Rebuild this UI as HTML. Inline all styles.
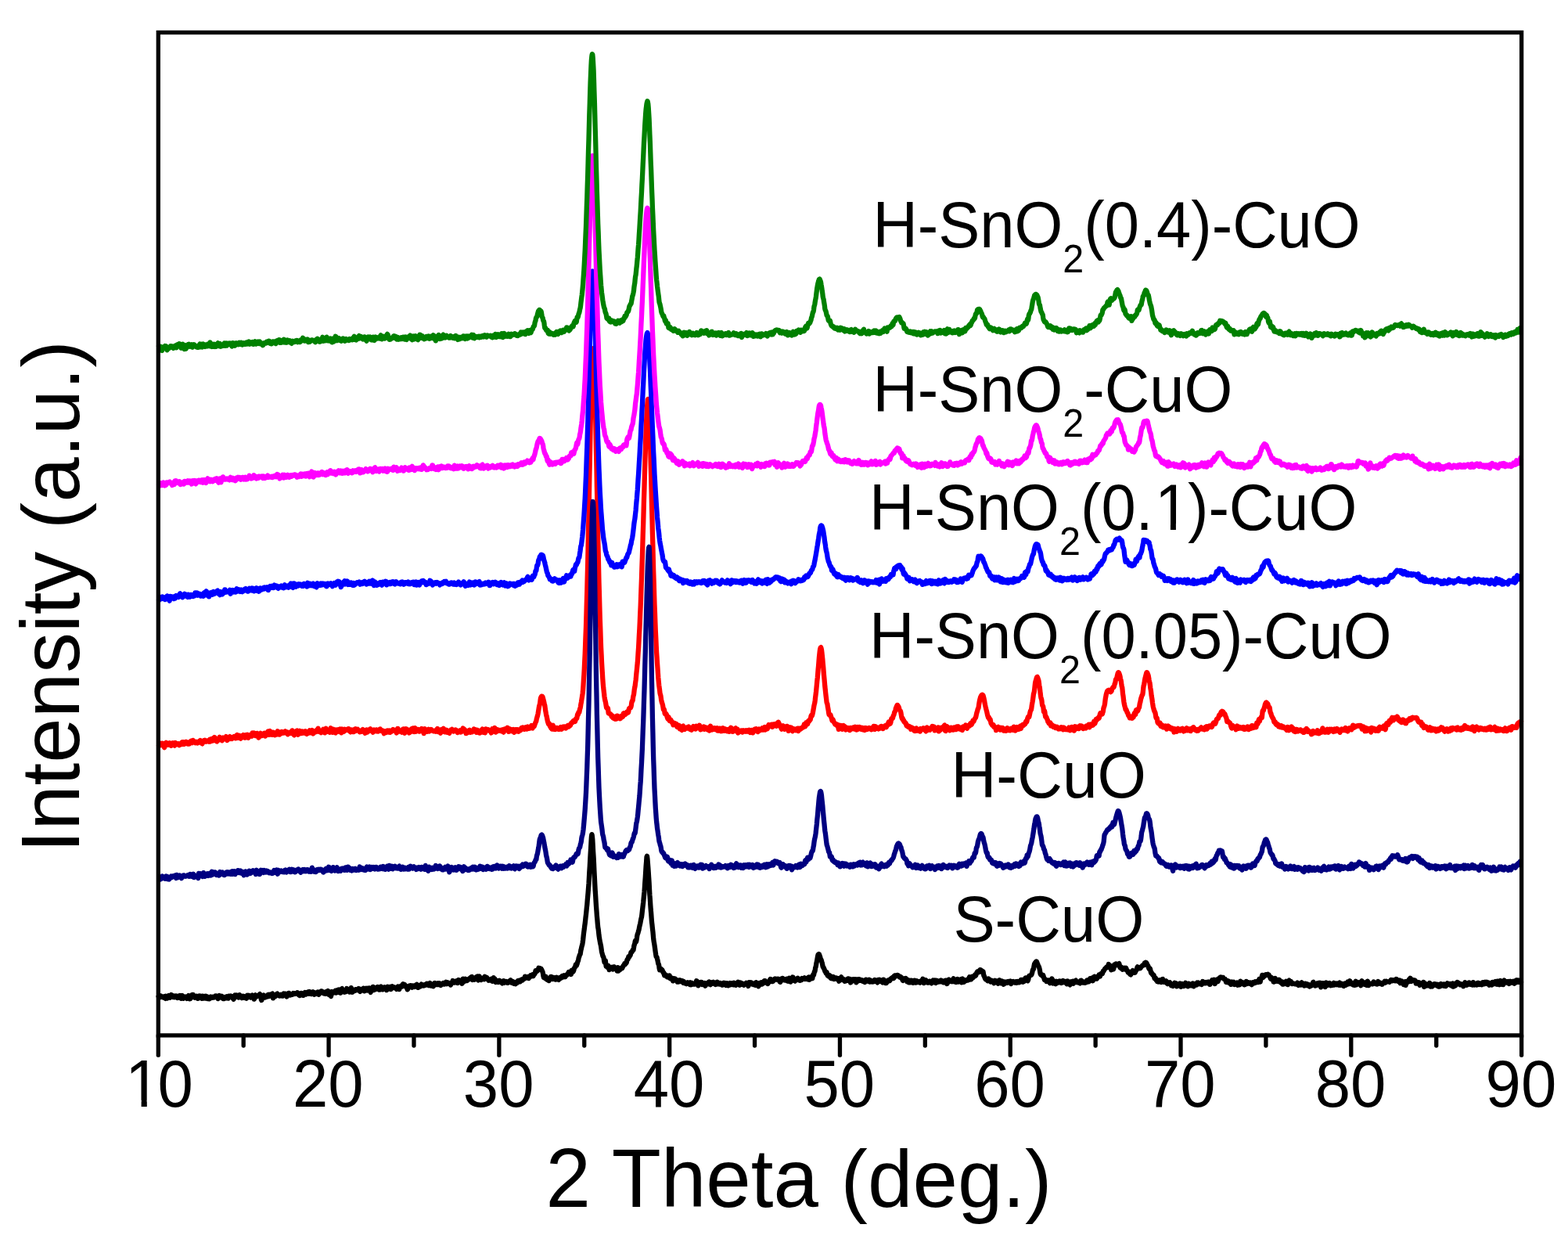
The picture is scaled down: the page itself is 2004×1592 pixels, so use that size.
<!DOCTYPE html>
<html lang="en">
<head>
<meta charset="utf-8">
<title>XRD patterns</title>
<style>
html,body{margin:0;padding:0;background:#ffffff;}
body{width:2004px;height:1592px;overflow:hidden;}
svg{display:block;}
text{font-family:"Liberation Sans",Arial,Helvetica,sans-serif;fill:#000;}
.curves path{fill:none;stroke-width:6.3;stroke-linejoin:round;stroke-linecap:butt;}
.axis{fill:none;stroke:#000;stroke-width:5.3;stroke-linecap:round;stroke-linejoin:miter;}
.ticklab text{font-size:81.5px;}
.lab text{font-size:79.5px;}
.title text{font-size:103.3px;}
.cover rect{fill:#ffffff;}
</style>
</head>
<body>
<svg width="2004" height="1592" viewBox="0 0 2004 1592" role="img" aria-label="XRD patterns of CuO and SnO2-CuO samples">
<rect x="0" y="0" width="2004" height="1592" fill="#ffffff"/>
<g class="curves">
<path d="M202.3 1271.6l.4 1.6 .5 1.2 .4-.4 .4 .4 .5 0 .4-1.2 .4-.9 .5 .4 .4 .6 .5 0 .4 0 .4 .2 .5 .8 .4 .2 .4-1 .5-.1 .4 .7 .4-1 .5-.1 .4 2.4 .4 .4 .5-2.1 .4-.9 .5 1.1 .4 1.2 .4 .5 .5-.3 .4-1.2 .4-.3 .5-.5 .4-1.2 .4 .6 .5 1.9 .4 .2 .4-.4 .5-.4 .4-1.9 .5-1 .4 .7 .4 .7 .5 .5 .4 .3 .4 .7 .5 .1 .4-1.7 .4 0 .5 .7 .4 .3 .4 .7 .5-.7 .4-.9 .5 0 .4 .4 .4 1.2 .5 .2 .4-.1 .4 .8 .5-.7 .4-1.5 .4 .1 .5 1 .4 .6 .4-.9 .5-1.5 .4 .6 .4 2 .5 1.1 .4-.8 .5-2.5 .4-.5 .4 1.6 .5 .2 .4 .7 .4 1.3 .5-.6 .4-1 .4-.5 .5 .1 .4 .1 .4 1 .5-.2 .4-1.1 .5 1.3 .4 1 .4-.6 .5-.5 .4-.6 .4-.9 .5-1.2 .4 .2 .4 2.6 .5 1.4 .4-.4 .4 .2 .5-.7 .4-1 .5 0 .4-1.3 .4-2 .5-.1 .4 0 .4 0 .5 1.9 .4 1.1 .4 0 .5 .4 .4 .3 .4-.2 .5-1.2 .4-.4 .5 .8 .4-.2 .4-.6 .5 0 .4 .9 .4 2 .5-.8 .4-2.2 .4-.2 .5 1.3 .4 1.2 .4-1.5 .5-1 .4 .4 .4 .4 .5 1.3 .4 .6 .5 .4 .4-.8 .4-2.2 .5 .4 .4 2.5 .4-.2 .5-1.8 .4-.7 .4 0 .5 1.2 .4 1.3 .4-.9 .5-1.7 .4 .6 .5 1.2 .4 .7 .4 .7 .5-1.3 .4-.8 .4 .9 .5-.1 .4 .5 .4 1.1 .5-.8 .4-.7 .4-.2 .5-1.1 .4 .3 .5 1.2 .4-.1 .4-.1 .5-.3 .4-.7 .4 .2 .5-.2 .4 .1 .4 .6 .5-.8 .4 .3 .4 .1 .5-1.6 .4 .6 .5 .3 .4-.8 .4 .4 .5 .4 .4 1.1 .4 1.6 .5-.7 .4-1.4 .4-1.2 .5-.7 .4 .5 .4 1 .5 0 .4 0 .5 .8 .4-.5 .4-1.2 .5 .5 .4 1.2 .4 1.1 .5 .5 .4-.3 .4 .5 .5-.1 .4-1.5 .4-.6 .5 .3 .4 0 .4 0 .5 .9 .4-.7 .5-1.2 .4 .2 .4 0 .5 .6 .4 1.5 .4-.9 .5-2.1 .4 .2 .4 .8 .5 0 .4 0 .4-.6 .5-.5 .4 .2 .5 .3 .4 .3 .4 .8 .5 1.3 .4-.1 .4-.1 .5 1.5 .4-1.1 .4-1.9 .5-1.3 .4-1 .4 .5 .5 1.4 .4 .4 .5-1.5 .4-.7 .4 .6 .5-.1 .4 0 .4 .5 .5 .7 .4 1.2 .4-.9 .5-2.3 .4 .4 .4 1.8 .5 .5 .4-1 .5 .2 .4 1.6 .4 .4 .5-1.4 .4-.8 .4 .9 .5-.4 .4-.6 .4 1.2 .5 .8 .4-.9 .4-.4 .5 1.4 .4 .3 .4-2 .5 .6 .4 1.9 .5-2.1 .4-1.8 .4 1.2 .5-.6 .4-.7 .4 1 .5-.1 .4-.6 .4 .5 .5 .8 .4 .7 .4 .5 .5-.9 .4-.6 .5 1.1 .4-.8 .4-1.8 .5 .7 .4 .8 .4 .2 .5 1.5 .4 1.9 .4-.2 .5-2.3 .4-2.1 .4-.6 .5 .8 .4 .6 .5-.7 .4 .2 .4 .8 .5-.5 .4-.5 .4-.3 .5-.2 .4 .1 .4-.1 .5-1 .4-.4 .4 1.2 .5 .5 .4 1.7 .5 3.6 .4 .8 .4-1.9 .5-1.1 .4-.5 .4-1.4 .5-1 .4-.4 .4 .6 .5 .5 .4 .5 .4 1.3 .5-.2 .4-1.6 .4 .1 .5 .8 .4-.4 .5 .2 .4 0 .4-1.5 .5-1.1 .4 1.3 .4 .9 .5-1.5 .4-.8 .4 1.1 .5 .5 .4-.7 .4-.6 .5-.5 .4 .3 .5 .3 .4-1.3 .4-.3 .5 2.6 .4 3.2 .4-.8 .5-3.1 .4 .1 .4 1.5 .5 .5 .4-.3 .4-1.3 .5-.7 .4 .5 .5-.6 .4-1.5 .4-.2 .5 .7 .4 .9 .4 .6 .5 .1 .4 .3 .4 .3 .5 .2 .4-.6 .4-.8 .5-.3 .4 .6 .5 .8 .4-.7 .4-.1 .5 1.1 .4 0 .4-.9 .5-1.2 .4-1 .4 .3 .5 .7 .4 0 .4-.8 .5-.1 .4 .4 .4 .4 .5 1.5 .4 1.6 .5-1.5 .4-1.7 .4 .2 .5-1.1 .4-.4 .4 .5 .5-.4 .4 .8 .4 1.4 .5 .3 .4-.3 .4-.1 .5-.3 .4-.6 .5-.1 .4 .2 .4 .3 .5-.9 .4-.8 .4 1.2 .5-.1 .4-1 .4 .1 .5 .3 .4 .4 .4-.2 .5-.4 .4 .3 .5 .1 .4-.6 .4-.9 .5 .7 .4 .6 .4 .7 .5 1 .4-.5 .4 .1 .5 1.2 .4-.5 .4-1.2 .5-.2 .4-1.1 .5 0 .4 1.3 .4-.3 .5 .2 .4 1.6 .4 .1 .5-1.5 .4-1.1 .4-.1 .5 .8 .4-.3 .4-1.7 .5 .7 .4 1.9 .5-.8 .4-1.1 .4 1 .5-.1 .4-1.6 .4-.4 .5 .5 .4 1.2 .4 .4 .5-1.5 .4-1.1 .4 .4 .5-.1 .4 .2 .4 1.8 .5 .7 .4-.1 .5 0 .4-.7 .4-1.2 .5-.8 .4 .5 .4 1.1 .5 1 .4 .8 .4-.7 .5-1.6 .4 0 .4 .7 .5 .5 .4 .3 .5-.2 .4 0 .4-.9 .5-1.5 .4 0 .4 2 .5 1.4 .4-.8 .4-.9 .5-.3 .4 0 .4-.4 .5-1.4 .4-.6 .5 .1 .4 .1 .4 .3 .5 1 .4 .9 .4-.1 .5-.2 .4 .1 .4 1 .5-.6 .4-1.2 .4 1 .5 1.1 .4-.3 .5-1.4 .4-1 .4 .8 .5 .2 .4-1.3 .4-.8 .5 1.8 .4 2.2 .4 .9 .5-1 .4-1 .4-.4 .5 .4 .4 3.3 .4 .7 .5-3.5 .4-2.4 .5 .4 .4 .9 .4 .1 .5 .3 .4-.3 .4-1.1 .5-.3 .4 .3 .4 .4 .5-.7 .4-1.4 .4 1.5 .5 1.5 .4-1.6 .5-1.5 .4 .6 .4 .3 .5-.9 .4-.9 .4-.1 .5 2.2 .4 1.4 .4-.3 .5-.9 .4 .9 .4 .8 .5-1.4 .4-1.3 .5-2.4 .4-.3 .4 2.7 .5 .7 .4-.7 .4 0 .5 .1 .4 .7 .4 1 .5-.1 .4-.5 .4 .3 .5 0 .4-.8 .5-2.2 .4-1.4 .4 1.4 .5 .5 .4-.2 .4 1.2 .5-.2 .4-.7 .4 1.4 .5 1.2 .4-.8 .4-1.3 .5-.2 .4-1.6 .4-1.6 .5 1.4 .4 2.6 .5 1.7 .4-.1 .4-.8 .5-.7 .4-.6 .4-.3 .5 .1 .4 0 .4 .6 .5-.4 .4-1.5 .4 .2 .5 .8 .4-.2 .5-.2 .4 .1 .4 .2 .5-.1 .4-1 .4-.8 .5 .3 .4 1.4 .4 1.4 .5 .7 .4-1.8 .4-1.2 .5 .9 .4 0 .5-.1 .4 .3 .4 .2 .5-.8 .4-1.3 .4-.4 .5 .1 .4 1.6 .4 1.9 .5-.5 .4-.4 .4-.1 .5-1.6 .4-.9 .5 .2 .4 1.1 .4 1.3 .5-1.3 .4-1.5 .4 .4 .5-.2 .4 .2 .4 .2 .5-.6 .4 1.5 .4 2.8 .5 1 .4-1.3 .4-2.1 .5-.2 .4 1.2 .5-.5 .4-2.7 .4-1.4 .5 2.1 .4 2.1 .4-1.3 .5-1.9 .4 .6 .4 1.7 .5 .1 .4-.7 .4-.2 .5-.2 .4-.7 .5-1.2 .4-.3 .4 .7 .5 .2 .4 .3 .4 1.4 .5 1.1 .4 0 .4-1.3 .5-1.4 .4-1.3 .4-.2 .5 1.1 .4 .8 .5 1.2 .4 .7 .4 .1 .5-.1 .4-1 .4-.9 .5-.8 .4-.2 .4 .8 .5 .7 .4 0 .4 .1 .5-.1 .4 .8 .5 1.4 .4-.7 .4-2 .5-1.7 .4 .6 .4 1.7 .5 0 .4-.7 .4-.5 .5-.9 .4 0 .4 1.8 .5 1.3 .4-.1 .5-1.3 .4-2.3 .4-.1 .5 1.2 .4 .3 .4 .3 .5-.1 .4 0 .4-.7 .5 .3 .4 .8 .4-.5 .5 .1 .4 .1 .4 .7 .5 1.2 .4-.7 .5-1.3 .4-.8 .4-.5 .5 1 .4 1.1 .4 .9 .5 .4 .4-1.8 .4-1.7 .5 .2 .4-.2 .4-.6 .5 .3 .4 .3 .5 .1 .4-.5 .4-2.1 .5-.8 .4 1.5 .4 .4 .5-.4 .4-.9 .4 .3 .5 1.8 .4 .6 .4 0 .5-.1 .4 .4 .5 1.3 .4 1 .4 1.1 .5-.4 .4-1.7 .4-1.5 .5-1 .4 0 .4 1.1 .5 .3 .4-1.2 .4-.6 .5-.1 .4 1 .5 1.3 .4 .2 .4-.9 .5-1.2 .4 0 .4 .3 .5 .2 .4 .4 .4 .5 .5-.5 .4-1.2 .4-.2 .5-.1 .4-.5 .4 0 .5 0 .4-.5 .5 1.4 .4 2.5 .4 .1 .5-1.5 .4-.6 .4 .3 .5-.6 .4-.5 .4 .8 .5 .6 .4-.4 .4-1.7 .5-.7 .4 .8 .5 .4 .4-.1 .4 0 .5 .5 .4 .3 .4-.8 .5-.4 .4 .5 .4 .2 .5-.6 .4-.7 .4 .5 .5 0 .4-1.3 .5-.2 .4 1.2 .4 .6 .5-.3 .4 .6 .4 .3 .5-1.1 .4-.4 .4-.8 .5-.7 .4 .6 .4 .7 .5 1.3 .4 .9 .5-.4 .4-.6 .4-.4 .5 .8 .4 .8 .4 .4 .5-1.2 .4-1.8 .4-1 .5-.2 .4 1.2 .4 .5 .5-.3 .4 .1 .4 .6 .5-.2 .4-1.4 .5-.2 .4 1 .4 .6 .5-.5 .4 .8 .4 0 .5-2 .4 .4 .4 1.3 .5 .5 .4 .6 .4-.7 .5-1 .4 .6 .5-.2 .4-.7 .4-.3 .5-.6 .4 .5 .4 .9 .5 .1 .4-1.2 .4-.7 .5 .1 .4-.6 .4-.4 .5 .4 .4 .8 .5 1.1 .4-.3 .4-1.5 .5 .2 .4 .3 .4 .2 .5 .9 .4-.1 .4-.7 .5-.2 .4 1.7 .4 1 .5-2 .4-.9 .5 .5 .4-.1 .4-1.4 .5-1.7 .4 .5 .4 .7 .5-.3 .4 1 .4 .7 .5-.1 .4-.1 .4-.3 .5-.6 .4-.9 .4 .3 .5-.1 .4-.8 .5 1.2 .4 1.8 .4-1.4 .5-2.6 .4 .2 .4 .9 .5-.2 .4 .5 .4-.4 .5-.3 .4 .2 .4 .1 .5 1.7 .4 2 .5-.5 .4-2.9 .4-2.6 .5 1 .4 1.4 .4 .2 .5 .7 .4-.8 .4-1.8 .5-.6 .4 .7 .4 .9 .5-.9 .4 0 .5 1.6 .4-.3 .4-1.2 .5-.3 .4 0 .4-.3 .5-.5 .4 .6 .4 0 .5-1.7 .4-.1 .4 .3 .5-.9 .4-.6 .5-.1 .4 2.4 .4 1.6 .5-1.8 .4-.2 .4 1 .5-.6 .4 .6 .4 .6 .5-1.4 .4-.9 .4 .1 .5-.3 .4-.7 .5-.4 .4-.1 .4-.3 .5 1.1 .4 2.3 .4 1.5 .5-1.1 .4-3 .4-.9 .5 1.3 .4 .8 .4 .6 .5 .9 .4 .9 .4-.3 .5-1.7 .4-.2 .5 1 .4-.3 .4-.9 .5 .2 .4 .8 .4 .7 .5-1.4 .4-2.1 .4 .2 .5 1.4 .4 1.1 .4-.9 .5-.8 .4 .3 .5 .9 .4 .9 .4 .1 .5 .8 .4 .8 .4-.5 .5-.1 .4 .4 .4 .1 .5-.4 .4-.7 .4-.1 .5-.5 .4 .9 .5 1.6 .4 .5 .4 .1 .5-1.3 .4-2.2 .4-1.1 .5 .8 .4 .8 .4-.4 .5 .8 .4 2.3 .4 1.3 .5-1.2 .4-1 .5 .8 .4 .1 .4-.2 .5 1.2 .4 .3 .4-.3 .5 .1 .4-1.2 .4-.8 .5 .5 .4 .8 .4 .3 .5-.2 .4 0 .4 .2 .5 1.6 .4 .5 .5-1.9 .4-.2 .4 .7 .5-1.7 .4 .4 .4 2.1 .5-.9 .4-.9 .4-.2 .5 .2 .4 .9 .4 0 .5-.8 .4 .6 .5 1.1 .4-.3 .4 .2 .5-.3 .4-.7 .4 .1 .5-.7 .4-.9 .4 .7 .5-.7 .4-.8 .4 1.9 .5 1.3 .4 .1 .5-.8 .4-.4 .4 .3 .5-.4 .4 .7 .4 1.6 .5-.4 .4-.9 .4 .6 .5 .9 .4 .3 .4-.4 .5-1.1 .4-1 .5 .3 .4 .9 .4-1 .5-1.7 .4 .7 .4 .7 .5-1.4 .4-.4 .4 .2 .5 .2 .4 1 .4-.8 .5-1.4 .4-.1 .4-.3 .5-.3 .4 .6 .5 .4 .4-.7 .4-.9 .5-.5 .4-.2 .4 .6 .5-.6 .4-2.4 .4 .3 .5 1.9 .4-.1 .4-1.1 .5-.1 .4 .3 .5 .2 .4-.1 .4-.8 .5 .8 .4 1.1 .4-1.1 .5-.6 .4 .3 .4-1 .5-1.4 .4 0 .4 .4 .5 .2 .4 0 .5-.7 .4-.9 .4 .8 .5 1.2 .4-.8 .4-1 .5-.5 .4-.6 .4-.1 .5-1.7 .4-2.3 .4 .1 .5 1.1 .4-.3 .5-.8 .4 .3 .4-.6 .5-1.1 .4-.6 .4-1.5 .5 .1 .4 1.5 .4 .1 .5-.7 .4-.4 .4 0 .5 .4 .4 .6 .4 .7 .5 1 .4 1.1 .5 1.3 .4 2.3 .4 2.6 .5 1.6 .4 .3 .4-.1 .5 .4 .4 .3 .4-1.2 .5-1 .4 1.3 .4 2.3 .5-.2 .4-.5 .5 1.5 .4 .2 .4-.4 .5 1 .4 .2 .4-.7 .5-1.6 .4-.5 .4 .1 .5-1.3 .4-1.3 .4 0 .5 1.5 .4 1.2 .5 .6 .4 0 .4-1.1 .5-1 .4 0 .4 .9 .5 .7 .4-.1 .4 .4 .5 .6 .4-1.2 .4-1.4 .5-.1 .4 1.1 .5 1.3 .4-.1 .4-1 .5-.1 .4 1.3 .4 .5 .5-1 .4-.1 .4-.4 .5-1.3 .4 .4 .4 .6 .5-.6 .4-.7 .5-.8 .4-.9 .4 0 .5 .9 .4 .6 .4-.2 .5-1.3 .4-.8 .4 .2 .5 .9 .4 .9 .4-.9 .5-.8 .4 0 .4-.8 .5 0 .4-.3 .5-1.5 .4-.3 .4-.1 .5-1.5 .4 0 .4 1 .5-.2 .4-1.1 .4 0 .5 2.3 .4 .9 .4-2.6 .5-2.5 .4 .1 .5 1 .4 .8 .4-.1 .5-.8 .4-1 .4-1.8 .5-1.6 .4-.3 .4-.4 .5-1.8 .4-1.5 .4 .9 .5 .4 .4-1.1 .5-1.2 .4-1.8 .4-1.3 .5-.8 .4-2.3 .4-2 .5-.9 .4-1.9 .4-.6 .5-.4 .4-2.7 .4-2.7 .5-1.7 .4-2.1 .5-1.9 .4-1.2 .4-2.3 .5-3.6 .4-3.8 .4-4 .5-3.7 .4-2.9 .4-3.5 .5-3.6 .4-3.3 .4-4 .5-4.1 .4-3.9 .4-4.1 .5-4.4 .4-5.4 .5-5.4 .4-4.7 .4-5.2 .5-6.3 .4-7.2 .4-7.7 .5-7.4 .4-7.6 .4-7.4 .5-7.7 .4-8 .4-6.6 .5-3.2 .4 1.6 .5 4.9 .4 7 .4 8.1 .5 7.4 .4 8 .4 9.3 .5 9.8 .4 8.1 .4 7.1 .5 7.5 .4 7 .4 6.1 .5 6.4 .4 6 .5 5 .4 5.1 .4 4.1 .5 2.9 .4 3.6 .4 3.9 .5 3.4 .4 2.3 .4 2.3 .5 2.6 .4 1.5 .4 2.1 .5 3.6 .4 3.2 .5 1.9 .4 1.3 .4 1.9 .5 1.3 .4 0 .4 1.7 .5 3.1 .4 2.1 .4-.2 .5-1.8 .4 .1 .4 4 .5 3.5 .4-.7 .4-.3 .5 1.8 .4-.7 .5-1.4 .4 0 .4 .7 .5 2.8 .4 2 .4-.5 .5-.6 .4-.7 .4-.7 .5 .4 .4 .7 .4 .2 .5-1 .4-1.1 .5 1.4 .4 1.3 .4-1.1 .5-.7 .4-.5 .4-.9 .5 .8 .4 1 .4-.6 .5 0 .4 .6 .4 .1 .5 1.7 .4 1.6 .5-2 .4-2.3 .4 1.8 .5 2.6 .4-.5 .4-2.1 .5 .1 .4 1.2 .4-.3 .5-.7 .4-.8 .4-.8 .5 .2 .4 .6 .5-.4 .4-1 .4-.8 .5-.9 .4-.9 .4-.3 .5-.5 .4-1.4 .4 .2 .5 .6 .4-1.2 .4-.9 .5 .5 .4-.7 .4-2.5 .5-1.3 .4 .1 .5-.6 .4-1.5 .4-1.8 .5-.2 .4 .5 .4-1 .5-.7 .4-.1 .4-2 .5-2 .4-.3 .4-.3 .5 .1 .4-1 .5-1.5 .4 .4 .4-.4 .5-2.9 .4-2.8 .4-.9 .5-1.6 .4-2.6 .4-1.1 .5 1 .4 .5 .4-1.5 .5-3.1 .4-3.1 .5-2.1 .4-.8 .4-1.4 .5-2.1 .4-.9 .4-2.3 .5-2.7 .4-1.4 .4-1.8 .5-2.6 .4-2.3 .4-1.8 .5-1.7 .4-3.4 .5-4.4 .4-3.5 .4-3.4 .5-4.2 .4-4.3 .4-4.2 .5-5 .4-5.6 .4-6.5 .5-6.7 .4-6.6 .4-6.6 .5-6.2 .4-6.1 .5-1.2 .4 3 .4 5.2 .5 6.2 .4 5.8 .4 6.4 .5 7.5 .4 8 .4 7.6 .5 6.6 .4 6.2 .4 5.6 .5 5.3 .4 5.7 .4 5.3 .5 4 .4 4 .5 4.1 .4 4.4 .4 4.8 .5 3.7 .4 1.9 .4 2.7 .5 3.5 .4 2.9 .4 2.9 .5 3.2 .4 2.1 .4 .5 .5 .4 .4 1.9 .5 1.9 .4 2.2 .4 2.2 .5 .4 .4 1.6 .4 3.6 .5 2.3 .4-.3 .4-1.2 .5-.1 .4 1.7 .4 .3 .5-1 .4 .2 .5 .8 .4 1.2 .4 1.3 .5 .1 .4 .3 .4 2 .5 1.7 .4-.6 .4-.7 .5 .7 .4 .2 .4 0 .5 .9 .4 .9 .5 .4 .4-.8 .4-.6 .5 .9 .4 1 .4 .3 .5-1.5 .4-1 .4 2.4 .5 1.4 .4-.6 .4 .1 .5-.4 .4 0 .4 1.6 .5 .4 .4 .2 .5 1.8 .4-.3 .4-2.2 .5-.6 .4 .4 .4-.1 .5-.1 .4 1 .4 .9 .5-.1 .4-.6 .4 .2 .5 1.8 .4 .8 .5-1.1 .4 .3 .4 .8 .5-.2 .4-.2 .4-1 .5-.8 .4 1.3 .4 .3 .5-.8 .4-.3 .4 0 .5 1.3 .4 .2 .5-1 .4 .5 .4 1.9 .5-.2 .4-1.5 .4 .9 .5 1.3 .4-.3 .4-.4 .5 .4 .4 .9 .4 .3 .5-.8 .4-.7 .5-.2 .4-.2 .4 .2 .5 .6 .4 .8 .4 .4 .5 .1 .4 .5 .4-1.6 .5-1 .4 1.6 .4 1.4 .5-.6 .4-1.4 .4-.2 .5 .7 .4 .8 .5 0 .4-.5 .4-.1 .5 .1 .4-.4 .4-.1 .5 1 .4-.2 .4-1.6 .5-1.2 .4-1.3 .4 .2 .5 1.9 .4 1 .5 1.4 .4 1.7 .4-1.6 .5-2.4 .4 .1 .4 .4 .5 0 .4 .8 .4-.9 .5-.8 .4 0 .4 0 .5 1.8 .4 1.2 .5-1.2 .4-.8 .4 0 .5 .5 .4 1.3 .4-.4 .5-1.5 .4 1.6 .4 2.2 .5-1.7 .4-1.2 .4 .3 .5-.9 .4 0 .5 .6 .4-1.1 .4-.3 .5 1.8 .4-.5 .4-2.3 .5 .3 .4 1.6 .4 1.2 .5 .6 .4-.6 .4-1.1 .5-1 .4 .5 .4 .9 .5-.3 .4 0 .5-.9 .4-.7 .4 1.4 .5 .4 .4-1.3 .4 .8 .5 1.6 .4 .3 .4-.3 .5-1.1 .4-1.5 .4-.3 .5-.2 .4 .3 .5 1.6 .4 .6 .4-.3 .5-.9 .4 .1 .4 1.4 .5-.3 .4-1.2 .4 .5 .5 .5 .4 .1 .4 1 .5 .4 .4-.5 .5 .5 .4-.5 .4-1.7 .5-.5 .4 .2 .4-.1 .5-.1 .4 .8 .4 1 .5 .7 .4 .6 .4-.2 .5-1.4 .4-1.1 .5 1.3 .4 1.4 .4 .4 .5-.3 .4-.6 .4-.5 .5-.5 .4-.3 .4-1 .5 .4 .4 1.7 .4-.7 .5-1.1 .4-.2 .5 0 .4 .9 .4 .8 .5 .3 .4-1.3 .4-1.1 .5 .5 .4 .5 .4 1.7 .5 0 .4-.8 .4 1 .5-.9 .4-1.6 .4 .6 .5 .7 .4-1.2 .5-1.6 .4 .1 .4 .9 .5-.1 .4 .7 .4 2.4 .5-.5 .4-2 .4-.6 .5 .3 .4 .6 .4-.1 .5 .6 .4 .8 .5-.4 .4-.3 .4 1.1 .5 .5 .4-.8 .4 .2 .5-.3 .4-1 .4-.1 .5-.3 .4-.7 .4 .2 .5 .9 .4 .1 .5-.7 .4 1.6 .4 2.2 .5-2.2 .4-2.7 .4 .2 .5 .5 .4-.2 .4 .3 .5 .1 .4-.7 .4 .4 .5 1.2 .4 .5 .5-.6 .4-.4 .4 1 .5 .5 .4 .2 .4 .1 .5-.3 .4-.2 .4 .3 .5 .8 .4-1.3 .4-2.4 .5 .8 .4 2.4 .4-.3 .5-1.3 .4 .8 .5 1.6 .4 1.2 .4-.9 .5-2.4 .4-.9 .4 .2 .5 .4 .4 .2 .4-.9 .5-.6 .4 1.3 .4 .9 .5-.8 .4-1 .5 .2 .4 .4 .4-1.3 .5-1.4 .4-.4 .4 .8 .5 .4 .4-1.3 .4 .7 .5 1.5 .4-.1 .4-.5 .5 .2 .4 1.5 .5 .5 .4-.3 .4-.8 .5-1.2 .4-.5 .4-.3 .5-1 .4-1.4 .4-.5 .5 .1 .4 1.6 .4 1.5 .5 0 .4-.5 .5-.2 .4 .4 .4-.2 .5-.8 .4-.8 .4-.5 .5-.8 .4-.2 .4 .8 .5 .2 .4-.4 .4-.3 .5-.1 .4-.1 .4 .4 .5 .7 .4-.7 .5-.4 .4 .1 .4 0 .5 .6 .4 1.5 .4 1.8 .5 .1 .4-.9 .4-1.7 .5-1.7 .4-.2 .4-.1 .5-.2 .4-.1 .5 .9 .4 1.4 .4 0 .5-.3 .4 .4 .4-.8 .5-.2 .4 .6 .4-.4 .5 1.3 .4 .3 .4-2.4 .5 .1 .4 .8 .5 .4 .4 1.7 .4-.9 .5-2.6 .4-.4 .4 .7 .5 .6 .4 1.8 .4 1.7 .5-.8 .4-1.1 .4 .2 .5-.5 .4-2.1 .5-1.8 .4 .1 .4 1.6 .5 1.5 .4 1.1 .4 .3 .5 .2 .4 .3 .4-1 .5-1.2 .4 1 .4-.1 .5-1.5 .4-.5 .4-.2 .5-.4 .4 .4 .5 1.5 .4 .8 .4-.1 .5-1 .4 .1 .4 1.3 .5-.5 .4-1.1 .4 .3 .5 .7 .4-.9 .4-1.1 .5 .7 .4 .2 .5-.4 .4-.3 .4-.4 .5 0 .4-.6 .4 .4 .5 1.3 .4-.1 .4-.7 .5 .1 .4 .2 .4 .1 .5 .2 .4 .4 .5-.6 .4-1.9 .4-.2 .5 2 .4 1.4 .4-.8 .5-1 .4-.9 .4-.8 .5 .2 .4-.1 .4-.5 .5 1.5 .4 .8 .5-2.6 .4-2.3 .4 .2 .5 .2 .4-2.2 .4-1.9 .5-.1 .4-1.8 .4-3.1 .5-1.3 .4-2 .4-2.9 .5-1.9 .4-2.4 .5-2.9 .4-2.2 .4-1.3 .5-.6 .4-.2 .4 .3 .5 1.3 .4 1.1 .4 1.2 .5 1.8 .4 .9 .4 .6 .5 1.7 .4 1.3 .4 1.2 .5 3 .4 1.9 .5 .2 .4 1.1 .4 .9 .5 .8 .4 1.3 .4 1.3 .5 .5 .4 .7 .4 1.3 .5-.5 .4-.8 .4 1 .5 2.5 .4 1 .5-1.1 .4 .5 .4 1.6 .5-.2 .4-1.1 .4-.1 .5 .8 .4 1.4 .4 1.3 .5 .3 .4-.4 .4 .4 .5 .3 .4-.7 .5-.9 .4-.7 .4 .5 .5 1.9 .4 .6 .4-1.2 .5 .1 .4 .4 .4-1 .5 0 .4 0 .4 .5 .5 1 .4-.2 .5 .2 .4-.2 .4-.3 .5 1.7 .4 1.7 .4-1.2 .5-2.6 .4-.2 .4 1.1 .5-.4 .4-1.5 .4-.5 .5 1.6 .4 2 .4 .1 .5-1.3 .4-.1 .5 1.1 .4 .3 .4-.4 .5 .9 .4 1.1 .4-.6 .5-1.3 .4-.1 .4 .6 .5 .8 .4-.3 .4-.8 .5 .8 .4-.6 .5-1.8 .4 .4 .4 .4 .5-.4 .4 .2 .4-.1 .5 2 .4 2.6 .4-1.7 .5-2 .4 .4 .4-.1 .5 .1 .4 1.3 .5-.5 .4-1.7 .4 .5 .5 0 .4-.5 .4 1.7 .5 .4 .4-1.8 .4-.2 .5 2.2 .4 1.8 .4-.8 .5-2 .4-.9 .5 .3 .4 1.4 .4-.2 .5-2.1 .4 .1 .4 .4 .5-.1 .4 .9 .4 .5 .5-.2 .4-.6 .4 .3 .5 .5 .4-.7 .4 .6 .5 1 .4-.4 .5-.6 .4 .1 .4-.1 .5 .7 .4 1.5 .4-.9 .5-2 .4-.5 .4 .1 .5 .5 .4 0 .4 .3 .5 1.1 .4 .1 .5-.7 .4-.8 .4-.3 .5 1.1 .4 1.6 .4-.2 .5-1.3 .4-.5 .4 .8 .5 .9 .4-.4 .4 .6 .5 .1 .4-1 .5-.3 .4 .3 .4 .7 .5-.3 .4-1.5 .4-.5 .5 .2 .4 .1 .4 .9 .5 .8 .4 0 .4-.4 .5 .5 .4 1.3 .5-1.1 .4-2.3 .4 .7 .5 1.4 .4-1.2 .4-1.2 .5 1 .4 .9 .4 .3 .5 .2 .4-.9 .4-.4 .5 .4 .4 1.7 .4 .5 .5-2.6 .4-1.2 .5 0 .4 .3 .4 1.1 .5 .4 .4 1.2 .4 1.4 .5-.4 .4-.6 .4 1 .5-.5 .4-2.1 .4 .1 .5-.1 .4-.9 .5 0 .4 .1 .4-.3 .5 0 .4 .8 .4-.5 .5-1.7 .4-.1 .4-.3 .5-.6 .4 .3 .4 0 .5-.5 .4-1 .5-.1 .4 1.5 .4-.4 .5-2.7 .4-.3 .4 1.1 .5-.7 .4-.5 .4 .8 .5-.1 .4-.8 .4-.3 .5-.2 .4-.1 .5 .2 .4 .3 .4 .2 .5 .4 .4 .7 .4 .7 .5-.4 .4 0 .4 .9 .5-.5 .4 .4 .4 1.3 .5-.2 .4 .9 .5 1.8 .4 .3 .4-.6 .5-1.2 .4-.4 .4 .6 .5 0 .4 .5 .4-.6 .5-1.3 .4 .5 .4 1.2 .5 1.4 .4 1.3 .4 0 .5-1.6 .4-.5 .5 1.7 .4 1.3 .4-.4 .5-1.3 .4 .4 .4 1.5 .5-1.3 .4-1.4 .4 .5 .5-.4 .4 .4 .4 1.8 .5 .6 .4 .1 .5 .1 .4-1.5 .4-1.2 .5 .7 .4 .1 .4-1.2 .5 .6 .4 2.3 .4-.2 .5-2 .4-.1 .4 1.1 .5 .7 .4 .1 .5-.5 .4-.4 .4 .4 .5-.5 .4-.2 .4 1.2 .5 .4 .4-1.2 .4-.8 .5-.4 .4 .3 .4 1.4 .5-.1 .4-2.5 .5-1.6 .4 1.7 .4 2.8 .5 .8 .4-.8 .4-.5 .5 .7 .4-.2 .4-2.1 .5-.7 .4 1.4 .4 .4 .5 .1 .4 .7 .4 .4 .5 .3 .4-.1 .5-.8 .4-.7 .4 .2 .5 .1 .4-.5 .4 .4 .5 .3 .4-.1 .4 1.1 .5 .7 .4-.8 .4-1.2 .5-1.1 .4-.5 .5 .8 .4 1 .4-.6 .5-1.3 .4-.1 .4 1.6 .5 1.5 .4 .4 .4-1.2 .5-1.6 .4-.4 .4 .2 .5 1.3 .4 .4 .5-.9 .4 .2 .4 .4 .5-.9 .4-.2 .4 .4 .5-.1 .4 .7 .4-.4 .5-1.3 .4 .4 .4 .8 .5-.1 .4-.2 .5 .9 .4 .9 .4-.7 .5-.5 .4 .3 .4 .8 .5-.4 .4-2.1 .4-.1 .5 1.3 .4 1.2 .4 .9 .5 1 .4-.3 .4-2.1 .5-1.5 .4-1.3 .5-.2 .4 .7 .4 .1 .5 1.1 .4 .1 .4-.3 .5 .6 .4 .1 .4-.6 .5-.9 .4 .8 .4 .9 .5-1.3 .4-1.8 .5-.7 .4 1.7 .4 2.1 .5 .1 .4-1.4 .4-.1 .5 1.9 .4 .2 .4-1.2 .5 .3 .4 .2 .4-1.6 .5-1.7 .4 1.5 .5 2.2 .4-1.2 .4-1.2 .5 1.1 .4-.1 .4-1.1 .5-.4 .4-.5 .4-.1 .5 2.1 .4 2.2 .4-1.3 .5-2.5 .4-1 .5 1.3 .4 1.8 .4 1.1 .5 0 .4-1.6 .4-1 .5 .6 .4 .2 .4 0 .5 0 .4-.3 .4-.5 .5-.4 .4 .4 .4 .4 .5-.2 .4-.2 .5-1.1 .4-2 .4-.8 .5 1.8 .4 1.3 .4 0 .5 .1 .4-.1 .4-.8 .5-1.5 .4-1.3 .4 .4 .5 1.1 .4-.6 .5-1.3 .4-.1 .4 .4 .5-1.3 .4-.8 .4 .8 .5 .3 .4-.7 .4-1.5 .5-1.2 .4-1.2 .4-.5 .5 .7 .4-.1 .5-.2 .4 .3 .4-.3 .5-1.2 .4-1.2 .4-.5 .5 .1 .4 .1 .4 .3 .5 .3 .4 .3 .4 .9 .5 1.3 .4-.4 .5-.6 .4 2.4 .4 2.7 .5 .6 .4 .9 .4 1.3 .5 1.1 .4 .8 .4 .3 .5-.4 .4-.3 .4 .7 .5 .9 .4 .8 .5-.2 .4-2 .4-.5 .5 2.2 .4 .3 .4-1.2 .5 .5 .4 1.4 .4 .7 .5-.5 .4 0 .4-.3 .5-.8 .4 .9 .4 .3 .5-.8 .4 1.1 .5 1.3 .4 .6 .4-.6 .5-2.1 .4-.8 .4 .4 .5 .1 .4 .1 .4 .6 .5 .3 .4-.9 .4 0 .5 2 .4 1.4 .5-1.1 .4-1.4 .4-1 .5-.9 .4 .6 .4 1.3 .5 1.1 .4 .8 .4 .3 .5-.2 .4-1.3 .4-1.4 .5 1.3 .4 1.8 .5 .5 .4 .6 .4-.3 .5-1.8 .4-1.1 .4 1 .5 .8 .4 0 .4-.2 .5-.9 .4-.9 .4 0 .5 .8 .4 .6 .5-.5 .4-1.2 .4 .2 .5 .6 .4 .1 .4 .2 .5-.9 .4-.7 .4 2.2 .5 1.3 .4-2.3 .4-.7 .5 1.1 .4 0 .4-.7 .5-.4 .4 .6 .5 .6 .4-.1 .4 .1 .5 .3 .4-.3 .4-.8 .5-.2 .4 .7 .4 .9 .5-.5 .4-1.2 .4-.2 .5 .6 .4 .7 .5-.9 .4 0 .4 1 .5-.4 .4-.5 .4 .3 .5-.9 .4-1.8 .4 .5 .5 .8 .4-1.4 .4 .4 .5 2.3 .4 .1 .5-1 .4 0 .4 .4 .5-.5 .4-1 .4-1.3 .5-1.8 .4-.1 .4 1.7 .5 .9 .4 .3 .4 .2 .5 .2 .4 .5 .5-.8 .4-1.7 .4-2.1 .5-1.7 .4-.1 .4-.2 .5-.1 .4-.2 .4-.5 .5 .1 .4-.5 .4-1.1 .5-1.5 .4-2.3 .4-1.6 .5 .1 .4-.9 .5-2.7 .4-2.7 .4-1.6 .5-.5 .4-.7 .4-.5 .5-.6 .4-.4 .4 .2 .5 1 .4 1.3 .4 1 .5 .8 .4 1.1 .5 1 .4 .7 .4 1.6 .5 1.9 .4 2.7 .4 2.5 .5 .9 .4 .6 .4 .1 .5-.5 .4 .9 .4 .7 .5-1.2 .4 .1 .5 1.7 .4 1.3 .4 1.5 .5 1.6 .4 .3 .4-.1 .5-.1 .4-.4 .4 .9 .5 1.6 .4-.8 .4-.6 .5 .5 .4 .1 .5-.5 .4-.5 .4 0 .5 .9 .4 2.3 .4 .6 .5-1.2 .4-.3 .4-.2 .5-1.2 .4-1.4 .4-1.2 .5 .8 .4 3.5 .4 1.6 .5-.6 .4-.3 .5-.3 .4 .2 .4-.6 .5-.8 .4 1.5 .4 1.6 .5-1.2 .4-2.2 .4 .3 .5 1.6 .4 0 .4-.7 .5 .2 .4 .2 .5-.7 .4-1.1 .4-.1 .5 1.3 .4 .4 .4-.4 .5 .6 .4 .5 .4-1 .5-1 .4 1 .4 .6 .5-1.5 .4-.9 .5 .9 .4 .3 .4-.1 .5 1 .4 .3 .4-1.1 .5-.4 .4 .4 .4 .3 .5 1.3 .4 1.3 .4-1.9 .5-1.9 .4 .4 .5 .8 .4 1.2 .4 .9 .5 .2 .4 .8 .4 .5 .5-1.5 .4-1.9 .4-.6 .5 .3 .4 1.3 .4 0 .5-1.6 .4-.4 .5 1.5 .4 1.3 .4-1.1 .5-1.7 .4-.4 .4 .2 .5 0 .4-.7 .4-.3 .5 1.5 .4 .7 .4-.6 .5 .1 .4 .7 .4 .3 .5-.2 .4-.1 .5 .4 .4 .1 .4 .5 .5 .3 .4-1.9 .4-1.5 .5-.3 .4-.1 .4 .7 .5 .6 .4 .7 .4 .9 .5 .1 .4-.7 .5-.3 .4 .6 .4 .4 .5 .3 .4-.2 .4-.6 .5 .2 .4 .1 .4-.6 .5-1.3 .4-1.1 .4 .1 .5 .2 .4-.2 .5 .9 .4 1 .4-.7 .5-1.5 .4-1 .4-1 .5 .6 .4 1.7 .4-.5 .5-.5 .4-.3 .4-1.8 .5 1.2 .4 2.6 .5-1 .4-2.3 .4-1.7 .5-.3 .4 1.4 .4 0 .5-1.2 .4 1 .4 1.5 .5 .1 .4 0 .4-.4 .5-1 .4-.9 .4-1.1 .5-.1 .4-.4 .5-1.4 .4 .1 .4 1.4 .5 .5 .4-1 .4-1.4 .5-1 .4-.1 .4 .4 .5-.2 .4 0 .4-1.3 .5-2 .4-.3 .5 0 .4-.8 .4-.8 .5-1 .4-.5 .4 0 .5-.5 .4-.8 .4-.4 .5 0 .4 .1 .4 .2 .5-.1 .4-2 .5-1.9 .4 .8 .4 1.4 .5 .8 .4-.3 .4-1 .5 1.1 .4 3.2 .4 1.3 .5-1.9 .4-1.4 .4 .3 .5 .1 .4 1 .5 1 .4-.9 .4-2.6 .5-2.5 .4 .1 .4 1.7 .5-.4 .4-1.7 .4-.6 .5 .2 .4 0 .4-.1 .5 .2 .4 .3 .4 .4 .5 .1 .4-1.1 .5-.4 .4 1.7 .4 2.6 .5 1 .4-1 .4 0 .5 .1 .4 .2 .4 1.4 .5 1.2 .4 .4 .4-.3 .5-.5 .4-.3 .5-.4 .4-.3 .4 .8 .5 .6 .4-1 .4-.3 .5-.3 .4 .9 .4 1.8 .5 .6 .4-.1 .4 .9 .5 1.5 .4 .4 .5-.5 .4-.7 .4 .9 .5 1.8 .4 .4 .4 .5 .5 .3 .4-1.6 .4-1.3 .5-.4 .4-.2 .4-1.2 .5-.7 .4 1.2 .5 .3 .4-.9 .4 .8 .5 1.5 .4-.1 .4-.2 .5-1.2 .4-1 .4-.2 .5-.8 .4-1.1 .4-1.9 .5-1.1 .4 1.5 .4 .5 .5-.5 .4 .4 .5-.3 .4-.7 .4 .1 .5 1 .4-.6 .4-1.4 .5-.2 .4-.3 .4-.2 .5-.5 .4-.7 .4-.2 .5 .2 .4-.2 .5 0 .4-.9 .4-1.8 .5-.3 .4-.1 .4-.5 .5 .2 .4 .4 .4 .6 .5 1.2 .4 1.2 .4 .3 .5 .5 .4 1.5 .5 1.5 .4 .8 .4-.2 .5-.3 .4 .4 .4 1.7 .5 2.7 .4 1.1 .4-.6 .5 .7 .4 1.3 .4 .4 .5 .8 .4 .3 .5-.5 .4 .7 .4 2.1 .5 1.8 .4 .4 .4-.8 .5-.1 .4 1.3 .4 1.2 .5-.2 .4 .7 .4 1.4 .5 0 .4-.2 .5 .6 .4-.3 .4-1.8 .5-.1 .4 1.8 .4 .4 .5-.2 .4-.1 .4 .3 .5 .5 .4-.2 .4-1.6 .5-2.1 .4-.1 .4 1.4 .5 1.7 .4 .5 .5-.9 .4-.2 .4 .2 .5 .4 .4 .9 .4-.8 .5-.8 .4 1.1 .4 1.2 .5 1 .4 .4 .4-.5 .5-.8 .4-.3 .5 .8 .4 .7 .4-1.2 .5-.4 .4 1.5 .4 .1 .5 .7 .4 1.7 .4-.4 .5-1.7 .4 .3 .4 1.9 .5 .4 .4-1.3 .5-.8 .4-.2 .4-1 .5-.7 .4 .9 .4 1.1 .5-1 .4-.5 .4 2.3 .5 1.6 .4-.5 .4-.8 .5-.6 .4 .4 .5 .5 .4-1.2 .4-1.1 .5-.3 .4-.2 .4 .5 .5 .4 .4 1.5 .4 1.8 .5-.8 .4-1.7 .4-1.3 .5 .7 .4 1.9 .4 .3 .5 .3 .4-.1 .5-1.5 .4-.6 .4 .2 .5-.7 .4-1.6 .4 .7 .5 2.2 .4 .7 .4 0 .5-.6 .4 .6 .4 .9 .5-1.7 .4-1.9 .5 .3 .4 .4 .4 0 .5 .2 .4 .6 .4 1.2 .5 0 .4-.3 .4-.5 .5-.9 .4-.7 .4-.5 .5 1 .4 1.6 .5 1.2 .4-.9 .4-2.4 .5 .1 .4 1 .4-1.1 .5-.3 .4 1.5 .4 .2 .5-1.9 .4-.9 .4 .6 .5-.3 .4-.4 .5 1 .4 .7 .4-.6 .5-.5 .4 .1 .4 .6 .5 .2 .4-1 .4 .3 .5 1.6 .4-.3 .4-2.2 .5-1.4 .4 .1 .4 1 .5 .3 .4-.7 .5 .7 .4 1 .4 0 .5-.1 .4-.6 .4-.8 .5 0 .4 .7 .4 .3 .5 .3 .4 .1 .4-.9 .5-.9 .4 .5 .5 .3 .4 .4 .4 2.1 .5 0 .4-1.8 .4-.8 .5-.9 .4 .1 .4-.4 .5-1.8 .4 .2 .4 .4 .5 .6 .4 1.5 .5-1.7 .4-1.5 .4 3.1 .5 2.2 .4-1 .4-2.3 .5-1.3 .4 .8 .4 .7 .5-1.1 .4-1.3 .4 .8 .5 1.8 .4-1.2 .5-2.5 .4 .1 .4-.3 .5-1 .4 .6 .4-.3 .5-1.1 .4 .2 .4 .4 .5 0 .4-.1 .4 0 .5-.1 .4 .1 .4 .8 .5 .9 .4 .4 .5 .1 .4-.1 .4 0 .5 .8 .4 1.5 .4 1.6 .5 .1 .4-1.4 .4-.4 .5 .6 .4-.2 .4-.1 .5 2 .4 .3 .5-1.7 .4 .1 .4 .7 .5 1.1 .4 1.2 .4 .6 .5-.6 .4-1.8 .4-.8 .5 1.3 .4 1.3 .4-.5 .5-1.5 .4-.3 .5 1.5 .4 1.6 .4 0 .5-1.5 .4-.1 .4 1 .5 0 .4 .1 .4-.8 .5-1.2 .4 1.1 .4 2.1 .5-.5 .4-2.1 .5 .1 .4 1.4 .4 .7 .5-.2 .4-2.2 .4-2.2 .5 1.5 .4 1.9 .4-.5 .5-.5 .4-.3 .4-.8 .5 .8 .4 1.3 .5-.1 .4 .3 .4 .9 .5 .1 .4-.2 .4-1.2 .5-1.2 .4-.8 .4-.9 .5 .6 .4 2.4 .4 0 .5-2 .4 0 .4 1 .5 0 .4-.4 .5 .9 .4 .3 .4-1.1 .5-.2 .4 .9 .4 .3 .5 .8 .4 .6 .4-1.4 .5-1.2 .4-.1 .4-.2 .5-.1 .4 .8 .5 .4 .4-.4 .4-.6 .5-1 .4 .4 .4 .9 .5-.6 .4-.9 .4-.3 .5 .1 .4 .5 .4 .3 .5 .3 .4-1.1 .5-1.8 .4-1 .4 .5 .5 1.8 .4 1.2 .4-1.9 .5-2.3 .4 0 .4-.6 .5-2.3 .4-1.6 .4 .7 .5 1.4 .4 .7 .5-.7 .4-1.9 .4 .3 .5 .8 .4-.8 .4-.9 .5-.3 .4 0 .4 .1 .5 .2 .4 .2 .4-.7 .5-.2 .4 .4 .4 0 .5 .3 .4 .9 .5 .7 .4 .4 .4 1.3 .5 1.3 .4 .7 .4-.6 .5-1.2 .4 1 .4 1.2 .5-.4 .4-.6 .4 1.3 .5 3 .4 .1 .5-1.9 .4 0 .4-1.1 .5-1.6 .4 1.4 .4 2 .5 .4 .4-.2 .4-.9 .5 .4 .4 .7 .4-.3 .5-.3 .4-1 .5-.4 .4 .2 .4 .5 .5 1.6 .4 1 .4-.3 .5 .3 .4 .9 .4-.4 .5-1.4 .4 .5 .4 3 .5-.1 .4-2.3 .5-.2 .4 .8 .4 .6 .5 .5 .4 0 .4-1.2 .5-1.1 .4-.8 .4 1.5 .5 1.8 .4-1.6 .4-.2 .5 2.7 .4-.8 .4-2.9 .5-1.2 .4-.6 .5 1 .4 2.1 .4-.3 .5-1.4 .4 0 .4 1 .5 .7 .4 .5 .4 .9 .5-.3 .4-.5 .4 .2 .5 .1 .4 .1 .5 .3 .4 .2 .4-.3 .5 0 .4-.2 .4 .1 .5 .9 .4 0 .4-1.3 .5-.8 .4 .8 .4 1.8 .5 .7 .4-1.3 .5-.9 .4 0 .4-.1 .5 .2 .4 .8 .4 1 .5-.5 .4-2.2 .4-.5 .5 1.1 .4 .9 .4 .5 .5-1.2 .4 0 .5 2.3 .4 .4 .4-.6 .5-.2 .4-1.3 .4-.5 .5 1.1 .4 1.2 .4-.6 .5-1.3 .4 .8 .4 1 .5-.5 .4-.8 .4 .3 .5 1.4 .4 1 .5 .2 .4-.6 .4-.6 .5-.3 .4 .6 .4-.3 .5-1.4 .4 .2 .4 .2 .5-1.6 .4-1.7 .4-.2 .5 1.7 .4 1.2 .5-.4 .4 .6 .4 1.6 .5-.1 .4-1.3 .4 .4 .5 .4 .4-1.3 .4-1.3 .5-.2 .4 .4 .4 1.1 .5 .4 .4-1.4 .5-.9 .4 .2 .4-.2 .5 1.4 .4 2.8 .4 1.4 .5-1.2 .4-2.6 .4-1.5 .5 1 .4 .6 .4 .4 .5 .7 .4-1.7 .5-.8 .4 2.2 .4 1.8 .5 .8 .4 0 .4-1.6 .5-2.4 .4-1.6 .4 1.3 .5 2.4 .4-.4 .4-1.4 .5-.3 .4-.4 .5 .3 .4 .9 .4-.4 .5-1.4 .4 .6 .4 1.8 .5 .8 .4-.1 .4-.7 .5-.7 .4 0 .4 .5 .5 .5 .4-.1 .4-1.9 .5-.9 .4 1.7 .5 .8 .4-.3 .4-.2 .5-1 .4-.3 .4 .5 .5 .3 .4 .7 .4-.8 .5-.8 .4 .9 .4 .1 .5 .9 .4 .3 .5-2.5 .4-.5 .4 1.7 .5 1.5 .4 0 .4-1.3 .5-.6 .4-.2 .4 0 .5 .8 .4 .2 .4 .4 .5 1.5 .4 .2 .5-1.1 .4-.9 .4-.9 .5-.6 .4 .1 .4 1.2 .5 .9 .4-.3 .4-.5 .5-.8 .4-1.4 .4-1 .5 1 .4 1.2 .5 .5 .4-.3 .4-2.5 .5-1.2 .4 1.6 .4 .6 .5 .3 .4-.4 .4 .1 .5 2.2 .4 0 .4-1.7 .5 .9 .4 1.7 .4-.1 .5-.7 .4-.1 .5 1.1 .4-.6 .4-3.5 .5-.9 .4 1.7 .4 2.1 .5 .6 .4-1.6 .4-1.3 .5-.1 .4 .2 .4-.2 .5 .4 .4 .6 .5 .4 .4 .4 .4-.2 .5 1 .4 1.4 .4-1.7 .5-3.6 .4-.7 .4 1.4 .5 .6 .4 .4 .4 .7 .5 .5 .4 .2 .5 .7 .4-.8 .4-1.5 .5 1.1 .4 .6 .4-.6 .5 1.3 .4 1 .4-.5 .5-2.1 .4-2.6 .4 1.1 .5 3.2 .4 1.2 .5-.7 .4-.8 .4 .1 .5-.3 .4-.5 .4-.1 .5 0 .4-.2 .4-.1 .5 .7 .4 .2 .4-.3 .5 0 .4-1.4 .4-1.2 .5 .8 .4 .2 .5-.1 .4 .5 .4 .8 .5 .4 .4-.4 .4 0 .5 .3 .4 .4 .4-.4 .5-1.6 .4-1.3 .4 .9 .5 1.6 .4 .1 .5-.7 .4-.5 .4 .1 .5 .6 .4 .1 .4 0 .5 .9 .4 .6 .4-.1 .5-1.2 .4-.6 .4 .1 .5-.4 .4-.3 .5-.7 .4-.7 .4 .8 .5 1 .4-.6 .4-1.3 .5-.1 .4 .7 .4 0 .5-.2 .4 .1 .4 0 .5 .1 .4 0 .5 .1 .4 .3 .4-.7 .5-.8 .4-.2 .4-.5 .5-.7 .4 .2 .4 .9 .5 .4 .4-.1 .4-.7 .5-.5 .4 .2 .4 .1 .5-.1 .4 0 .5 .4 .4 .7 .4 0 .5-1.3 .4-1.2 .4 .2 .5 1.2 .4 .4 .4 .9 .5 .3 .4-1.1 .4-.2 .5 .9 .4-.7 .5-.3 .4 2.8 .4 .9 .5-1.7 .4-.4 .4 0 .5-.4 .4 .7 .4 .2 .5-.3 .4 1.4 .4 1.3 .5 1.1 .4 .2 .5-1.6 .4-1.7 .4-.6 .5 2.4 .4 2.1 .4-1.9 .5-2.5 .4-.6 .4 .1 .5-.1 .4 1 .4-.6 .5-1.6 .4-.5 .5-1 .4-.2 .4-.3 .5-.9 .4 .3 .4 1.6 .5 2.3 .4-.2 .4-1.3 .5 0 .4-.1 .4-.1 .5-.1 .4-.1 .5 .3 .4 0 .4-.1 .5 .5 .4 .4 .4 1.5 .5 1.9 .4-.5 .4-1.5 .5 0 .4 .9 .4 .1 .5 .3 .4 1 .4-.9 .5-.7 .4 2 .5 1.5 .4-.7 .4-.5 .5 0 .4-.6 .4-.3 .5 0 .4 .4 .4-.2 .5-1 .4-.9 .4-.1 .5 2.7 .4 3.3 .5-1.1 .4-3 .4-.2 .5 1.2 .4 .7 .4 1 .5-.4 .4-1.4 .4 .7 .5-.1 .4 0 .4 1 .5-1.2 .4-1.1 .5 .2 .4-1.3 .4 .7 .5 2.6 .4 1.2 .4-.5 .5-1.5 .4-.6 .4 1.4 .5 1.2 .4-.5 .4-.8 .5-1.2 .4-.3 .5 1 .4-.3 .4-1.1 .5 .1 .4 .8 .4 0 .5 .5 .4-.2 .4-.5 .5 1.7 .4 0 .4-1.7 .5 .5 .4 2.1 .4-.2 .5-1.2 .4 .4 .5 1 .4-.3 .4-2.2 .5-.9 .4 1.2 .4 .1 .5-.1 .4 .8 .4-.2 .5-.8 .4-.1 .4-.3 .5 .7 .4 1.3 .5-.9 .4-1.1 .4 .8 .5 1.6 .4-.1 .4-1.2 .5-.5 .4-1.4 .4-.5 .5 .8 .4 .2 .4-.3 .5-.2 .4 .8 .5 .3 .4-.8 .4-.2 .5 .5 .4 .8 .4 1 .5-.2 .4-1.2 .4-.9 .5-.4 .4 2.1 .4 1.9 .5-.7 .4 .5 .5-.6 .4-2.3 .4-.8 .5 1.2 .4 1.5 .4-1.3 .5-1.3 .4 .4 .4-1.1 .5-1.2 .4 .4 .4 .2 .5 .1 .4 .5 .4 0 .5 .6 .4 1.2 .5 .2 .4 .3 .4-.1 .5-.8 .4-.2 .4 .1 .5 .3 .4 .2 .4-.3 .5 .6 .4 2 .4-.6 .5-2.6 .4-.2 .5-.3 .4-1.2 .4 .5 .5 .7 .4 .5 .4 1.1 .5 .6 .4-.2 .4-.7 .5-.8 .4-.9 .4-.3 .5 1.4 .4-.5 .5-1.1 .4 1.3 .4 .8 .5-.6 .4 0 .4 .8 .5-.5 .4-.4 .4 1.2 .5 .3 .4-2 .4-1.4 .5 .6 .4 1 .5 1.1 .4 .6 .4-.3 .5-.9 .4 .3 .4 .4 .5-.4 .4 .4 .4 .6 .5-.9 .4-1.8 .4-.1 .5 .9 .4-.3 .4 .5 .5 1.1 .4-.2 .5-1.1 .4 .2 .4 .9 .5 .2 .4 .3 .4 .1 .5-.4 .4-1.4 .4-1.4 .5 0 .4 1 .4 1 .5 .2 .4-.5 .5-1.2 .4-.8 .4 .1 .5 .6 .4-.4 .4-.2 .5 2.1 .4 .1 .4-1.2 .5-.3 .4-.1 .4 1.1 .5 1.2 .4 .8 .5-.4 .4-1.3 .4 0 .5 0 .4-.9 .4 .2 .5 1.6 .4 .6 .4-1.9 .5-1.6 .4 .1 .4 .3 .5 .8 .4 1 .5-.2 .4-.9 .4-1 .5-.9 .4 1.2 .4 1.6 .5 .6 .4 .2 .4-2.1 .5-2 .4 .6 .4 1.3 .5-.3 .4-1 .5 1.7 .4 2.3 .4-.7 .5-2.8 .4-1.7 .4 1.6 .5 1.5 .4 .7 .4 .9 .5-.7 .4-.4 .4 1.2 .5 .2 .4-1.6 .4-2.8 .5-1.1 .4 1.4 .5 .7 .4-.3 .4-.2 .5-.2 .4 .6 .4 1.1 .5 .1 .4-.7 .4-.8 .5-.3 .4 .4 .4 1.6 .5 1 .4-.4 .5-.5 .4-1.4 .4-.8 .5 .9 .4 .9 .4-.4 .5 0 .4 0 .4 0 .5 .5 .4-1.2 .4-.8 .5 .7 .4 1.1 .5 1.1 .4-.3 .4-1.1 .5-1.7 .4-.7 .4 .2 .5-.8 .4 .5 .4 .9 .5 .6 .4 .5 .4-1.3 .5-.8 .4 1.2 .5 .9 .4-.4 .4-.4 .5 .5 .4-.5 .4 .5 .5 1.7" stroke="#000000"/>
<path d="M202.3 954.4l.4-.6 .5-1 .4-.2 .4-.6 .5-1.2 .4-.3 .4-.2 .5-.5 .4 1.4 .5 .6 .4-.9 .4-.3 .5-.7 .4 .3 .4 1.5 .5 1.1 .4 1.7 .4 .6 .5-1.9 .4-.7 .4-.5 .5-2.6 .4-.7 .5 1.6 .4 1 .4 0 .5 .2 .4 .3 .4-.2 .5 0 .4-.5 .4-1.1 .5-.8 .4 .3 .4 1.1 .5 1.1 .4 .9 .5 .2 .4-.6 .4-1.6 .5-1 .4-.2 .4 1 .5 1 .4-.7 .4-.1 .5 1.5 .4 .5 .4-2.2 .5-1.4 .4 .5 .5 .4 .4 .1 .4 1 .5 0 .4-.4 .4 .3 .5-.8 .4 .1 .4 1.6 .5 .3 .4-1.4 .4-.4 .5 .9 .4 0 .4 .1 .5-.1 .4-1.9 .5-.8 .4 .6 .4-.8 .5 .3 .4 2.3 .4-.7 .5-1.9 .4 1.7 .4 .6 .5-1 .4-.2 .4-1.2 .5-.3 .4 1.2 .5 .8 .4 .1 .4-.8 .5 0 .4 1.4 .4-.3 .5-1.8 .4 .4 .4 1.6 .5-.6 .4-1.8 .4 .4 .5 .2 .4-1.9 .5 .4 .4 1.2 .4 .2 .5 .5 .4-1.5 .4-1.7 .5 .6 .4 1.1 .4 .1 .5-.2 .4 .2 .4 0 .5 .8 .4 .8 .5-.9 .4-.7 .4 .9 .5 .6 .4 .3 .4-.2 .5-.8 .4-.3 .4-.3 .5-.6 .4-.5 .4 .9 .5-.5 .4-1.1 .4 .7 .5 1.5 .4 1.3 .5 .4 .4 .3 .4-1.4 .5-1.9 .4 .3 .4 .8 .5-.7 .4-1.5 .4-.2 .5 .7 .4 .6 .4 .4 .5 .3 .4-.1 .5-.3 .4-.1 .4-.7 .5-.3 .4 .6 .4-.4 .5 .3 .4 1 .4-2 .5-.9 .4 2.1 .4 .6 .5-1.1 .4-1.5 .5-.8 .4 .8 .4 .8 .5 .1 .4 .7 .4-.1 .5-2.3 .4-1.3 .4 .4 .5-1.1 .4 .4 .4 3.1 .5 .3 .4-1.5 .5 .9 .4 2 .4 .2 .5-.9 .4-1.5 .4-1.3 .5-.2 .4 1.1 .4 1 .5-1.8 .4-2.1 .4 .7 .5 1 .4-.2 .5 .9 .4 .5 .4 .7 .5 .9 .4-1.3 .4-1.4 .5-1.1 .4 .3 .4 1 .5-.5 .4 .3 .4 .7 .5-.5 .4-.7 .4-.9 .5-1.1 .4 1.4 .5 2.6 .4 .8 .4-1.1 .5-1.1 .4-.8 .4-.1 .5 1.2 .4 0 .4-2.1 .5-.8 .4 1.9 .4 .9 .5-1 .4-.1 .5 .7 .4 .4 .4-1 .5-.8 .4 .4 .4-.1 .5 .1 .4-.4 .4-1 .5 .3 .4-.4 .4 .4 .5 2 .4-.1 .5-2.3 .4-1.6 .4-.3 .5 1.7 .4 2.1 .4-.9 .5-1.5 .4-.4 .4-.2 .5 1 .4 .3 .4-.6 .5 1.6 .4 1.5 .5-1.1 .4-1.2 .4-.2 .5-1.3 .4 .5 .4 1.5 .5-1.7 .4-1.1 .4 .9 .5 1.3 .4 1.1 .4 .3 .5 0 .4-.6 .4-1.7 .5-1.3 .4 .2 .5-.1 .4-.3 .4 1.6 .5 2.1 .4 .1 .4-1.7 .5-1.7 .4-.1 .4 .5 .5 .7 .4 .3 .4-.7 .5 0 .4 .5 .5 .2 .4-1.6 .4-2.6 .5 .4 .4 1.2 .4-.5 .5-1.3 .4 0 .4 2 .5 .3 .4 .2 .4 1.3 .5-.3 .4-.1 .5 .2 .4-1.4 .4-1.6 .5 .4 .4 1.2 .4 2.1 .5 2 .4-.4 .4-2.3 .5-2.2 .4 .1 .4-.3 .5-.6 .4 1.5 .5 1.2 .4 0 .4 .4 .5-.2 .4-.4 .4 0 .5-1.4 .4-.7 .4 .2 .5-.9 .4 0 .4 2.5 .5 1.4 .4-1.2 .4-1.4 .5-.3 .4 .6 .5 .2 .4-1 .4-1.9 .5-1 .4 2.3 .4 2.1 .5-1.5 .4-2 .4-.5 .5-.7 .4 .9 .4 2.7 .5 .6 .4-1.8 .5-1.2 .4 1.5 .4 1.9 .5-.6 .4-2.2 .4-.2 .5 2.2 .4 .2 .4-.8 .5 1.1 .4 .8 .4-.9 .5-.3 .4 .4 .5-.5 .4-.9 .4-1.3 .5-1.6 .4 1.5 .4 2.7 .5-1.9 .4-1.2 .4 2.8 .5 .4 .4-2.3 .4-.4 .5 .4 .4-.5 .5-.7 .4-.1 .4 .9 .5 .9 .4-.1 .4 0 .5 0 .4-.7 .4-.8 .5-.2 .4 .6 .4-.2 .5-.9 .4 .8 .4 1.2 .5-.5 .4-.7 .5 .2 .4 2 .4 .9 .5-1.1 .4-.6 .4 0 .5-.8 .4-.1 .4 .5 .5-.3 .4 .8 .4 .2 .5-1.6 .4-.1 .5-.4 .4-1.4 .4 .9 .5 .7 .4 .1 .4 2 .5 1.8 .4 .4 .4-.7 .5-1.4 .4-.2 .4-.9 .5-1.9 .4-.3 .5 0 .4-.3 .4 1.2 .5 2.4 .4 1.6 .4-.6 .5-.7 .4-.9 .4-1.9 .5-.8 .4 .4 .4 1.2 .5 1.7 .4 0 .5-1.6 .4-1 .4-.2 .5 .6 .4 .4 .4-.3 .5-.1 .4 .5 .4 1.1 .5-.6 .4-.4 .4 0 .5-1.4 .4 .9 .5 2.4 .4 .3 .4-1.1 .5-.5 .4 .5 .4 .4 .5-.9 .4-.9 .4 .1 .5-1.3 .4-.8 .4 1.1 .5 1.3 .4 .6 .4-.6 .5-.9 .4-1.3 .5-.5 .4 1.3 .4 2.5 .5 .7 .4-1.3 .4 0 .5 .1 .4-.8 .4-1.2 .5 .2 .4 .5 .4-.7 .5 0 .4 .5 .5-.8 .4-1.8 .4-.2 .5-.3 .4-1 .4 1.5 .5 2.7 .4 0 .4-.6 .5 .8 .4-.5 .4-.7 .5 1.5 .4 .7 .5-.8 .4 0 .4 .1 .5-1.1 .4-1.7 .4-.8 .5 .9 .4 1.4 .4 .3 .5 .4 .4 1.6 .4-.8 .5-3.6 .4-1.2 .5 2.1 .4 1.9 .4 .1 .5-1.8 .4-.3 .4 1.9 .5-.1 .4-.4 .4 0 .5 .1 .4 1.4 .4-.5 .5-3.3 .4-1.6 .4 1.9 .5 1.9 .4 .5 .5 .5 .4 .7 .4-.5 .5-2.1 .4-1.4 .4 1.2 .5 1.3 .4 0 .4 .7 .5 1.2 .4 .2 .4-2.7 .5-1.3 .4 2.2 .5 .1 .4-.4 .4 .6 .5-1.4 .4-1.3 .4 .8 .5 .8 .4 .6 .4 .4 .5-1.7 .4-1.6 .4 1.2 .5 3 .4 .5 .5-2.6 .4-2.1 .4 .4 .5 2.5 .4 .8 .4-.9 .5-.3 .4 .5 .4-1 .5-1.8 .4 .3 .4 .5 .5-.1 .4 .3 .5-.3 .4-.3 .4 .3 .5 .6 .4 0 .4-1.1 .5-.7 .4 0 .4 .3 .5 .5 .4 1.1 .4 1.7 .5 .5 .4-.8 .4-.4 .5-1 .4-.5 .5 1.5 .4 1.1 .4 0 .5-.7 .4 .1 .4 .4 .5-1.7 .4-1.5 .4-.3 .5-.2 .4 1.4 .4 1.1 .5-.5 .4 .2 .5-.3 .4-1 .4-.3 .5 1.4 .4 .3 .4-.5 .5 .1 .4 .5 .4 1.6 .5-.1 .4-1.1 .4 .2 .5 .1 .4-.4 .5 .7 .4-.1 .4-1.9 .5-.6 .4 .6 .4 .2 .5 .3 .4 .7 .4 .9 .5 1.2 .4 .8 .4-.7 .5-1.8 .4-1.7 .5-.2 .4 1.8 .4 1.4 .5-.6 .4-1.5 .4-.1 .5 1.1 .4-1.1 .4-.8 .5 .4 .4-1.4 .4-.2 .5 1.6 .4 .7 .4-.8 .5-.4 .4 1.3 .5 .8 .4 .3 .4 .8 .5-1 .4-1.7 .4-.4 .5 .4 .4 .8 .4-.2 .5-.6 .4 .8 .4 .4 .5-1.8 .4 .1 .5 1.6 .4 .1 .4 .1 .5 .3 .4-.4 .4-1.1 .5-.4 .4 .2 .4-1.2 .5-.2 .4 2 .4 .2 .5-.7 .4 .2 .5 .1 .4-.1 .4 .3 .5 .3 .4 .2 .4 1.5 .5 1.7 .4-.8 .4-1.6 .5-.5 .4 .4 .4 .4 .5 .2 .4 .5 .5-.4 .4-1.5 .4-.4 .5 1.5 .4 .3 .4-1.5 .5-.1 .4 .2 .4-.4 .5 .8 .4 1.6 .4-.1 .5-1.5 .4-.5 .5 .9 .4-.3 .4-1.1 .5 0 .4-.3 .4-.9 .5 .5 .4 .5 .4 .3 .5 .4 .4-.3 .4-.1 .5-.1 .4-.4 .4 1.6 .5 2 .4-1.6 .5-2.8 .4-1.2 .4 0 .5 .8 .4 .9 .4 1.2 .5 .7 .4-.5 .4-.1 .5 .3 .4 .4 .4 0 .5-.6 .4 .6 .5 1.1 .4-1.5 .4-1.9 .5-.7 .4-.3 .4 .1 .5 .9 .4 2.8 .4 1.6 .5-2 .4-2.1 .4-.8 .5-.6 .4 .2 .5 1.8 .4 1.1 .4-1.5 .5-.1 .4 1.2 .4-.9 .5 1.2 .4 2.3 .4-.3 .5-2.2 .4-1.6 .4 .6 .5 .2 .4-.8 .5-1 .4-.4 .4 1.8 .5 1.7 .4-1.6 .4-2.5 .5 .8 .4 3.3 .4 .4 .5-2.9 .4-1.9 .4 .6 .5 2.5 .4 1.5 .4-.8 .5-1.1 .4-1 .5 .9 .4 1.3 .4-1.4 .5-.6 .4 1.8 .4 .8 .5 0 .4-.1 .4-.8 .5-.7 .4-.7 .4 .3 .5-.4 .4-1.3 .5 1.1 .4 1 .4-1.3 .5 .2 .4 2.8 .4 2.4 .5-1.4 .4-3.2 .4-1.3 .5 1 .4 1.6 .4 .4 .5-.4 .4 .7 .5 .3 .4-.7 .4-.3 .5-.4 .4-1 .4-.6 .5 1.2 .4 1.5 .4-.3 .5-.3 .4 0 .4-.8 .5-1.1 .4 .1 .5 1 .4 .2 .4 .1 .5 .2 .4 0 .4 .4 .5 .2 .4-.3 .4 0 .5 .2 .4-.2 .4 0 .5 .7 .4-.5 .4-1.4 .5-.4 .4-.7 .5-.6 .4 1.9 .4 2.1 .5-.2 .4-.9 .4 .3 .5 .7 .4 .5 .4 .6 .5 .7 .4-1.9 .4-2.5 .5 .9 .4 1.3 .5-1.5 .4-1.2 .4 .6 .5-.7 .4-.9 .4 2 .5 2.1 .4 .3 .4-.5 .5-1.2 .4-.3 .4 1 .5-.5 .4-.8 .5 1.5 .4 1.4 .4-.6 .5-1.4 .4 .1 .4 1.8 .5 .8 .4 .3 .4-1 .5-1.9 .4 .5 .4-.3 .5-1.7 .4 .5 .5-.5 .4-.5 .4 1.5 .5 .5 .4 .1 .4 .6 .5-.1 .4-.8 .4-.5 .5 .6 .4-.5 .4-.9 .5 .9 .4 .4 .4-.6 .5 .5 .4 1.2 .5 1.2 .4-.2 .4-.8 .5-.3 .4-.6 .4 0 .5-.4 .4-.3 .4 .5 .5 .8 .4 .8 .4-.3 .5-.8 .4 .2 .5-.3 .4-2.5 .4-1.3 .5 1.3 .4 .6 .4-1 .5 .8 .4 2.2 .4-.2 .5-1.1 .4 1.7 .4 2.3 .5 0 .4-1.6 .5-1.1 .4 .5 .4 1.1 .5-1 .4-1.3 .4 .4 .5 0 .4-.5 .4-.7 .5 1.6 .4 1.3 .4-1.7 .5 .1 .4 1 .5-.3 .4 .3 .4-.5 .5-1.5 .4-.3 .4-.1 .5-1.3 .4 .3 .4 1 .5-.2 .4-.2 .4 .8 .5 1.8 .4 .7 .5-.8 .4-.9 .4-1.2 .5 .7 .4 2.3 .4-.3 .5-1.3 .4 .5 .4 1 .5 .9 .4 0 .4-1.6 .5-1.6 .4 .3 .4 .6 .5-.3 .4-1.8 .5-.7 .4 2.3 .4 1.5 .5 .6 .4-.1 .4-.1 .5 0 .4-.2 .4 .7 .5-2 .4-2.8 .4 .6 .5 .4 .4-.7 .5 .6 .4 .4 .4-.4 .5-.1 .4 .4 .4 .9 .5 .4 .4-.3 .4 .1 .5 .5 .4 .2 .4 .6 .5 1.4 .4-.7 .5-3 .4-1.4 .4 .9 .5 1.2 .4 .4 .4 .1 .5-1.6 .4-1.8 .4-.5 .5 .5 .4 2.6 .4 2.5 .5-.4 .4-1.7 .5-1 .4-.3 .4-.1 .5 .5 .4 1 .4 .3 .5-.3 .4 .1 .4-.4 .5-.3 .4 .2 .4-.3 .5 .1 .4 .8 .4 .4 .5-.4 .4-.8 .5-.8 .4 .8 .4 2.1 .5 .5 .4-1.4 .4-1.7 .5-1 .4 0 .4 .8 .5 .5 .4-.8 .4-1 .5-.1 .4-.3 .5-.9 .4 .2 .4 1.1 .5 2 .4 1.9 .4-.1 .5-2 .4-1.6 .4 .8 .5 2.1 .4-.6 .4-1.5 .5 1.2 .4 .9 .5-.5 .4-.7 .4-.8 .5-.2 .4 1.5 .4 2 .5 .3 .4-1.5 .4-1.6 .5-.4 .4 .4 .4 1.1 .5 0 .4-1.6 .5 .3 .4 1.9 .4-.3 .5-1.8 .4 .6 .4 1.9 .5-.3 .4-1 .4 .2 .5-.7 .4-.5 .4 .8 .5-.7 .4-1.7 .4-.9 .5 .1 .4-.3 .5-.2 .4 1 .4 .7 .5 .3 .4 .3 .4 .1 .5-.6 .4-.9 .4-.5 .5-.6 .4 .7 .4 1.4 .5 .2 .4-1 .5-1.1 .4-.9 .4 .2 .5 0 .4 .4 .4 1.5 .5-.2 .4-.2 .4 .1 .5-.5 .4-.8 .4-1.4 .5-.7 .4 1 .5 2.2 .4 .2 .4-1.6 .5-.8 .4-.3 .4 .6 .5-.3 .4-1.5 .4-1.1 .5-1.5 .4-1 .4-.3 .5-1.5 .4-2.5 .5-1.8 .4-1.2 .4-1.5 .5-2.3 .4-2.6 .4-2.5 .5-3.1 .4-2 .4-1.1 .5-2.5 .4-3.4 .4-2.6 .5-1.2 .4-.7 .4-.4 .5-.1 .4 .3 .5 1.1 .4 1.6 .4 1.5 .5 1.9 .4 1.7 .4 1.8 .5 2 .4 2.9 .4 3.2 .5 2.6 .4 2.4 .4 1.9 .5 1.7 .4 2.5 .5 2.5 .4 1.4 .4 1.1 .5 1.6 .4 .2 .4-1.2 .5 1.1 .4 2.3 .4 .1 .5 .4 .4 2 .4 0 .5-.2 .4 1.6 .5-.6 .4-3 .4-1.3 .5 2 .4 2.5 .4 .6 .5-.2 .4-.3 .4 0 .5 .7 .4-.5 .4-1.5 .5 0 .4 1.1 .5-.1 .4-.9 .4 .3 .5 .6 .4 0 .4 .9 .5-.1 .4-1.2 .4-.1 .5 .4 .4-.7 .4-1.1 .5 1 .4 1.6 .5-.6 .4-.8 .4-1.5 .5-.1 .4 1.8 .4-.6 .5-1.2 .4-.4 .4 0 .5 .2 .4 .1 .4 1.2 .5 .6 .4-.9 .4-.6 .5-.8 .4-.6 .5-.4 .4-.2 .4 .8 .5 .8 .4-.3 .4-1.2 .5-.5 .4 .5 .4 0 .5-1.4 .4-1.1 .4-.7 .5-.4 .4-.2 .5-.6 .4 .2 .4-.8 .5-1.1 .4 .4 .4 .2 .5-.4 .4 .4 .4 .3 .5-1.6 .4-1.6 .4-.2 .5-.1 .4-.3 .5-2.9 .4-2.3 .4 .8 .5-1 .4-2.5 .4-.2 .5 .3 .4-2 .4-2.3 .5-1.2 .4-2.2 .4-2.9 .5-2.3 .4-2.8 .5-3 .4-2.4 .4-3 .5-4.7 .4-5.9 .4-6.8 .5-7 .4-7.5 .4-8.8 .5-10.1 .4-10.8 .4-11.3 .5-12.4 .4-14 .4-15.1 .5-16.4 .4-17.6 .5-18.7 .4-19.8 .4-20.8 .5-21.6 .4-22.2 .4-22.6 .5-22.9 .4-22.5 .4-22 .5-20.9 .4-19.3 .4-17.5 .5-15.1 .4-12 .5-8.8 .4-4.9 .4-.8 .5 2.8 .4 6.8 .4 10.5 .5 13.6 .4 16.1 .4 18.3 .5 20.2 .4 21.3 .4 22.1 .5 22.3 .4 22.6 .5 22.2 .4 21.6 .4 20.9 .5 20.1 .4 19.3 .4 18.1 .5 16.8 .4 15.4 .4 14.2 .5 13.4 .4 12.5 .4 10.9 .5 9.5 .4 9.3 .5 8.4 .4 6.3 .4 6.6 .5 6.8 .4 4.5 .4 3.4 .5 4.3 .4 3.7 .4 2.8 .5 2.4 .4 1.3 .4 2.1 .5 3.2 .4 2.2 .4 .7 .5 .4 .4-.1 .5-.2 .4 3.1 .4 3.4 .5 .2 .4-.1 .4 .3 .5 .3 .4 0 .4 .4 .5 .8 .4 .7 .4 1.5 .5 .2 .4-1.4 .5 .6 .4 2.3 .4 .4 .5-1.3 .4-.4 .4 1 .5 1.6 .4 .2 .4-1.2 .5-1.6 .4 .3 .4 2.4 .5-.4 .4-3.6 .5 .1 .4 2.4 .4-.1 .5-.4 .4 .2 .4-.1 .5 .5 .4 .7 .4 .4 .5-.4 .4-.6 .4-1.3 .5-1.3 .4 .3 .5-.2 .4-.2 .4 1.1 .5-1.3 .4-2.8 .4-.4 .5 .4 .4 .5 .4 .8 .5 .2 .4-.6 .4-.5 .5-.2 .4-1.4 .4-.8 .5-.1 .4-.5 .5 .8 .4 .6 .4-1.9 .5-2.7 .4-.9 .4 0 .5-.4 .4 .1 .4-.4 .5-1.3 .4-2.1 .4-3.2 .5-1.9 .4 .2 .5-1.3 .4-3.4 .4-2.2 .5-1.5 .4-3.4 .4-3.6 .5-2.3 .4-2.3 .4-3.4 .5-3.6 .4-4.2 .4-4.6 .5-4.4 .4-4.3 .5-5 .4-5.8 .4-6.5 .5-6.9 .4-7.8 .4-8.2 .5-8.2 .4-8.8 .4-9.8 .5-10.6 .4-11.1 .4-11.6 .5-12.7 .4-13.3 .5-13.4 .4-13.7 .4-14.5 .5-14.9 .4-15.2 .4-15.5 .5-15.6 .4-15.4 .4-15.1 .5-14.6 .4-13.8 .4-12.8 .5-11.7 .4-10 .5-8 .4-5.9 .4-3.7 .5-1.4 .4 1.4 .4 4.6 .5 7.4 .4 9.9 .4 12.2 .5 14.3 .4 16.1 .4 17.1 .5 17.4 .4 17.9 .4 17.9 .5 17.8 .4 17.7 .5 16.8 .4 16.1 .4 15.5 .5 14.8 .4 14.2 .4 13.2 .5 12.1 .4 11.5 .4 10.5 .5 9.8 .4 9.2 .4 8 .5 7.1 .4 6.9 .5 6.7 .4 6.1 .4 5.9 .5 5.4 .4 3.9 .4 3 .5 3.7 .4 3.6 .4 1.8 .5 1.4 .4 2.8 .4 3 .5 2.2 .4 1.3 .5 1.3 .4 1.6 .4 2.3 .5 3.1 .4 .6 .4-.8 .5 2.1 .4 2.9 .4 .9 .5 .2 .4 0 .4-.2 .5 .6 .4 1.9 .5 1.7 .4 1.2 .4 .9 .5-.6 .4-1.7 .4 .8 .5 3.1 .4 .8 .4-1.4 .5 .1 .4 .6 .4-.3 .5 1 .4 1.6 .4 .6 .5-.1 .4 0 .5 2.1 .4 1.3 .4-1.2 .5-.6 .4-.8 .4 .4 .5 1.7 .4 0 .4-.3 .5 0 .4-.3 .4 1.5 .5 2.1 .4 .3 .5-.3 .4 .4 .4-.4 .5-2.1 .4 .1 .4 2.9 .5 1.5 .4-1.2 .4-1.6 .5 .1 .4 1.6 .4 2.1 .5 .6 .4-.5 .5-1.7 .4-2.8 .4-.2 .5 1.6 .4 1.3 .4 1.4 .5 .1 .4-.7 .4-.4 .5-.6 .4-.5 .4-.1 .5-.3 .4 .2 .5 1 .4 0 .4-.8 .5-.9 .4-.4 .4 .9 .5 .6 .4 .8 .4 .9 .5-1.1 .4-.7 .4 .8 .5 1.1 .4 .8 .4-1.3 .5-1.2 .4 .8 .5-1.1 .4-1.8 .4 .8 .5 .6 .4 .7 .4 1 .5-.3 .4 0 .4 .6 .5-2.2 .4-1.4 .4 1.5 .5-.2 .4-.1 .5 .9 .4 0 .4 .2 .5-.4 .4-1.4 .4-1.5 .5 1 .4 3.5 .4 1 .5-1.1 .4-.2 .4 .1 .5 .3 .4 .1 .5-.3 .4-.9 .4-1.7 .5-.2 .4 1.8 .4 1.7 .5-.4 .4-1.7 .4-.6 .5 .1 .4 .6 .4 .7 .5 .3 .4 .8 .5 .5 .4-.3 .4-.1 .5-1.5 .4-.7 .4 2.4 .5 1.6 .4-1.6 .4-2.8 .5-1.4 .4 1.5 .4 1.7 .5 1.2 .4 .2 .4-2.2 .5-.1 .4 2 .5-.3 .4-1 .4-.4 .5-.3 .4 .1 .4 .7 .5 1 .4-.2 .4-1.1 .5 .1 .4 0 .4-.3 .5 1.3 .4 2 .5 0 .4-.5 .4-.3 .5-1.4 .4-.9 .4 .1 .5 0 .4 .6 .4 1.8 .5 1.1 .4-.4 .4 .1 .5 .2 .4-.5 .5-1.6 .4-1.7 .4 .3 .5 1.6 .4 1.2 .4 .3 .5-.9 .4-1.4 .4 1 .5 1.1 .4-.8 .4-.3 .5 1.3 .4 .5 .5-1.5 .4-.6 .4 .2 .5 .3 .4 1.3 .4 .9 .5-.7 .4-.7 .4-1.2 .5-1.9 .4-.5 .4 1.1 .5 1.3 .4-.2 .5 1 .4 1.9 .4-.4 .5-1.6 .4-1.2 .4 .1 .5 1.1 .4 .3 .4-.9 .5-1.5 .4-.4 .4 .9 .5 1.3 .4 2 .4-.6 .5-2.3 .4 1.7 .5 3.1 .4-.9 .4-1.7 .5 0 .4 0 .4 .4 .5 .3 .4-.9 .4-.2 .5-.2 .4 0 .4 0 .5 1.2 .4 1 .5-.9 .4-.4 .4-.9 .5 .2 .4 1.1 .4-.5 .5-.5 .4-.2 .4 .3 .5 .9 .4-.4 .4-.8 .5 .6 .4 .6 .5 .1 .4 .1 .4-.7 .5-1.3 .4-.1 .4 1.2 .5 .7 .4 .7 .4 .6 .5-.5 .4-1.6 .4-.8 .5-.1 .4 0 .5 1.9 .4 1.6 .4-.4 .5-1.2 .4-.9 .4 .2 .5-.8 .4-1.5 .4 .1 .5 1.2 .4 .1 .4-2 .5 .2 .4 1 .4 .4 .5 1.7 .4 .5 .5-1.3 .4-1.7 .4-.3 .5 1.1 .4 .7 .4-.4 .5-.4 .4-.2 .4-.3 .5 .3 .4 0 .4-1.1 .5-1 .4 .4 .5 1.1 .4 .7 .4-.2 .5-1.4 .4-1.6 .4-.3 .5 2.1 .4 1.2 .4-1.7 .5-1.3 .4 .3 .4 .6 .5 .5 .4 .4 .5-1.2 .4-1.6 .4-1.3 .5-1.1 .4 1.3 .4 1 .5-.8 .4-.7 .4-.5 .5-.3 .4 .5 .4 .2 .5-.9 .4 1.2 .5 1.8 .4-1.5 .4-1.7 .5-.3 .4 .1 .4 .2 .5 .2 .4 .2 .4-.1 .5-.6 .4-.6 .4 .8 .5 2.2 .4-.4 .4-2.1 .5 .7 .4-.6 .5-2.7 .4 .6 .4 1.3 .5 .6 .4 1.6 .4 .2 .5 .6 .4 1.4 .4 .7 .5 1.3 .4 .7 .4-1.3 .5-.2 .4-.6 .5-2.2 .4 .5 .4 .9 .5-.2 .4 1.9 .4 1.3 .5-1.7 .4-1 .4 .9 .5 .2 .4-1.5 .4-.8 .5 .1 .4 .4 .5 1.7 .4 2.3 .4 1.6 .5-.2 .4-2.4 .4-1.1 .5-.2 .4-.8 .4 1.1 .5 1.3 .4-1.2 .4-.6 .5 .7 .4 2 .5 1.7 .4-1.4 .4-.9 .5 0 .4-.5 .4 .3 .5 1 .4-.1 .4-.1 .5 .6 .4-.7 .4-.9 .5 .9 .4-.2 .4-1.4 .5-.1 .4 1.7 .5 1.6 .4-1.2 .4-1.8 .5 .9 .4 .3 .4-1.6 .5 .4 .4 .4 .4-.8 .5-.1 .4-.5 .4 0 .5 0 .4-1.1 .5 0 .4 .3 .4-1.8 .5-2 .4 .9 .4 2 .5 0 .4-.9 .4-2.1 .5-2.1 .4 0 .4 .4 .5 1 .4 .5 .5-1.9 .4-2 .4 .1 .5 .5 .4-.8 .4-1.3 .5-.2 .4 .2 .4-1.8 .5-2.8 .4-1.1 .4 .6 .5 0 .4-1.3 .5-2.1 .4-2.1 .4-2.2 .5-2.9 .4-2.4 .4-1.7 .5-2.2 .4-2.8 .4-3.8 .5-3.9 .4-3.3 .4-4.2 .5-5.1 .4-4.7 .5-4.3 .4-4.9 .4-5.2 .5-5.2 .4-5.3 .4-5.1 .5-4.6 .4-3.6 .4-2.6 .5-1.6 .4-.3 .4 1 .5 2.2 .4 3.3 .4 3.8 .5 4.6 .4 5.1 .5 5.2 .4 5.4 .4 5 .5 4.9 .4 4.9 .4 4.6 .5 4.4 .4 3.9 .4 3.6 .5 4.1 .4 3.8 .4 1.6 .5 .8 .4 3.2 .5 2.8 .4 2.2 .4 3.2 .5 2.3 .4 .5 .4 0 .5 .2 .4-.5 .4 .9 .5 2 .4 .9 .4 1.5 .5 2.1 .4-.2 .5-1.3 .4 .7 .4 1.6 .5 1.1 .4 .6 .4 .3 .5 1.4 .4 .6 .4-.6 .5 .7 .4 .7 .4-.7 .5-.1 .4 1.9 .5 .1 .4-1.4 .4 2.9 .5 2.9 .4-1.8 .4-1.2 .5-1.2 .4-.8 .4 1.9 .5 .8 .4-1.1 .4-1.3 .5 .1 .4 3.2 .4 1.2 .5-1.9 .4-1.6 .5-1.2 .4 1 .4 1.3 .5-.6 .4-.5 .4 .4 .5 1.9 .4 2 .4-.8 .5-1.5 .4 1 .4 .8 .5-1.5 .4-.4 .5 .9 .4 0 .4-.1 .5-.4 .4 1.2 .4 1.2 .5-2 .4-1 .4 1.4 .5 .3 .4-.9 .4-.5 .5 .1 .4 .2 .5-.1 .4-1 .4 .5 .5 1.4 .4 .3 .4-.2 .5-1.1 .4-1.6 .4 .4 .5 1.2 .4 1 .4 1.2 .5-.1 .4-2.5 .5-.7 .4 2.1 .4 .1 .5-.5 .4-.4 .4-1.6 .5 .3 .4 1.3 .4 .4 .5 .4 .4 .4 .4-.8 .5-1.2 .4 .3 .4 1.6 .5 .8 .4-.1 .5 .1 .4-1.3 .4-.9 .5 1.6 .4 1.1 .4-2 .5-.8 .4 1.7 .4-.3 .5-1.2 .4 .9 .4 .8 .5-.4 .4-.1 .5-.3 .4-.9 .4-.2 .5 .7 .4-.1 .4-.3 .5 .3 .4-.1 .4 1.1 .5 .5 .4-1.7 .4-.4 .5 .5 .4 .1 .5 0 .4-1.4 .4-1.4 .5 .4 .4 1.8 .4 1.8 .5-1.1 .4-2.6 .4 .1 .5 2 .4 .4 .4-.8 .5-.1 .4 0 .5 0 .4 1.1 .4 .5 .5-1.5 .4-.1 .4 1 .5-.1 .4-.7 .4-1.6 .5-.3 .4 1.4 .4-.5 .5-1 .4 1.3 .4 1.7 .5 .1 .4-1.2 .5-1.2 .4 .4 .4 0 .5-.8 .4-.5 .4-.6 .5 .1 .4 1.1 .4 .7 .5-1.3 .4-1.5 .4 .2 .5 .1 .4-1.6 .5-1.5 .4-1 .4 .4 .5 1.7 .4 .5 .4-.3 .5-.7 .4-1.2 .4-2.5 .5-2.3 .4 0 .4 .2 .5-.1 .4-.8 .5-2.3 .4-1.2 .4-.3 .5-1.9 .4-1.7 .4-.5 .5-.9 .4-1.7 .4-2 .5-1.1 .4-.8 .4-1.2 .5-.8 .4 0 .5 .7 .4 .8 .4 .5 .5 1.1 .4 1.7 .4 1.1 .5 .7 .4 .5 .4 .9 .5 2.2 .4 2.7 .4 2.5 .5 1.6 .4-.3 .5 0 .4 2.2 .4 .6 .5-.2 .4 1.7 .4 .5 .5 0 .4 .9 .4 .4 .5 0 .4 1.2 .4 1.9 .5 .5 .4-.1 .4-.4 .5 .2 .4 1.6 .5 .2 .4-.9 .4 0 .5 1.2 .4-.1 .4-.6 .5 1.9 .4 1.4 .4-.1 .5-1.2 .4-1.1 .4 .9 .5 1 .4 0 .5-.1 .4-.3 .4 .7 .5 2.1 .4 .2 .4-2.6 .5 .1 .4 2.4 .4-1 .5-2.4 .4 .6 .4 2.5 .5 .1 .4-.3 .5 .2 .4-.5 .4 .2 .5 .1 .4-.9 .4 .9 .5 1.3 .4-2 .4-1.6 .5 1.3 .4 .3 .4-1.1 .5 0 .4 .2 .5 .1 .4-.8 .4-.8 .5 .5 .4-.1 .4 .3 .5 1.4 .4 .7 .4 .7 .5 .6 .4-1.8 .4-2.6 .5-.4 .4 2 .4 1.7 .5-1 .4-1.4 .5-.3 .4 .1 .4 .7 .5 1.2 .4 .2 .4-1.2 .5-.5 .4 .2 .4-.7 .5-.8 .4-.8 .4-1 .5 .4 .4 1.4 .5-.1 .4-1.3 .4 0 .5 2.5 .4 2.6 .4-.4 .5-.9 .4-.4 .4-.6 .5 .5 .4 .1 .4-.2 .5 .7 .4-.8 .5-2 .4 1.8 .4 3.2 .5-.7 .4-2.3 .4-1.5 .5 .8 .4 1.9 .4-.9 .5-1.3 .4 .4 .4-.6 .5-.8 .4 0 .5-.6 .4 .1 .4 1.7 .5-.6 .4-3.1 .4-.3 .5 3.8 .4 3.4 .4 .2 .5-2 .4-1.8 .4-1.5 .5-.4 .4 1.3 .4 .6 .5 .5 .4-.3 .5-.5 .4 1.4 .4 1.5 .5 .4 .4-1.1 .4-2 .5-.4 .4 0 .4 0 .5 1.1 .4 1.4 .4 .3 .5-1.6 .4-.2 .5 1.8 .4-.8 .4-2.4 .5 0 .4 1.2 .4-.2 .5-.4 .4 1.3 .4 .9 .5-2.4 .4-1.3 .4 1.4 .5 .8 .4-1.3 .5-1 .4 .4 .4 1 .5 1.8 .4 0 .4-1.8 .5 .1 .4 1.6 .4-.2 .5-.8 .4 1 .4 1.3 .5 .2 .4-2 .5-2.5 .4 .5 .4 1.1 .5 .3 .4-.2 .4-.7 .5-.4 .4-1.3 .4-1.3 .5 .3 .4 .7 .4 2 .5 1.3 .4-1.6 .4-1.4 .5-.4 .4-.3 .5-.2 .4 .4 .4 .3 .5-1 .4-1.4 .4-.9 .5 .2 .4 1.1 .4 .3 .5-.9 .4-.9 .4-1.4 .5-1.8 .4 .2 .5 .8 .4-.5 .4-1.5 .5-1 .4-.7 .4-.7 .5-.4 .4-1.4 .4-2 .5-2.2 .4-1.5 .4-1 .5-2.2 .4-1.3 .5-.6 .4-2.1 .4-3.2 .5-2.9 .4-2 .4-1.6 .5-1.8 .4-1.1 .4-.8 .5-.8 .4-.5 .4-.3 .5 0 .4 .3 .5 .7 .4 1.4 .4 1.4 .5 2.3 .4 2.4 .4 2.1 .5 2.6 .4 1.8 .4 1.6 .5 2.2 .4 1.5 .4 1.6 .5 2.3 .4 1.9 .5 1.6 .4 1.3 .4 .1 .5-.2 .4 1.8 .4 1 .5-.7 .4 .6 .4 2.1 .5 2.6 .4 .7 .4 .2 .5 1.2 .4 .7 .4 .3 .5-.4 .4-.6 .5 1.1 .4 1.8 .4 .2 .5-.6 .4 .4 .4 .7 .5 1.6 .4 1.8 .4-.7 .5-1.5 .4-1 .4-.3 .5-.4 .4-.3 .5 1 .4 .2 .4-.3 .5 1.1 .4 1.1 .4 .5 .5-1 .4-1.8 .4 .2 .5 1 .4 .7 .4-.2 .5-1.4 .4 .4 .5 2.2 .4 .9 .4-1.5 .5-.1 .4 .5 .4-.3 .5 1.5 .4 .2 .4-.7 .5 .5 .4-1.4 .4-1.9 .5-.1 .4 .9 .5 1.5 .4 .4 .4-.8 .5 .1 .4 .3 .4-.1 .5 .8 .4-.3 .4-1.6 .5-.6 .4 1 .4 .5 .5-.3 .4 .6 .4 .1 .5 .1 .4-1.3 .5-2.8 .4 .6 .4 1.3 .5-.5 .4 1.6 .4 1.8 .5-1.1 .4-1 .4-.3 .5-1 .4-1 .4 1.2 .5 1.5 .4-.2 .5-.2 .4 .4 .4-.2 .5-1.2 .4-1.5 .4-1.1 .5 1.1 .4 1.9 .4-1 .5-2.2 .4-.8 .4 .5 .5-.4 .4-1.3 .5 0 .4 1.1 .4-.7 .5-.9 .4 .4 .4-.2 .5-1.1 .4-1.8 .4-.8 .5 1 .4-.2 .4-1.8 .5-2 .4-1.5 .5-1.2 .4-.2 .4 .8 .5-.6 .4-1.8 .4-1.9 .5-2.5 .4-1.5 .4-.5 .5-.8 .4-2.1 .4-3.3 .5-2.9 .4-2.1 .4-2.6 .5-3.8 .4-3.3 .5-1.5 .4-1.7 .4-3.3 .5-4.7 .4-3.4 .4-1.6 .5-1.5 .4-1.6 .4-1.5 .5-.9 .4-.2 .4 .8 .5 1.4 .4 1.2 .5 1.7 .4 3 .4 3 .5 2.6 .4 3.5 .4 3.9 .5 3.7 .4 2.2 .4 .9 .5 2.2 .4 3.7 .4 2.6 .5 .7 .4 .6 .5 3 .4 3.8 .4 .3 .5-1.4 .4 1.3 .4 3.6 .5 2.6 .4 .4 .4-.4 .5 .8 .4 1.6 .4 .8 .5 .9 .4 2 .5 .6 .4 .2 .4 1.5 .5 .3 .4-.5 .4-.4 .5-.2 .4 2 .4 2 .5-.8 .4-.9 .4 1 .5 .7 .4 .2 .4 .9 .5 .3 .4-.7 .5-.5 .4 .2 .4 .8 .5 .8 .4 .6 .4-.1 .5 .1 .4-.2 .4-1.1 .5 0 .4 .9 .4 .2 .5 .6 .4 1 .5-.2 .4-.8 .4 .1 .5 .8 .4-.4 .4-.4 .5 0 .4-1.4 .4 0 .5 .6 .4-.1 .4 .4 .5 .9 .4 1.4 .5-.8 .4-2 .4 .5 .5 .5 .4 .6 .4 1 .5-.5 .4 0 .4 .4 .5 .1 .4 .2 .4-.6 .5-.2 .4 .7 .5-.5 .4-1.2 .4-.9 .5 .2 .4 2 .4 1.5 .5-.6 .4-1 .4-.8 .5-1.4 .4-.6 .4 0 .5 .5 .4 1.7 .5 .7 .4 .7 .4 .9 .5 .2 .4-.8 .4-2.5 .5-2.1 .4 .5 .4 1.9 .5 .4 .4-1.2 .4 .1 .5 .2 .4-1.4 .4 .2 .5 1.6 .4 .5 .5 0 .4-.5 .4-2.4 .5-.9 .4 2.2 .4 0 .5-2 .4-.1 .4 .4 .5 .9 .4 .4 .4-.8 .5 1.5 .4 1.3 .5-.9 .4-.9 .4-.6 .5 0 .4 .5 .4 1.3 .5 .1 .4-2.2 .4-.7 .5 1 .4 .1 .4-.3 .5 .1 .4-.2 .5-1.5 .4-1.1 .4 1.8 .5 1.8 .4-1 .4-1.9 .5-.8 .4 .7 .4 .1 .5-.3 .4 .7 .4-.9 .5 0 .4 .8 .5-1.4 .4-1.9 .4-1.3 .5 .7 .4 2 .4-.3 .5-1.4 .4-2.7 .4-1.2 .5 1.5 .4-1 .4-1.2 .5 .5 .4-.1 .4-1.2 .5-.8 .4 .6 .5 .2 .4-1.4 .4-2 .5-1.9 .4-1.1 .4 .2 .5 1.1 .4 .1 .4-.7 .5 .5 .4-.5 .4-1.6 .5-1.3 .4-3.1 .5-2.3 .4-.6 .4-1.6 .5-2.3 .4-3.6 .4-3.3 .5-2.5 .4-2.2 .4-1.6 .5-1.5 .4-1.2 .4-.7 .5-.4 .4 .2 .5 .1 .4-.8 .4 .4 .5 .7 .4-.1 .4 .7 .5 .7 .4-.4 .4-.3 .5-.9 .4-1.8 .4-1.1 .5-.8 .4-.6 .5 .1 .4-.2 .4-.7 .5-1.9 .4-1.8 .4-.2 .5-2.4 .4-2.7 .4 0 .5-.4 .4-1.4 .4-1.8 .5-2.4 .4-1.6 .4-1.1 .5-.6 .4 .1 .5 1.2 .4 1.1 .4 1.2 .5 2.1 .4 2.3 .4 1.4 .5 2.4 .4 3.6 .4 2.5 .5 1.4 .4 3.6 .4 4.5 .5 3 .4 3.6 .5 3.9 .4 2.4 .4 1.9 .5 1.8 .4 1.4 .4 1.9 .5 .9 .4-.5 .4 1 .5 1.8 .4 1.1 .4 .2 .5 .9 .4 2.1 .5 .8 .4-.2 .4 1.3 .5 1.4 .4-.4 .4-.9 .5-.2 .4 .8 .4-.5 .5 .1 .4 1.6 .4-.5 .5-1.5 .4-.3 .5 .9 .4-1.2 .4-2.6 .5-1.4 .4-.5 .4 1.6 .5 .6 .4-3.7 .4-1.9 .5 1.2 .4 .9 .4-.6 .5-.8 .4 .2 .4-1.2 .5-1.8 .4-.3 .5-1.1 .4-2.8 .4-2.4 .5-1.4 .4-2.2 .4-2.1 .5-1.3 .4-1.2 .4-1.5 .5-1.2 .4-.2 .4-2.6 .5-5.3 .4-3.1 .5-1.4 .4-2.4 .4-3.1 .5-2.7 .4-1.3 .4-1.7 .5-2 .4-1.6 .4-1 .5 0 .4 .7 .4 1.3 .5 1 .4 1.3 .5 2.7 .4 3 .4 1.6 .5 1.8 .4 3.2 .4 3.4 .5 2.7 .4 3.1 .4 3.8 .5 2.8 .4 2.5 .4 3.5 .5 3.3 .4 2.4 .5 1.9 .4 1.6 .4 1.2 .5 1.2 .4 .4 .4 1 .5 2.9 .4 2.7 .4 1.2 .5-.1 .4 .1 .4 2.3 .5 3.2 .4 .9 .5-.2 .4 0 .4 .4 .5 1.1 .4-.2 .4-1.3 .5 1.4 .4 2.5 .4 .4 .5-.1 .4-.8 .4-.7 .5 1.2 .4 1.2 .4 .5 .5-.7 .4-1 .5 1.3 .4 .5 .4-1.7 .5 .3 .4 .4 .4-.7 .5 .7 .4 2.2 .4 1.1 .5-1.1 .4-1 .4-1.1 .5-.8 .4 .9 .5 1.4 .4 .3 .4-1.3 .5 .1 .4 1.8 .4 .4 .5 .4 .4 0 .4-.5 .5 .2 .4-.1 .4-.5 .5 1.1 .4 .5 .5 .6 .4 2.6 .4-.6 .5-2.8 .4-.7 .4 .3 .5 .4 .4 .8 .4 1.3 .5 .5 .4-1 .4-1.4 .5-.7 .4-.7 .5 .7 .4 1.8 .4-.5 .5-1 .4 .9 .4 .8 .5-.2 .4-1.3 .4-.4 .5 1 .4 .2 .4-1.5 .5-.5 .4 1.2 .4 1.6 .5 .6 .4-1.5 .5-.6 .4 .6 .4 0 .5 0 .4 .5 .4-.8 .5-1.7 .4-.4 .4 .9 .5 1.3 .4 .7 .4-.6 .5-1.1 .4-.3 .5 .3 .4 .2 .4 1.1 .5 .8 .4 .2 .4 .1 .5-1.6 .4-1.3 .4 .6 .5-.8 .4-.4 .4 1.5 .5-.7 .4-2.1 .5 .5 .4 1.3 .4 .2 .5 1.1 .4 .4 .4-.7 .5-.1 .4 0 .4 1.1 .5 .8 .4-1.4 .4-.3 .5 1.3 .4 .1 .5-.8 .4-.1 .4-.4 .5-.8 .4-.1 .4-.1 .5-.3 .4-1.1 .4-.4 .5 1.8 .4 .2 .4-.7 .5 .1 .4 0 .4 0 .5 .1 .4 1.2 .5 .2 .4-1.3 .4-1.2 .5-.8 .4 .1 .4-.2 .5-.5 .4 1.8 .4 1.2 .5-.7 .4-.8 .4-1.4 .5-.5 .4 1.1 .5-.9 .4-.5 .4 1 .5-.5 .4-.5 .4 .4 .5 .1 .4 .2 .4 .5 .5-.9 .4-1.8 .4-1.1 .5-.9 .4-.7 .5 .1 .4 .3 .4 .3 .5 .5 .4 .1 .4-1 .5-1.2 .4-1.5 .4-1.8 .5-.7 .4-.2 .4-.1 .5 0 .4-.6 .5-2 .4-1.3 .4-.9 .5-.5 .4 1 .4-.3 .5-2.2 .4-1.6 .4-.4 .5-.4 .4-.3 .4 .2 .5 .1 .4 .1 .4 1 .5 1.3 .4 1.2 .5 .2 .4-.8 .4 1.1 .5 1.8 .4 .7 .4 .7 .5 1.5 .4 2.7 .4 1.5 .5-.3 .4-.5 .4 .8 .5 .5 .4-.1 .5 .8 .4 .4 .4 0 .5 .7 .4 1.3 .4 2.1 .5 1.2 .4 1.1 .4 .4 .5-2.6 .4-.9 .4 2.3 .5 .4 .4-1.3 .5 .2 .4 .1 .4-.1 .5 .2 .4-.2 .4 1.4 .5 2.2 .4-.8 .4-3.1 .5-.8 .4 2.5 .4 .5 .5-1.7 .4 .5 .5 1.5 .4-.5 .4-1.4 .5 .8 .4 .4 .4-.6 .5 1 .4 0 .4-1.1 .5 .4 .4 .7 .4 0 .5 .3 .4-.4 .5-1.4 .4 .9 .4 2 .5 0 .4-.9 .4-.7 .5-.5 .4 .2 .4 1.4 .5-.1 .4-.9 .4-.6 .5-1.4 .4 .7 .4 2.8 .5 .2 .4-2.1 .5-1.1 .4 0 .4 .3 .5 .5 .4 .9 .4 .2 .5-.9 .4-1.1 .4-1.7 .5 .3 .4 2.7 .4-.1 .5-1.8 .4-.5 .5 1.1 .4 .6 .4-1.2 .5-.9 .4 0 .4 1.1 .5 .8 .4-2.6 .4-3 .5 0 .4 1.5 .4-.1 .5-1.8 .4-2.2 .5-1.7 .4 .8 .4 1.6 .5-1.6 .4-2.2 .4-.3 .5-.5 .4-1.1 .4 .7 .5 .1 .4-3.9 .4-4.3 .5-1 .4 .6 .5-.8 .4-2.2 .4-1.2 .5-1.4 .4-2.1 .4-1.1 .5-.9 .4-.9 .4-.1 .5 .4 .4 .6 .4 .4 .5 .4 .4 .9 .4 1.4 .5 1.6 .4 .8 .5-.3 .4 1.3 .4 3.5 .5 2.2 .4 .3 .4 1.3 .5 2 .4 .9 .4 .5 .5 1.3 .4 .7 .4 .2 .5 1.3 .4 1.9 .5 1.6 .4 .2 .4-.6 .5 .1 .4 1.1 .4 1.7 .5 .6 .4-.8 .4 .2 .5 1.3 .4-.6 .4-.3 .5 1.4 .4 1.2 .5-.3 .4-1 .4 .2 .5 1.2 .4 .6 .4-.5 .5-.7 .4-.4 .4 1.1 .5 1 .4-.2 .4 .2 .5-.6 .4-.3 .5 1.3 .4 .2 .4 .1 .5 .5 .4-.2 .4-.4 .5 1.1 .4 .9 .4-.1 .5 1 .4-1.7 .4-2.3 .5 1.1 .4 1.3 .4 1.1 .5 .7 .4-1.3 .5-1.8 .4 .9 .4 1.3 .5-.5 .4-.3 .4-1.1 .5-1.8 .4 1.3 .4 2.2 .5 .7 .4-.7 .4-1.5 .5 1.2 .4 2.6 .5 .2 .4-.8 .4 .8 .5 .5 .4-1.3 .4-1.2 .5-.6 .4-.1 .4 .3 .5 .5 .4 1.2 .4 .5 .5-.4 .4 .1 .5-.7 .4-.2 .4-.2 .5-.4 .4 .4 .4-.4 .5 .7 .4 1 .4 .2 .5 .3 .4-.1 .4 .4 .5 .6 .4 .3 .5 0 .4-.6 .4-1.6 .5-1.2 .4-.2 .4 0 .5 .4 .4-.4 .4-1.3 .5 .8 .4 2.4 .4 .6 .5-1.2 .4-.3 .4 .8 .5 .7 .4 .1 .5 .4 .4 .1 .4-.7 .5 .5 .4 1.6 .4 1.4 .5-.1 .4-2.3 .4-.2 .5 .4 .4-2.1 .4 .7 .5 2 .4-.1 .5-.4 .4 .1 .4 .2 .5-.4 .4-.4 .4 0 .5 .7 .4 .3 .4-1.5 .5-1.9 .4 .4 .4 1 .5 1.1 .4 1.6 .5-.2 .4-.4 .4-.3 .5-1.1 .4-.7 .4 0 .5 .1 .4 .8 .4 .1 .5-3.1 .4-2.1 .4 .7 .5 1.4 .4 1.1 .5-.2 .4 .7 .4 1.2 .5 .4 .4-.1 .4-.9 .5-.2 .4-.4 .4-1.3 .5-.7 .4-.4 .4 .2 .5 1.9 .4 1.9 .5-.5 .4-1.4 .4-.7 .5-1.4 .4 .9 .4 .9 .5-.7 .4 .9 .4-.1 .5-1.8 .4 .2 .4 1.8 .5 .7 .4 .1 .4 .3 .5-.7 .4-1.7 .5-.9 .4 .4 .4 1.7 .5 .5 .4-1.8 .4-.5 .5-.2 .4-.7 .4 .8 .5 1.1 .4 .8 .4-.7 .5-.7 .4 1.5 .5 .8 .4 .6 .4 .6 .5-1.4 .4-.7 .4-.1 .5-1.2 .4-.8 .4 .2 .5 0 .4 .5 .4 .7 .5-.3 .4-.9 .5 .4 .4 .8 .4-1 .5-1.5 .4-.4 .4 1 .5 1.3 .4 1.2 .4-.2 .5-1 .4 1 .4 1 .5-1.8 .4-1.9 .5 .4 .4 .1 .4-.9 .5 .7 .4 0 .4-.2 .5 .6 .4 .3 .4 .5 .5-.6 .4-1.9 .4-1.8 .5-1.3 .4 0 .4 1.9 .5 1.4 .4-.9 .5-.1 .4-.1 .4-.9 .5 .2 .4 .3 .4-.5 .5-.5 .4 0 .4-.1 .5-.2 .4 .1 .4 .3 .5 0 .4-.5 .5 .1 .4 .2 .4-.5 .5 0 .4 .3 .4 .6 .5 1.6 .4 1.4 .4 .9 .5-.3 .4-1.3 .4-.9 .5-.5 .4 .4 .5 1.2 .4 1.8 .4 2.2 .5-.6 .4-1.4 .4-1.1 .5-1 .4 2 .4 1.9 .5-.7 .4-1.2 .4 .1 .5 .7 .4-1.1 .5-.6 .4 2.1 .4 .3 .5-.7 .4 .6 .4 1 .5 .9 .4-2.1 .4-3.3 .5 .3 .4 1.7 .4-.4 .5-.1 .4 1.5 .4-.5 .5-1.7 .4 .8 .5 1 .4-.5 .4 .7 .5 1 .4-1 .4-1.1 .5 0 .4 .8 .4-.7 .5-.1 .4 2.2 .4-.1 .5-2.3 .4-2.1 .5-.5 .4 1.6 .4 .1 .5-1.1 .4-.3 .4 .4 .5 .8 .4-.8 .4-.2 .5 1.4 .4-.1 .4-.8 .5-1.4 .4-1.1 .5 .5 .4 1.3 .4 2 .5 1 .4-1 .4-3.2 .5-2.8 .4-.9 .4-.5 .5-.2 .4 .5 .4 1.7 .5 .1 .4-2 .5-1.5 .4-1.5 .4 .3 .5 1.6 .4 0 .4-1.5 .5-2 .4-.7 .4-.8 .5-1 .4 .3 .4 .6 .5 1.3 .4 1.4 .4-.8 .5-1.8 .4-.9 .5-.1 .4 .1 .4 .1 .5 0 .4 .2 .4 0 .5-.7 .4-.9 .4 .5 .5 1.9 .4 1.9 .4-.1 .5-.7 .4 1 .5 1.4 .4 .1 .4-.7 .5-1.1 .4 .6 .4 2.6 .5 .1 .4-.8 .4-.2 .5-1.7 .4-1 .4 1.7 .5 1.2 .4 .4 .5 0 .4 0 .4 1.1 .5 .4 .4-.1 .4 .1 .5-2 .4-1.4 .4 .5 .5-.6 .4-.3 .4 .6 .5-.3 .4-.3 .5-.8 .4-1.5 .4-.1 .5 1.3 .4 .4 .4-.7 .5 .3 .4-.4 .4-1.5 .5-.7 .4-.1 .4 0 .5 .4 .4 .2 .5 0 .4-.1 .4 .2 .5 .1 .4-.2 .4-.1 .5-.2 .4 0 .4 .1 .5 .6 .4 1 .4 1.4 .5 1.2 .4 .3 .4 1.1 .5 .2 .4-.7 .5 .4 .4 .4 .4 .1 .5-.3 .4-.1 .4 2.3 .5 2.1 .4-.2 .4-1 .5-.2 .4 1.8 .4 1.6 .5 .9 .4-.2 .5-1.4 .4 .5 .4 .6 .5-1.1 .4 .1 .4 0 .5 .5 .4 1.4 .4 .3 .5 .5 .4 1.3 .4 .3 .5-.5 .4 0 .5-.4 .4-1.9 .4-.6 .5 1.7 .4 1.8 .4 .5 .5-.3 .4 .1 .4-1 .5-1.3 .4 1.4 .4 .8 .5-.8 .4-.2 .5-.2 .4-.2 .4 .2 .5-.3 .4 0 .4 1.6 .5 1.3 .4-1 .4-1.2 .5 .8 .4 .9 .4-1 .5-1.4 .4 .7 .4 1.3 .5-.8 .4-1.5 .5-.3 .4 .8 .4 0 .5-1.8 .4-.7 .4 1.3 .5 1.3 .4-1.1 .4-.9 .5 1.6 .4 .9 .4-.7 .5 .4 .4 2 .5 .6 .4-1.5 .4-.8 .5 .4 .4-.1 .4 .2 .5-.2 .4-1.3 .4 .3 .5 2 .4 .9 .4-1.3 .5-.6 .4-.1 .5-.5 .4 1 .4 .9 .5-1.4 .4-2.1 .4 .6 .5 1.7 .4 .1 .4-.8 .5-1.1 .4-1 .4 .5 .5 1 .4-.3 .5-.1 .4 0 .4 .2 .5 .2 .4-.7 .4-.4 .5 .7 .4 1.6 .4-.5 .5-2.5 .4-.1 .4 1.1 .5 .9 .4 .4 .4 .3 .5-.2 .4-1.3 .5 .7 .4 1 .4-.6 .5 .9 .4-.4 .4-2.1 .5-.1 .4 .8 .4 .6 .5 .4 .4-1.2 .4-.8 .5 0 .4-2 .5-.9 .4 1.8 .4 1.3 .5 .4 .4-.7 .4-1.1 .5 .2 .4 1.5 .4 .3 .5-1.4 .4 0 .4 1.5 .5 0 .4-.5 .5 1 .4 0 .4-.6 .5-.3 .4-.2 .4 1.6 .5 .2 .4-2.5 .4-.7 .5 .3 .4-.6 .4 .5 .5 1.1 .4 2 .5 2 .4-.9 .4-3.1 .5-.5 .4 1.7 .4-.4 .5-1.7 .4-.6 .4 .6 .5 1.3 .4 .9 .4 .4 .5 .5 .4 .3 .4-.9 .5-.8 .4 .7 .5-.3 .4-1.2 .4 1 .5 .3 .4-1 .4 0 .5 .6 .4 .8 .4-.2 .5-.2 .4 .9 .4 .1 .5-.8 .4-.7 .5-.2 .4 1.6 .4 .2 .5-1.3 .4 .9 .4 .4 .5-1.8 .4-.1 .4 1.6 .5-.6 .4-2 .4 .3 .5 .4 .4 .1 .5 1.1 .4-1.4 .4-1.4 .5 2.1 .4 1.6 .4-1 .5-.9 .4 .2 .4 .2 .5 .2 .4 .9 .4 0 .5-1.1 .4-.6 .5-1 .4-.4 .4 2.3 .5 1.4 .4 .1 .4 1 .5-.4 .4-1.3 .4-1.2 .5-.1 .4 1.7 .4 1.2 .5-1.1 .4-.8 .5 1 .4 .6 .4-1 .5-.9 .4 .2 .4 .1 .5 .5 .4 .7 .4 .1 .5 .4 .4-.4 .4-1 .5 .2 .4 1.8 .4 0 .5-1.9 .4-.4 .5-.4 .4-1 .4 .9 .5 1.4 .4 1 .4 .5 .5-.2 .4-.4 .4-.9 .5-1.4 .4-.1 .4-.4 .5-.5 .4 .9 .5 .1 .4-.7 .4-1.1 .5 .9 .4 2.4 .4-.9 .5-2.6 .4-1 .4 .7 .5 0 .4-.4 .4 .4 .5 .5 .4 .3 .5-.3 .4-.1 .4-.1 .5-.6 .4 .3 .4 1 .5 0 .4-1.2 .4-2.8 .5-1.2 .4 .9 .4-.5 .5-1.7 .4-.2 .5 1.1 .4-.8 .4-1.1 .5 1.4 .4 .3 .4-2 .5-1.8" stroke="#ff0000"/>
<path d="M202.3 767.6l.4 .1 .5-1.4 .4-.9 .4 .7 .5-.3 .4-1.8 .4-.5 .5-.6 .4-.2 .5 1.8 .4 .4 .4-1.5 .5-.7 .4 1.1 .4 .5 .5-1.2 .4 .2 .4 .6 .5 .9 .4 1.3 .4-.9 .5-2 .4 .2 .5 1.3 .4-1.5 .4-1.8 .5 1.9 .4 1.5 .4-.8 .5-.5 .4 .9 .4 2.4 .5 .8 .4-3 .4-2.8 .5 .2 .4 2.1 .5 0 .4-.8 .4-.1 .5-.7 .4 .3 .4 .9 .5 1.1 .4 .3 .4-.8 .5-1.6 .4-.5 .4 2 .5 .2 .4-2.6 .5-.8 .4 1.4 .4 .5 .5-.8 .4-.1 .4 .3 .5 0 .4 .7 .4-.3 .5-.9 .4-1.2 .4-2 .5-.3 .4 1 .4 1.3 .5 .7 .4-.2 .5 .3 .4 1.4 .4 .4 .5-1.5 .4-1.7 .4 .6 .5 .6 .4-1.9 .4-.4 .5 1.9 .4 .7 .4-.6 .5-.1 .4 0 .5-1.1 .4 .4 .4 2.1 .5 .6 .4-1.5 .4-1.7 .5 .3 .4 .6 .4-.2 .5 1.6 .4 .8 .4-1.9 .5-.9 .4 .2 .5-.1 .4 .1 .4 .1 .5 .2 .4 .7 .4 1 .5-.3 .4-1.3 .4 0 .5 1 .4-1.4 .4-2.7 .5 .3 .4 1.3 .5 .3 .4-.5 .4-1.3 .5 0 .4 2.2 .4 1 .5-.9 .4-.6 .4-.6 .5 .4 .4 1.3 .4-.6 .5-.7 .4 1.5 .4 1 .5-.7 .4-.5 .5 .1 .4-.4 .4-.2 .5 1.5 .4 .4 .4-2.1 .5-2.1 .4-.3 .4 1.1 .5 .6 .4 .6 .4 .7 .5-2.6 .4-2.3 .5 2 .4 .5 .4-.9 .5 1.8 .4 2.1 .4 .6 .5 .9 .4 0 .4-2 .5-1.3 .4 .6 .4-1 .5-1.3 .4 .4 .5 .3 .4 1.2 .4 .6 .5-.7 .4-.9 .4-2.2 .5-.1 .4 2.3 .4 .8 .5-1 .4-1.1 .4 0 .5 1.1 .4-.2 .5-1.5 .4 .3 .4 0 .5-1.8 .4-.2 .4 1.6 .5 1.3 .4 1 .4 .4 .5-.4 .4 .7 .4 1 .5-1.8 .4-2.4 .5 1.2 .4 2 .4-.1 .5-.2 .4 .4 .4-.4 .5-.8 .4-.9 .4 .2 .5-.1 .4-2.1 .4-1.8 .5 0 .4 1.6 .4 1.7 .5-.1 .4-.5 .5-.4 .4 .3 .4 .2 .5-.7 .4-.1 .4 0 .5-.3 .4 .3 .4-.8 .5-.7 .4 3.2 .4 1.7 .5-2.6 .4-1.7 .5 .8 .4 1.3 .4-.9 .5-1.6 .4 .5 .4 1.5 .5 .3 .4-1 .4-.4 .5-.7 .4-.3 .4 1.1 .5 1.4 .4-.5 .5-2.6 .4-1.1 .4 1.4 .5 1.3 .4 .4 .4-.6 .5-1.8 .4 .4 .4 1.2 .5-.1 .4 .9 .4 .5 .5-1.3 .4-.8 .5-.4 .4 .3 .4 2.1 .5 .3 .4-1.4 .4 .4 .5 .3 .4-1.3 .4 .2 .5 .2 .4-1.5 .4-.4 .5-.1 .4-.3 .4 .8 .5 .4 .4 .2 .5 1.3 .4 .4 .4-.4 .5 .5 .4 .1 .4-1.4 .5-1.8 .4-.4 .4 1.3 .5 .4 .4-.2 .4 .1 .5 .4 .4 .4 .5-1.6 .4-1.3 .4 .2 .5 .1 .4 .6 .4 1 .5 .7 .4 1.4 .4-.1 .5-2.7 .4-.4 .4 .9 .5-.2 .4-.8 .5-.9 .4 1.8 .4 1.9 .5-1.8 .4-.7 .4 1.4 .5 1.1 .4 .8 .4-.4 .5-.5 .4-1 .4-2.4 .5 .5 .4 1.7 .5-.5 .4-.2 .4 .4 .5-.5 .4-.4 .4-.5 .5-.8 .4 .7 .4 .7 .5-1.3 .4-.5 .4 .8 .5 .5 .4 .2 .4-.2 .5-.5 .4-.5 .5-.8 .4 .2 .4 1.8 .5 1.7 .4 .1 .4-1.7 .5-.9 .4-.5 .4-1.2 .5-.7 .4 .3 .4 .7 .5 .7 .4 .2 .5-1 .4-1.2 .4 .2 .5 .4 .4 .6 .4 1.1 .5-.3 .4-2.1 .4-1 .5 .9 .4 .2 .4 0 .5 .7 .4-.1 .5-.8 .4 .9 .4 1.3 .5-.2 .4 .9 .4 .4 .5-1.1 .4-.6 .4-.6 .5 .2 .4 .3 .4-.5 .5-.2 .4-.2 .5-.6 .4 .9 .4 1.3 .5 0 .4-.1 .4-.8 .5 .1 .4 1.3 .4-1 .5-2 .4-.8 .4 1.2 .5 1.8 .4-.1 .4-1.4 .5-.3 .4 .5 .5 .1 .4 .3 .4 .1 .5 .8 .4 .3 .4-1.7 .5-1.2 .4 .5 .4 1.6 .5-.2 .4-2.3 .4-1.9 .5 .1 .4 .8 .5 0 .4 1.1 .4 2.7 .5 .7 .4-3.3 .4-2.1 .5 .4 .4-.4 .4 .5 .5 1.5 .4 .7 .4 .9 .5 .6 .4-1.4 .5-1.5 .4 .7 .4 0 .5 0 .4 1 .4-.8 .5-1.4 .4 .2 .4 .6 .5-.1 .4-.3 .4 .9 .5 .5 .4-.5 .5 .4 .4 .7 .4-.8 .5-1.2 .4 .7 .4 1.5 .5-.3 .4-2 .4-.7 .5 .7 .4 .2 .4 0 .5 .3 .4 0 .5 .3 .4 1.6 .4 .4 .5-3.3 .4-1.3 .4 1.8 .5 2 .4-.4 .4-2.2 .5 .6 .4 1.4 .4-1.1 .5-1 .4 1.5 .4 .6 .5-.5 .4 .6 .5-.8 .4-.6 .4 .7 .5-.8 .4-1 .4 1.5 .5 1.9 .4-.1 .4-.7 .5-.3 .4-.4 .4 .7 .5 1.8 .4 .3 .5-1.8 .4-1.9 .4-1.3 .5 .6 .4 2.2 .4-.2 .5-1.8 .4 0 .4 .7 .5 .6 .4 .4 .4-1.3 .5-1.1 .4 1 .5 1.2 .4-.4 .4-.9 .5-.8 .4 .2 .4 .9 .5-.1 .4-.8 .4 .4 .5 1.3 .4-.7 .4-.6 .5 .5 .4 .6 .5 2 .4 .1 .4-2.2 .5-1.5 .4-.1 .4 1.2 .5 .7 .4-.6 .4-.7 .5-.1 .4 .2 .4-.4 .5-.3 .4-.3 .4 .5 .5 1.8 .4 .4 .5 .4 .4 .8 .4-1.4 .5-.8 .4 .4 .4-1.5 .5-.6 .4 .8 .4 .6 .5 1 .4 .1 .4-.6 .5-.8 .4-1.7 .5-1.1 .4 .4 .4-.2 .5-.9 .4 .3 .4 .3 .5-.4 .4 .2 .4 1.5 .5 2.1 .4 .7 .4 1.2 .5 1.4 .4-1 .5-.9 .4-.4 .4-1.1 .5-.6 .4-.2 .4-1.2 .5-1.3 .4 1.3 .4-.7 .5-1.7 .4 3 .4 1.1 .5-3 .4-.3 .5 1.9 .4-.8 .4-1.7 .5 .2 .4 2.2 .4 2.1 .5-.8 .4-1.1 .4 .5 .5-.1 .4 .1 .4 1.1 .5-.9 .4-1.4 .4 .2 .5 0 .4 .3 .5 .5 .4 .3 .4 2.2 .5-.5 .4-2.5 .4 1.7 .5 1.1 .4-1.2 .4 0 .5 .1 .4-.2 .4-1 .5-.4 .4-.1 .5-.6 .4 .5 .4 0 .5-.5 .4-.1 .4-.2 .5-.4 .4 .6 .4 1.7 .5 .8 .4-.4 .4-.7 .5-1.2 .4-.1 .5 1.7 .4 .1 .4-.4 .5 .2 .4-.5 .4-.2 .5-.7 .4-1.4 .4-.2 .5 1.6 .4 .4 .4-1.3 .5 0 .4 1.4 .5 1.6 .4-.3 .4-.6 .5 0 .4-.4 .4 .4 .5-.1 .4-1.9 .4-.9 .5 1.1 .4 .8 .4 .7 .5-1 .4-1.6 .4 1 .5 2 .4 .3 .5-2.4 .4-2.2 .4 1.4 .5 2.2 .4 1.8 .4 1.2 .5-2.4 .4-2.1 .4-.1 .5 .8 .4 1.2 .4 .3 .5 1.2 .4 .7 .5-1.2 .4-.4 .4 .3 .5 .5 .4 .1 .4-1.1 .5-1.1 .4-.3 .4 .5 .5 0 .4-.9 .4 .3 .5 1.1 .4 1.4 .5 .8 .4-2.3 .4-1.8 .5 1.5 .4 .8 .4-.7 .5-.6 .4-.8 .4 .3 .5 1.3 .4-1.2 .4-1.4 .5 .1 .4 2.3 .5 2.2 .4-1 .4-1.6 .5-.6 .4 .3 .4 .3 .5 .2 .4 1.1 .4-.4 .5-1.8 .4 0 .4 1.4 .5 .6 .4-1.1 .5-1.1 .4-.2 .4 .6 .5 1.1 .4-.4 .4-1.6 .5 .2 .4 1.3 .4 .6 .5 .9 .4 .2 .4-1 .5-.3 .4-.6 .4-1.3 .5 .9 .4 1.3 .5 0 .4-.6 .4 0 .5 .6 .4-.3 .4-.3 .5 0 .4 .1 .4 1.1 .5 .3 .4-1.4 .4-1 .5 .4 .4 .3 .5-1 .4-.1 .4 .7 .5 .9 .4 1.4 .4 .2 .5-.7 .4 .2 .4-1.2 .5-.6 .4 .6 .4-.8 .5-.1 .4 .5 .5-.3 .4 .8 .4 .5 .5-1.7 .4-.4 .4 2 .5 .6 .4-.3 .4-1.5 .5 .4 .4 1.6 .4-.9 .5 0 .4-.2 .5-.8 .4 .3 .4 .3 .5 .4 .4-.1 .4-1.7 .5 .1 .4 2.2 .4 1.2 .5-.8 .4-2 .4-.5 .5 .2 .4-.4 .4 1.1 .5 2.9 .4-.5 .5-2.4 .4 .2 .4 .3 .5-1.2 .4 .6 .4 2.4 .5 .5 .4-1 .4-1.5 .5-.4 .4 .2 .4-1.6 .5-.5 .4 1.3 .5 .3 .4-.1 .4-.8 .5-1.5 .4 .1 .4 1.2 .5 .8 .4 .5 .4-.1 .5-.6 .4 .1 .4 1.4 .5 1.8 .4-.2 .5-1.1 .4 .1 .4-.3 .5-.3 .4 .5 .4 0 .5-.7 .4-.1 .4-1.2 .5-2.1 .4 .4 .4 .8 .5-.3 .4 1.3 .5 2.1 .4-.4 .4 .3 .5 1.6 .4-.9 .4-1.7 .5-.2 .4 .1 .4-.3 .5 .3 .4-.2 .4-.3 .5 1.2 .4 .2 .4-1.6 .5-.1 .4 1.4 .5-.2 .4-.9 .4 .6 .5 .6 .4-.1 .4-.2 .5 .9 .4 1.3 .4-.9 .5-1 .4 0 .4 .2 .5 .5 .4-.1 .5 0 .4-.3 .4-1.6 .5 .3 .4 .4 .4-1.3 .5-.6 .4 .8 .4 .4 .5-.5 .4-.9 .4-.1 .5 1.4 .4 1.1 .5-.1 .4-.2 .4 0 .5 .1 .4 .9 .4 .6 .5-.1 .4 .2 .4 0 .5-.8 .4-1.1 .4-.1 .5 .3 .4-.4 .5 0 .4 .9 .4 .4 .5 .2 .4 .4 .4-.5 .5-.9 .4-.4 .4 1.2 .5 .8 .4-.9 .4 0 .5 .3 .4 .7 .4 .3 .5-.4 .4-1.2 .5-.8 .4 .8 .4-.8 .5-1 .4 .5 .4 .9 .5 1.4 .4 .4 .4-.1 .5 .7 .4-.5 .4-1.1 .5 .1 .4 .2 .5-.7 .4-.5 .4 .1 .5-1 .4-.7 .4 .9 .5 .7 .4 1 .4 2.1 .5 .8 .4-.7 .4-1 .5-1.3 .4 .1 .5 1.5 .4-.2 .4 .2 .5 .4 .4-1.6 .4-.7 .5-.5 .4-1.5 .4 .2 .5 2.1 .4 1.7 .4-.3 .5-1.1 .4-.5 .5-.1 .4 0 .4-.9 .5 .9 .4 1.6 .4-.4 .5 .3 .4 .4 .4-2 .5-1.7 .4-.4 .4 0 .5 1.6 .4 1.1 .5-1 .4-.7 .4 .3 .5 .3 .4 .3 .4 .6 .5-.7 .4-1.7 .4-.3 .5 1.9 .4 2.6 .4-.3 .5-.9 .4 .6 .4 .2 .5-.5 .4-.2 .5 .3 .4-.1 .4-1 .5 .4 .4 .3 .4-.6 .5 .4 .4 .1 .4-1 .5-.8 .4 .3 .4 .7 .5-.3 .4 0 .5 .6 .4-.3 .4 .3 .5-.8 .4-1.2 .4 .5 .5 1.7 .4 2.1 .4 0 .5-.9 .4-1.3 .4-1.1 .5 .9 .4 .1 .5-.8 .4-.8 .4-.3 .5 .2 .4 1 .4 1.1 .5-.6 .4-1.2 .4-.2 .5 .1 .4-.5 .4 .4 .5 .8 .4 1.1 .5 .8 .4-1 .4-.9 .5 .7 .4 .1 .4 .3 .5 1.7 .4 .2 .4-.6 .5-.4 .4 0 .4-.1 .5-1.6 .4-1.3 .4 .6 .5 1.3 .4 .9 .5 .5 .4-.7 .4-.3 .5-.1 .4-1.4 .4-.4 .5 1.6 .4 2 .4 .4 .5-1.7 .4-.7 .4-.8 .5 .3 .4 .9 .5 .4 .4 1.5 .4 .9 .5-.4 .4-1.6 .4 0 .5 .9 .4-1.6 .4-1.1 .5 .5 .4 .3 .4 0 .5 0 .4 0 .5-.3 .4 .1 .4 .6 .5 .8 .4 .5 .4-1.3 .5-.9 .4 .5 .4 1.1 .5 1.5 .4-.3 .4-.4 .5-.3 .4-1.9 .5 .2 .4 1.4 .4-1.4 .5-1.7 .4 .4 .4 .1 .5-.6 .4 1.7 .4 .5 .5-1.4 .4-1.2 .4-.4 .5 .7 .4-.1 .4-1 .5-1 .4-.5 .5 1.2 .4 1.1 .4-1 .5-.8 .4 .9 .4-.3 .5-1.2 .4 .2 .4 0 .5-1 .4-.5 .4 0 .5-.2 .4-.9 .5-1.6 .4-.6 .4 1.7 .5 2.2 .4 .5 .4-.4 .5-1 .4-.3 .4 .1 .5-.4 .4-.3 .4-.3 .5 .9 .4 1.2 .5-1.9 .4-2.6 .4-.5 .5 .6 .4 .8 .4 0 .5-1.8 .4-.9 .4-.5 .5-2.3 .4-2.3 .4 0 .5-.5 .4-3.3 .5-3 .4-.4 .4 .1 .5-1.8 .4-3.1 .4-2 .5-.4 .4-.8 .4-2.5 .5-.9 .4 .3 .4-1.3 .5-1 .4-.1 .4 .1 .5 .2 .4 .5 .5 .3 .4 .5 .4 2.2 .5 2.2 .4 1.6 .4 1.2 .5 1.4 .4 2.2 .4 1.8 .5 1.8 .4 1.9 .4 1.9 .5 2.4 .4 .9 .5 .7 .4 2.3 .4 1.1 .5 .2 .4 .8 .4 .7 .5 1.4 .4 1.1 .4-.6 .5-.2 .4 .3 .4 .4 .5 1.4 .4 .7 .5-1.3 .4 .6 .4 1.2 .5-1.4 .4-.5 .4 .8 .5-1.4 .4-.8 .4 1.7 .5 .3 .4-.8 .4 .5 .5 .4 .4-.5 .5-.1 .4 .8 .4 .9 .5 1.5 .4 .5 .4-.2 .5 .5 .4-1.6 .4-1.9 .5 .4 .4 .7 .4 1.1 .5 1.2 .4-.7 .5-.7 .4 .4 .4-1.3 .5-2.6 .4-.8 .4 1.3 .5 2.4 .4 .8 .4-2 .5-2.2 .4-1 .4 .8 .5 .5 .4-2.6 .4-1.7 .5 1.3 .4 1.6 .5 .3 .4-.6 .4-.2 .5-1.3 .4-.8 .4 .5 .5 .4 .4-.2 .4 .1 .5 .2 .4-1.6 .4-1.7 .5 .3 .4-.3 .5-2.2 .4-1.6 .4-1.3 .5-.4 .4 .9 .4 1.2 .5 0 .4-2.7 .4-2.2 .5-1.4 .4-2.1 .4-.6 .5 .7 .4-1.1 .5-1.5 .4 0 .4-1 .5-2.6 .4-2.1 .4-.5 .5-.5 .4-2.6 .4-3.1 .5-2.9 .4-3.7 .4-2.4 .5-.8 .4-3.3 .5-4.2 .4-3.2 .4-4.1 .5-5.3 .4-5.8 .4-6 .5-6.1 .4-6.6 .4-7.4 .5-7.8 .4-8.7 .4-9.9 .5-10.8 .4-11.6 .4-12.1 .5-12.6 .4-13.8 .5-15.1 .4-15.6 .4-16.2 .5-17.2 .4-17.9 .4-17.8 .5-17.5 .4-17.4 .4-16.8 .5-15.6 .4-14.1 .4-12 .5-9.3 .4-6 .5-2.5 .4 .4 .4 3.9 .5 7.5 .4 10.1 .4 12.5 .5 14.5 .4 16.1 .4 17.1 .5 17.7 .4 17.8 .4 17.5 .5 17.3 .4 16.8 .5 15.9 .4 15 .4 14.5 .5 13.6 .4 12.5 .4 11.6 .5 11.1 .4 10.2 .4 8.9 .5 8.1 .4 7.9 .4 7.1 .5 5.8 .4 5.5 .5 6.1 .4 5.6 .4 3.9 .5 4 .4 3.8 .4 2.6 .5 2.5 .4 1.9 .4 2.4 .5 3.9 .4 3.5 .4 1.2 .5 .9 .4 2.6 .4 1.4 .5 .5 .4 1.2 .5 1.3 .4 1.8 .4 .4 .5 .4 .4 1.3 .4 .9 .5 1.5 .4 0 .4-1.1 .5 1.7 .4 2.8 .4-1.6 .5-2.1 .4 1.4 .5 1.3 .4 1.5 .4 .2 .5-.7 .4 1.6 .4 .7 .5-.1 .4-.5 .4-1.3 .5 .5 .4 .6 .4-1.6 .5-1.1 .4 2 .5 1 .4-1.7 .4 .1 .5 0 .4-1.2 .4 .3 .5 1.4 .4 .2 .4-.4 .5-1 .4-1.2 .4 .6 .5 1.8 .4 1.1 .5-2.8 .4-3.8 .4-.1 .5 .3 .4-.3 .4 .9 .5 .6 .4-.3 .4-.9 .5-1.7 .4-.8 .4-1.3 .5-1.4 .4 .2 .4-.6 .5-2 .4-1.5 .5-1 .4-.6 .4-.3 .5-1.1 .4-2.1 .4-1.9 .5-1.5 .4-2.2 .4-1.7 .5-1.1 .4-2.5 .4-2.5 .5-1.5 .4-1.9 .5-3.3 .4-3.1 .4-3.4 .5-4.5 .4-3.8 .4-2.7 .5-2.7 .4-3.3 .4-3.5 .5-4.7 .4-5.3 .4-4.8 .5-5 .4-5.4 .5-5.8 .4-6.5 .4-6.8 .5-7 .4-6.7 .4-7.3 .5-7.7 .4-7.3 .4-7.7 .5-8.1 .4-8.4 .4-8.6 .5-8.8 .4-8.8 .5-8.7 .4-9.1 .4-8.8 .5-8.7 .4-8.8 .4-8.7 .5-8.1 .4-7.7 .4-6.7 .5-6.2 .4-5.7 .4-4.8 .5-3.8 .4-2.6 .5-1.7 .4-.7 .4 1 .5 2.5 .4 3.8 .4 5.7 .5 7.3 .4 8.2 .4 8.8 .5 9.5 .4 10.2 .4 10.8 .5 11.4 .4 11.2 .4 10.6 .5 10.4 .4 10.7 .5 11 .4 10.5 .4 9.6 .5 9 .4 9.3 .4 9.4 .5 8.3 .4 6.9 .4 7 .5 7.6 .4 6.6 .4 6 .5 6.5 .4 6.2 .5 4.6 .4 4.6 .4 4.9 .5 3.6 .4 3.2 .4 4.4 .5 4.3 .4 2.8 .4 2.1 .5 2.2 .4 2.5 .4 2.3 .5 2.4 .4 2.3 .5 2.1 .4 3.2 .4 2.3 .5 1.3 .4 1.1 .4 0 .5 .2 .4 .1 .4 .5 .5 3.4 .4 3.2 .4 .9 .5 .4 .4 .3 .5 .5 .4 .9 .4 .8 .5 .8 .4-1 .4-.9 .5 1.8 .4 1.9 .4 .5 .5 .2 .4 1.5 .4 2.3 .5 .2 .4-1.3 .4 .1 .5 .5 .4-.3 .5 .9 .4 1 .4-.8 .5-.4 .4 1.1 .4 .9 .5 .5 .4 0 .4-.3 .5 .8 .4 .7 .4-.8 .5-.9 .4 .3 .5 .6 .4 .2 .4 .6 .5 1 .4 1.8 .4 .2 .5-2.6 .4 .4 .4 2 .5-.3 .4-.4 .4 1.1 .5 .2 .4-1.7 .5 0 .4 2.9 .4 1.3 .5-1.9 .4-1.3 .4 .2 .5-.2 .4 .1 .4 .9 .5 .7 .4-.5 .4-.1 .5 1 .4-.5 .5-1.3 .4 1 .4 .9 .5-.3 .4 .8 .4 .8 .5-.5 .4 .3 .4 .7 .5-.9 .4-1.4 .4 .3 .5 1.2 .4 .6 .4 .6 .5 .3 .4-.9 .5-1.6 .4-.1 .4 2 .5 .5 .4-2 .4-1.1 .5 .6 .4 1.2 .4-.2 .5-1.2 .4 .1 .4-.4 .5 .4 .4 .8 .5-.5 .4-.2 .4-.5 .5-.2 .4 .5 .4-.3 .5 0 .4 1.2 .4 .1 .5-.9 .4 .6 .4 .5 .5-1.7 .4-.7 .5 .3 .4-.5 .4-.2 .5 1 .4 .8 .4-1 .5-.7 .4 2.1 .4 .6 .5-1.2 .4 .5 .4 0 .5 .4 .4 2.1 .5 .7 .4-2.3 .4-2.8 .5-.4 .4 .4 .4-.2 .5-.7 .4-.2 .4 1.2 .5 .3 .4 .5 .4 1.2 .5 .7 .4 .5 .4-1.5 .5-1.4 .4 1.2 .5 .6 .4 .2 .4-.6 .5-.6 .4 .1 .4-1.1 .5-.6 .4 .8 .4 .9 .5 .2 .4-1.4 .4-.6 .5 1 .4 .6 .5 1.2 .4 .7 .4-1.1 .5 .3 .4 .7 .4 .4 .5 .7 .4-1.4 .4-1.3 .5 1.2 .4-.3 .4-2.5 .5-.7 .4 1.5 .5 .4 .4 .1 .4 .1 .5-.3 .4 .5 .4-.2 .5 .3 .4 .8 .4-1 .5 .1 .4 .3 .4 0 .5 1.1 .4-1.6 .5-2.2 .4 1 .4 .8 .5 .9 .4 .3 .4-1.4 .5-.2 .4 1.3 .4 1.3 .5 .9 .4-.8 .4-1.5 .5-1.5 .4-1 .5 1.5 .4 1.4 .4-.7 .5-1.2 .4 0 .4-.4 .5 .3 .4 1 .4-1 .5 .2 .4 1.6 .4 .1 .5-.9 .4-.8 .4 .2 .5 .1 .4 0 .5-.1 .4 .7 .4 .8 .5-.7 .4 .3 .4 .7 .5-1 .4-.9 .4-.4 .5-.4 .4-.1 .4 0 .5 .7 .4 2.2 .5 1.1 .4-.6 .4-1.1 .5-2.2 .4-.6 .4 .9 .5 .9 .4 1.6 .4 .3 .5-.1 .4 0 .4-1.5 .5-1.6 .4 .2 .5 .6 .4-.5 .4-.6 .5-.1 .4 1.1 .4-.2 .5-.3 .4 1 .4-.2 .5-.4 .4 1 .4 .5 .5-.8 .4-1.7 .5-.2 .4 1.2 .4 .4 .5-.4 .4 .4 .4 1.8 .5 1.1 .4-1.1 .4-1.4 .5 .1 .4 .7 .4 .9 .5 1.1 .4-.4 .4-2.1 .5-1.3 .4-.8 .5-.8 .4 .8 .4 1.6 .5 .3 .4 .3 .4 .8 .5 .1 .4-1.5 .4-.8 .5 1.8 .4 .9 .4 .1 .5 .6 .4-1.2 .5-1.8 .4 .7 .4 .3 .5-.1 .4 1.2 .4-.6 .5-.7 .4 .8 .4-1.4 .5-2 .4 1.3 .4 3.4 .5 .5 .4-3.9 .5-1.8 .4 2.5 .4 2.2 .5-.1 .4-.2 .4 .3 .5-.4 .4-1.3 .4 0 .5 .2 .4-1.2 .4-1 .5 .5 .4 0 .5-.5 .4 0 .4-1.1 .5-.4 .4 .4 .4-.4 .5-.5 .4-.4 .4-.6 .5-.7 .4-.2 .4 .1 .5 .3 .4 .5 .4 .4 .5-.4 .4-.5 .5 .3 .4 1.4 .4 .6 .5-1.1 .4-.2 .4 2 .5 1.8 .4 .3 .4 .4 .5-.7 .4-2.2 .4-.7 .5 .9 .4 1.1 .5 .8 .4 .7 .4-1.4 .5-1 .4 2.7 .4 1 .5-1.2 .4-.2 .4-.6 .5 .3 .4 1.9 .4 0 .5-.4 .4 .6 .5 .6 .4-.4 .4-.6 .5-.1 .4-.1 .4-.4 .5-.4 .4 .1 .4 .3 .5 1.1 .4 1.5 .4-1.5 .5-2.6 .4 0 .5 .9 .4-.9 .4-.5 .5 .3 .4 0 .4 .7 .5 .8 .4 .9 .4 .7 .5-1 .4-1.2 .4 .2 .5 .1 .4-.5 .4 0 .5-.4 .4-.9 .5-1.2 .4 .3 .4 1.6 .5 0 .4 .1 .4 0 .5 .1 .4-.4 .4-1 .5 .5 .4 .5 .4-.4 .5 .1 .4 0 .5-1.2 .4-.8 .4 1.2 .5-1.2 .4-2.3 .4-.3 .5 .1 .4 .9 .4-1 .5-1.4 .4 .5 .4 .7 .5 .1 .4 .1 .5-.2 .4-.9 .4-.7 .5-1.5 .4-.9 .4 .2 .5-.5 .4-.1 .4-.8 .5-1.8 .4-.8 .4-.5 .5-.4 .4-.5 .5-1.9 .4-1.6 .4-.5 .5-.3 .4-1.7 .4-2.6 .5-2 .4-2.1 .4-2.4 .5-2.7 .4-2.3 .4-2.4 .5-3.1 .4-2.7 .5-2.8 .4-2.8 .4-2.5 .5-3 .4-3 .4-2.8 .5-2 .4-2.5 .4-3.4 .5-1.9 .4-.8 .4-.4 .5 .1 .4 .6 .4 1.1 .5 1.4 .4 1.6 .5 2 .4 2.7 .4 2.7 .5 3 .4 3.9 .4 2.7 .5 2.6 .4 3.4 .4 2.8 .5 2.3 .4 1.4 .4 1.7 .5 3.5 .4 2.6 .5 1.5 .4 2.1 .4 1 .5 .5 .4 1.6 .4 1.5 .5 .9 .4 1.3 .4 .5 .5-.2 .4 1.8 .4 2.8 .5 .5 .4-1.4 .5-.4 .4 1.1 .4 1.9 .5 1.6 .4 .8 .4 .7 .5 .2 .4-.7 .4-.7 .5 1.1 .4 1.8 .4-.4 .5 .2 .4 2 .5 .1 .4-2.3 .4-1 .5 2 .4 1 .4-1.5 .5 .3 .4 1.1 .4-.4 .5 .1 .4 .7 .4 .6 .5 .1 .4-.6 .4 .8 .5 .8 .4 .3 .5 .1 .4-1.4 .4-.1 .5 1.5 .4-.3 .4-.1 .5 2.2 .4 .5 .4-2.3 .5-1.2 .4 0 .4 1.4 .5 .7 .4-2 .5-.1 .4 1.8 .4 .8 .5 .1 .4 .4 .4-.6 .5-2 .4-.3 .4 .7 .5-.3 .4 .4 .4-.4 .5 .2 .4 2.2 .5 .4 .4-.6 .4-.2 .5-.8 .4-.1 .4 .8 .5 .1 .4-.8 .4 0 .5 .2 .4 0 .4 .1 .5-1.1 .4-1.2 .5 .9 .4 2.2 .4 1.7 .5 0 .4-.1 .4 .6 .5-.2 .4 0 .4 1 .5-.6 .4-1.5 .4-.6 .5 1.2 .4 2 .4 0 .5-.2 .4 .9 .5-.5 .4-1.6 .4-.7 .5-1 .4 .5 .4 1.7 .5 .5 .4-.1 .4-1.7 .5 0 .4 2.2 .4 1.1 .5 1 .4-1.5 .5-2.7 .4 .3 .4 1.7 .5 .3 .4-1.2 .4-.8 .5 .7 .4 .6 .4-.3 .5 .1 .4-.1 .4-.3 .5 .6 .4-.2 .5-.2 .4 .6 .4-.4 .5-.5 .4 .1 .4-.4 .5 .6 .4 .7 .4-1.9 .5-1.3 .4 .8 .4 1 .5 1.8 .4-.7 .5-2.1 .4 0 .4-.7 .5-.4 .4 3.6 .4 2.1 .5-1.8 .4-1 .4-.9 .5-.5 .4-1 .4-1.9 .5 .5 .4 2.5 .4 .3 .5-1.1 .4 1 .5 0 .4-1.7 .4 .2 .5 1.4 .4 .2 .4-.1 .5 .2 .4-1.5 .4-2.1 .5-.1 .4 .7 .4-.2 .5-.9 .4 .8 .5 .6 .4-.9 .4-.4 .5-1.2 .4-.8 .4 .4 .5-.1 .4-1.4 .4-1.8 .5 .2 .4 .8 .4-1 .5-.5 .4 1.2 .5-.1 .4-2.9 .4-2.3 .5-1.5 .4-1.8 .4 .3 .5 1.1 .4 0 .4-.1 .5-1.3 .4-1.9 .4-.3 .5-.1 .4-.4 .5-.4 .4-.4 .4-.2 .5 0 .4 .1 .4-.3 .5 .1 .4 1.5 .4 1.3 .5-1 .4 .4 .4 2.8 .5 1 .4-1.4 .5-.1 .4 2.4 .4 3.1 .5 1.3 .4-1 .4-.7 .5 1.4 .4 1.1 .4-.7 .5 1.2 .4 1.3 .4-.3 .5 1.6 .4 2 .4 .3 .5 0 .4 .4 .5-.7 .4-1.5 .4 .7 .5 2.5 .4 1.1 .4-.6 .5-.7 .4 .1 .4 .3 .5-.2 .4-.9 .4-.1 .5 .8 .4 .2 .5 1.1 .4 1 .4-1.2 .5-.6 .4-.7 .4-.2 .5 1 .4 .2 .4 1.1 .5 1.8 .4 .1 .4 .4 .5-.9 .4-1.6 .5-.1 .4 0 .4 .7 .5 .3 .4-1 .4-.3 .5 .7 .4 .2 .4-.2 .5 .2 .4 .1 .4 .4 .5 1.9 .4 1.4 .5-1.5 .4-1.2 .4 .9 .5-.1 .4-.8 .4 0 .5 1.1 .4 .6 .4-1.4 .5-1.9 .4-.5 .4 .6 .5 .5 .4 1.1 .4 .9 .5-1.3 .4-.9 .5 .9 .4 .5 .4-1 .5-1.5 .4 0 .4 .6 .5-.5 .4 .5 .4 2.3 .5 1.3 .4-.8 .4-2.1 .5-.8 .4 .7 .5-.2 .4 .4 .4 2.1 .5 0 .4-2.3 .4-.2 .5 1.9 .4 .7 .4-.5 .5-1.2 .4-.6 .4 .5 .5 1.1 .4 1.6 .5-.2 .4-3.1 .4-1.8 .5 1.3 .4 .5 .4-.8 .5 1.5 .4 1.7 .4-.8 .5-.9 .4 0 .4-.4 .5-1.3 .4-.6 .5-.1 .4-.4 .4 1.3 .5 2.7 .4 .3 .4-1.6 .5-2.4 .4-1.2 .4 2.5 .5 .9 .4-2.2 .4 .9 .5 1.7 .4-1 .4-.7 .5 1 .4 .8 .5 0 .4-.4 .4 .1 .5-.3 .4-1 .4 .4 .5 .1 .4-.7 .4 .7 .5 .7 .4-.4 .4-.8 .5 .1 .4 .4 .5 0 .4-1.1 .4-1.5 .5 .1 .4 .1 .4-.1 .5 .7 .4-.1 .4 0 .5 1.5 .4 1.6 .4-.1 .5-1.2 .4 .2 .5 .6 .4 .1 .4-.8 .5-.9 .4 .2 .4-.3 .5-1.4 .4-1 .4 .8 .5 .9 .4 1 .4 1.7 .5-.6 .4-2.3 .5-1 .4-.1 .4-.6 .5-.7 .4 0 .4 .7 .5-.1 .4-.9 .4-.2 .5 0 .4 .8 .4 .8 .5-1.1 .4 0 .4 .6 .5-1.6 .4-2.2 .5-.7 .4 .1 .4 0 .5 .8 .4 .1 .4-.9 .5-.5 .4 .8 .4 0 .5-1.9 .4-.6 .4-1.5 .5-1.6 .4-.8 .5-1.4 .4-.3 .4-.9 .5-.6 .4 0 .4-.9 .5-1 .4-.3 .4 0 .5-2.3 .4-2.4 .4-.4 .5-1.3 .4-3.6 .5-2.5 .4 .5 .4 .7 .5-.2 .4-.1 .4-.6 .5-.5 .4-.2 .4 .2 .5 .5 .4 .3 .4 1.9 .5 .9 .4-.7 .5 1.3 .4 2.3 .4 1.2 .5 .2 .4 .7 .4 1.5 .5 1.1 .4 1.2 .4 1.7 .5 .9 .4 .4 .4 1.5 .5 1.2 .4 .8 .5 1.2 .4-.4 .4 .5 .5 .8 .4-.1 .4 2 .5 2.4 .4 .2 .4-.7 .5 .1 .4 .8 .4 1.2 .5 1.3 .4 .7 .4-.6 .5-.9 .4 .5 .5-.5 .4-.6 .4 2 .5 1.9 .4-.5 .4-1.4 .5-1.6 .4-.3 .4 1.2 .5 1.4 .4 1.1 .4-.4 .5-.1 .4 .4 .5-2.1 .4-1.5 .4 1.1 .5-.3 .4 .5 .4 3.1 .5 1.4 .4-1.2 .4-1 .5-.6 .4-1.3 .4 1 .5 2.6 .4 1.2 .5-.7 .4-1.7 .4-1 .5 1.1 .4 2.2 .4-.4 .5-1.5 .4-.2 .4 .9 .5 1.7 .4-.1 .4-2 .5-1.4 .4-.1 .5 1.9 .4 2.2 .4-.5 .5-1.4 .4-.6 .4-.3 .5 .3 .4-.5 .4-1.3 .5 0 .4 1.9 .4 1.3 .5-2 .4-.7 .4 2.6 .5 .4 .4-1.4 .5-2.3 .4-1.3 .4 2.7 .5 1.5 .4-1.6 .4-.7 .5 .4 .4 .9 .4 .1 .5-1.3 .4-1.3 .4 .1 .5-.1 .4 .7 .5 1.4 .4-.9 .4-1 .5 .1 .4-1 .4-.3 .5 .3 .4-.9 .4-.3 .5-.6 .4-1.2 .4 .4 .5 .6 .4 .4 .5-.1 .4-.6 .4 1 .5-.6 .4-3.3 .4-2.3 .5-.5 .4 2 .4 1.1 .5-2.6 .4-1.7 .4-.1 .5 .5 .4 .1 .5-2.3 .4-2.3 .4-.9 .5-.8 .4-2 .4-1.3 .5 0 .4-.1 .4-1.6 .5-2.6 .4-1.6 .4-1.9 .5-1.9 .4-1.1 .4-1.5 .5-.1 .4-.7 .5-3.2 .4-2.1 .4-1.6 .5-2.3 .4-1.3 .4-.8 .5-1 .4-.3 .4 .1 .5 .2 .4 .2 .4 .2 .5 .5 .4 1.5 .5 2.3 .4 1.3 .4 .7 .5 2 .4 1.1 .4 .2 .5 2.2 .4 2.9 .4 2.7 .5 1.9 .4 1.4 .4 1.3 .5 .2 .4 1.1 .5 2.4 .4 .6 .4-.3 .5 .6 .4 .6 .4 1.7 .5 2.4 .4 2 .4-.3 .5-.5 .4 2 .4 .7 .5-.7 .4 .7 .5 2 .4 1.4 .4 .3 .5-.2 .4-.4 .4 .2 .5-.6 .4-.1 .4 2.2 .5 .7 .4-.8 .4 .3 .5 0 .4 .5 .4 1.1 .5 .9 .4-.1 .5-.9 .4 .3 .4 1.4 .5 .9 .4-.3 .4 .1 .5 .7 .4-.6 .4-.1 .5-.3 .4-1.2 .4 .2 .5 1.4 .4-.1 .5-1.1 .4 .6 .4 2 .5 .2 .4-2.3 .4-1.5 .5 .6 .4-.2 .4 .4 .5 2.7 .4 1 .4-.6 .5-.1 .4-.7 .5-1.5 .4-.6 .4 .9 .5 .7 .4 0 .4-.4 .5-.5 .4-.2 .4 .2 .5 .3 .4 1.2 .4-.1 .5-1.9 .4-.1 .5 1.7 .4 .1 .4-1.4 .5-.2 .4 .7 .4 .4 .5-.5 .4-1.1 .4-.3 .5-.2 .4-.6 .4 .8 .5 1.7 .4 1.5 .5-.3 .4-1.5 .4-.2 .5 .7 .4-1 .4-1.9 .5 .4 .4 1.5 .4 .1 .5-.1 .4 1.1 .4 1.2 .5 .5 .4-.5 .4-1 .5 0 .4 0 .5-1.2 .4-1.4 .4 .4 .5 2.2 .4 .2 .4-1.6 .5 0 .4 .8 .4-.1 .5-.9 .4-1.2 .4-.3 .5 1.9 .4 1.1 .5 0 .4-.7 .4-1.4 .5 .4 .4 .2 .4-1 .5 0 .4-.2 .4-.1 .5 1.5 .4 0 .4-.4 .5 1.8 .4-.1 .5-1 .4 .5 .4-.7 .5-.4 .4 .7 .4-1.6 .5-1.3 .4-1.2 .4-2.1 .5-.2 .4 .5 .4 .4 .5 .9 .4-.7 .5-1.2 .4 .8 .4-.8 .5-2.4 .4-.7 .4 .3 .5 0 .4 .7 .4-.2 .5-2.7 .4-1.4 .4 .7 .5 .1 .4-1.9 .4-2.4 .5 .7 .4 .3 .5-1.7 .4-1.2 .4-.6 .5-.7 .4 0 .4 .8 .5 .9 .4-.6 .4-2.5 .5-1.6 .4 .4 .4 .7 .5-1.1 .4-1.5 .5 0 .4-.6 .4-2.2 .5-2.4 .4-1.5 .4-1.3 .5-.5 .4-.1 .4-.4 .5-.6 .4-.8 .4 0 .5-.8 .4-1.7 .5-.1 .4 .3 .4-.3 .5-.2 .4 1 .4-.1 .5-1.5 .4 .1 .4 .6 .5 .1 .4-.7 .4-1.1 .5-.8 .4-.3 .5-1 .4-2.3 .4-.2 .5 0 .4-2 .4-1.6 .5-1.6 .4-.9 .4-.1 .5-.5 .4-.6 .4 .5 .5 .7 .4-.6 .4-.5 .5-.1 .4-.1 .5-.5 .4-.4 .4 1.1 .5 1.2 .4-.7 .4 .5 .5 .9 .4-.2 .4 .1 .5 2.3 .4 3.1 .4 2.3 .5 1.7 .4 .5 .5 1.6 .4 3.6 .4 3.8 .5 3.4 .4 3 .4 1.9 .5-.5 .4-1.4 .4-.7 .5 .5 .4 1.2 .4 1.1 .5 .1 .4 .9 .5 1.5 .4 .8 .4 .7 .5-.8 .4-1.4 .4 .4 .5 .9 .4 .9 .4 .7 .5 .4 .4-.2 .4 .1 .5-.4 .4-1.9 .5-.4 .4 1.3 .4 .4 .5-1 .4-1.3 .4-.9 .5-1.8 .4-2.4 .4 .1 .5 1.8 .4 .5 .4-1.5 .5-2.2 .4-.8 .4-.2 .5-1.3 .4-.5 .5 1.5 .4 .4 .4-2.5 .5-2.2 .4 .2 .4-.9 .5-1.6 .4-.8 .4-1.9 .5-3.1 .4-2 .4-1.8 .5-3.1 .4-2.9 .5 .5 .4 1.7 .4 .1 .5-1.4 .4-.4 .4 .8 .5 0 .4-.4 .4 0 .5 .3 .4 .4 .4 1 .5 .8 .4 .3 .5-.6 .4 .1 .4 2.1 .5 1.7 .4 2.3 .4 2.8 .5 .8 .4 .9 .4 3 .5 3.5 .4 3 .4 1.2 .5 0 .4 1.8 .5 3.2 .4 1 .4 1.1 .5 2.2 .4 .7 .4 1 .5 1.1 .4 1.3 .4 2.2 .5 1.7 .4 .4 .4 .2 .5 .3 .4 .4 .5 1.5 .4 .6 .4-.4 .5-.6 .4-.9 .4 .5 .5 1.2 .4-.2 .4-.1 .5 1.2 .4 1.1 .4-.7 .5-.4 .4 1.3 .4-.5 .5-.7 .4 1.1 .5 .8 .4 1.9 .4 2.2 .5-.3 .4-1.1 .4 .2 .5 0 .4-.7 .4 1.3 .5 .6 .4-1.7 .4-.9 .5 .9 .4 .7 .5-.7 .4-.7 .4 .8 .5 1.7 .4-.3 .4-1.6 .5 1.2 .4 1.9 .4-.6 .5-1.4 .4 .9 .4 1.8 .5 .7 .4-1.2 .5-1.8 .4 1.7 .4 1.4 .5-.9 .4-.6 .4-.8 .5-.4 .4 1.1 .4-.6 .5-1.8 .4-.2 .4 .1 .5 .8 .4 .7 .5-.1 .4 .4 .4 1.5 .5-.8 .4-1.9 .4 .1 .5-.4 .4 .2 .4 1.7 .5 .5 .4-.2 .4 .4 .5 .8 .4 .1 .4-.9 .5-.5 .4 .8 .5-.8 .4-2.3 .4 1.5 .5 1.9 .4-.2 .4-.4 .5-1.3 .4 .6 .4 2.5 .5-.8 .4-2.9 .4-1.1 .5 1 .4 1.5 .5 1.6 .4 0 .4-1.1 .5 .6 .4 0 .4-.5 .5 1 .4 .6 .4-1.1 .5 0 .4 .8 .4-.8 .5-2.2 .4-.8 .5 2.3 .4 2.6 .4-1.1 .5-2.4 .4 .3 .4 .4 .5-.2 .4 .7 .4 .9 .5 .9 .4-.2 .4-1.6 .5-1.2 .4 .1 .5 .1 .4 .6 .4 1.1 .5-1.1 .4 0 .4 .9 .5-.4 .4-.1 .4-.9 .5-1.5 .4 .1 .4 .6 .5-1.1 .4-.1 .4 2.4 .5 1.2 .4-1 .5 .7 .4 .7 .4-2.3 .5-1.8 .4-.3 .4 .2 .5 .4 .4 .5 .4 .5 .5-.4 .4 .4 .4 .2 .5-1.5 .4-.1 .5 .5 .4 .1 .4 .8 .5-.2 .4-1.7 .4-2.1 .5-.7 .4 1.1 .4 .5 .5 0 .4 .8 .4-.3 .5-.3 .4 .4 .5-.8 .4-1.6 .4-.8 .5 .4 .4-1 .4-1.2 .5-.1 .4-2 .4-2.1 .5 1.1 .4 1.7 .4-.3 .5-.6 .4-.7 .5-2.1 .4-2.1 .4-.7 .5 .8 .4 .6 .4 0 .5-.3 .4-.2 .4-.2 .5 .4 .4 .4 .4-.6 .5-.2 .4 .8 .4 .8 .5 1.6 .4 .5 .5 0 .4 1.3 .4 1.8 .5 1.3 .4-1.5 .4-1.4 .5 .9 .4 1.5 .4 1.1 .5-.6 .4 0 .4 2.5 .5 1.5 .4-1.1 .5-.6 .4 .8 .4 1.2 .5 .6 .4-.4 .4-.7 .5 .4 .4 1.2 .4-.7 .5-2.2 .4 .3 .4 1.2 .5 .4 .4 1.2 .5 .7 .4 0 .4 1.2 .5 .7 .4-1.8 .4-2 .5-.5 .4 1.2 .4 1.8 .5 1.2 .4 1.4 .4 .1 .5-1.2 .4-.9 .5-1 .4 .1 .4 .9 .5 1.5 .4 .3 .4-2.5 .5-1.6 .4 .9 .4 .6 .5 0 .4-.4 .4-.4 .5 .4 .4 0 .5-.7 .4-.2 .4 1 .5 .7 .4 .3 .4 .9 .5 .3 .4-.6 .4-1.4 .5-.6 .4 .2 .4-.4 .5 1 .4 .2 .4-.6 .5 .5 .4-.3 .5-.9 .4 .5 .4 .8 .5 .5 .4 .2 .4-1.3 .5-1.3 .4 .3 .4 1.1 .5-.4 .4-1.6 .4-1.4 .5-.8 .4 1.4 .5 1.2 .4-.8 .4-1.7 .5-.1 .4 1.4 .4-1.5 .5-2.6 .4 .3 .4 .7 .5-.4 .4-.8 .4-1.1 .5 .1 .4 .4 .5-.6 .4-.2 .4 .1 .5-.8 .4-1.2 .4-1.4 .5-1.5 .4-.3 .4-.6 .5-2.4 .4-1.8 .4-.3 .5 1.3 .4 .2 .5-2.9 .4-1.2 .4-.6 .5-1.5 .4-.1 .4-.2 .5-.9 .4-.3 .4-.1 .5-.1 .4 .2 .4 .1 .5-.4 .4-.2 .4 .1 .5 1.6 .4 2.2 .5 1.3 .4 .8 .4 .4 .5 .3 .4 1.4 .4 1.5 .5 1 .4 1.5 .4 .2 .5-.1 .4 1.2 .4 .6 .5 .3 .4 1.6 .5 1.3 .4-1.1 .4-.8 .5 1.1 .4 .6 .4 1 .5 2.2 .4 .8 .4-.7 .5-.2 .4 1.3 .4 .7 .5-.6 .4-.2 .5 1.1 .4-.3 .4-1.8 .5 .6 .4 2.2 .4 .9 .5-1 .4-1 .4 2.3 .5 2.2 .4-1.5 .4-1.6 .5-.7 .4-.6 .5 1.2 .4 2 .4 .4 .5-1.6 .4-.8 .4 .7 .5-.5 .4-.3 .4 .5 .5-.6 .4-.6 .4 1.5 .5 2.3 .4 .8 .4-.1 .5-.8 .4-.7 .5 .6 .4-.3 .4-.4 .5 .2 .4 .3 .4 .9 .5 .2 .4 .7 .4 .6 .5-1.3 .4-.3 .4 .6 .5-1.6 .4-1.2 .5 1.3 .4 .5 .4 .4 .5 1.3 .4 .1 .4-1.1 .5-.7 .4 .5 .4 .8 .5 .9 .4 .5 .4-.9 .5 0 .4 1.5 .5-.1 .4-1.6 .4 .4 .5 1.8 .4-.8 .4-2.3 .5-1.5 .4 .2 .4 2 .5-.1 .4 .3 .4 2.3 .5 .6 .4-.1 .5-1.2 .4-2.1 .4 .4 .5 1.1 .4 .2 .4 .8 .5-.2 .4-.9 .4 .4 .5-.1 .4-.6 .4 1.1 .5 1.2 .4-.8 .4-1.6 .5 .3 .4 2.6 .5 1.7 .4-1.6 .4-1.1 .5 1.6 .4 .4 .4-1.3 .5-1.5 .4-1.7 .4 1.5 .5 3.4 .4-.3 .4-1.5 .5-.4 .4-1 .5 .6 .4 1.3 .4-.8 .5-1.2 .4 .8 .4-.3 .5-.9 .4 1.4 .4 1 .5-1 .4-.2 .4 .7 .5-.5 .4-.2 .5 .5 .4 0 .4 .2 .5-.8 .4-1.1 .4-.3 .5 .4 .4 .7 .4 .6 .5 1.2 .4 1.3 .4 .5 .5-1.3 .4-1.9 .5-.5 .4 1.1 .4 1.5 .5-.2 .4-.2 .4 .8 .5-.8 .4-1.8 .4-1.4 .5-.5 .4 .4 .4 .9 .5 1.2 .4 .8 .5-.7 .4-3 .4-1.5 .5 3.1 .4 2.6 .4-1.8 .5-1.5 .4 1.1 .4-.2 .5-1.8 .4-.8 .4 .1 .5 .3 .4 .5 .4 .4 .5 .1 .4 .5 .5 .3 .4-.7 .4 .3 .5 1.7 .4 1.3 .4-1.4 .5-2.4 .4 .4 .4 1.5 .5 .3 .4-1 .4-1.9 .5-1.3 .4 1.6 .5 2.6 .4 .2 .4-.9 .5-.1 .4 .2 .4-.9 .5 .2 .4 1 .4-1 .5-1.8 .4-.8 .4 .1 .5 1.1 .4 1.2 .5-.1 .4-.5 .4-1.1 .5-.8 .4 1.1 .4 1.1 .5 1.2 .4 0 .4-1.6 .5-1.3 .4-1.4 .4 .8 .5 1.7 .4 .6 .5-.2 .4-1.2 .4-1.1 .5 .5 .4 .7 .4-1 .5-1.2 .4 0 .4 .3 .5 .3 .4 .5 .4-1 .5-.5 .4 1 .4 0 .5-1.3 .4-1.6 .5 .7 .4 .3 .4-.7 .5 .3 .4-.3 .4-.5 .5-.4 .4-.5 .4-.1 .5 .3 .4 .1 .4-.2 .5-.2 .4 0 .5-.3 .4-.1 .4 .9 .5 1.5 .4 0 .4 .5 .5 .8 .4-.9 .4 .3 .5 1.1 .4 .4 .4-.1 .5-.2 .4-1 .5-.7 .4 .9 .4 .8 .5 .1 .4 .6 .4 .7 .5-.9 .4-.9 .4 1.2 .5 .6 .4-.5 .4 .4 .5 1.3 .4 0 .5-.1 .4-.1 .4-1.8 .5-.2 .4 1.1 .4-1.1 .5-.3 .4 1 .4-.3 .5 .1 .4 .6 .4-.7 .5-1.1 .4 .3 .4 .7 .5 0 .4 1.2 .5 1.4 .4-.3 .4-1.4 .5-1 .4 1.2 .4 2.5 .5 1.1 .4-.7 .4-1.2 .5-1.5 .4-2.4 .4-.2 .5 2.2 .4 .7 .5-.5 .4-.4 .4-1.1 .5 0 .4 .5 .4-.9 .5-.3 .4 .9 .4 .6 .5 .1 .4-.2 .4-.7 .5 .7 .4 1.2 .5-1.7 .4-2.2 .4 1.3 .5 .7 .4-1.8 .4 1.3 .5 1.6 .4-.8 .4-1.1 .5 .5 .4 1.3 .4-1.4 .5-1.8 .4-.4 .5-1.2 .4-.6 .4 1 .5-.4 .4-2.4 .4-.7 .5 .4 .4 0 .4 1.5 .5 .2 .4-2.3 .4 .1 .5 .9 .4-1.7 .4-.7 .5 .1 .4-1 .5 0 .4-1.2 .4-.7 .5 .5 .4-.8 .4-.9 .5-.9 .4 .1 .4 .5 .5 .2 .4-.1 .4 .2 .5 .5 .4 .2 .5-.7 .4-.5 .4 1.4 .5 1.3 .4-1.5 .4-1 .5 .7 .4 .3 .4 1.1 .5 1.9 .4 .3 .4-.1 .5-.1 .4-1.5 .5-1.7 .4 .3 .4 1.1 .5 .1 .4-.4 .4 .8 .5 2 .4 .5 .4-.9 .5 .1 .4-.6 .4-.7 .5 1.5 .4 .7 .5-.7 .4-.8 .4 0 .5 .4 .4-.3 .4-.2 .5 .7 .4 1.2 .4 .2 .5-.7 .4-.3 .4 .5 .5-.6 .4-.8 .5 .4 .4 .5 .4 0 .5-.2 .4-.2 .4 .1 .5 .7 .4 .9 .4-.7 .5-.2 .4 2.5 .4 .3 .5-3.3 .4-.7 .4 2.4 .5 .7 .4 1 .5 2.3 .4 .3 .4-.9 .5 .6 .4 1.4 .4-1.7 .5-2.6 .4 .6 .4 .8 .5 .7 .4 2.5 .4 .8 .5-2.3 .4-2.1 .5 0 .4 2.1 .4 2.9 .5-.4 .4-2.2 .4 .7 .5 .9 .4 .3 .4 .6 .5-.4 .4 0 .4 .8 .5 .1 .4-1.1 .5-.4 .4 .9 .4-.5 .5-.7 .4 1 .4 1 .5-.5 .4-.9 .4-1.4 .5-.6 .4 1.1 .4 .7 .5-.4 .4 .6 .5 1.7 .4 .9 .4-.8 .5-1.6 .4-.4 .4 1.3 .5-.1 .4-1.3 .4-1 .5 .3 .4 1.3 .4-.8 .5 .1 .4 1.5 .4 .8 .5-.1 .4-.9 .5 .2 .4 .8 .4-.1 .5-1.2 .4 .8 .4 2.5 .5-.5 .4-1.4 .4-.9 .5 .1 .4 2.3 .4 .1 .5-2.9 .4-.8 .5 1.3 .4 .2 .4-.2 .5 1 .4 .2 .4-.3 .5 1.1 .4 .2 .4-1.9 .5-.9 .4 1.2 .4 .9 .5-1.8 .4-2.4 .5 1.1 .4 2.5 .4-.1 .5-.9 .4 0 .4-1 .5-.2 .4 1.5 .4-.3 .5-.7 .4 1 .4-.3 .5 .5 .4 1.3 .5-.6 .4-1.3 .4-1 .5 .5 .4 1.1 .4-.4 .5-1 .4-.6 .4-.3 .5 0 .4 .2 .4-.5 .5-1.3 .4-.3 .4 1.7 .5 1.1 .4-.5 .5 .5 .4 .5 .4-1.1 .5-.3 .4 .6 .4 .2 .5-.3 .4-.1 .4 1.3 .5 .3 .4-1.3 .4 .4 .5 1 .4 .1 .5-.3 .4-1.3 .4 .3 .5 1.1 .4-.5 .4 .2 .5 .3 .4-.7 .4 0 .5-.1 .4-1 .4-1 .5 0 .4 2.6 .5 2.5 .4-.3 .4-1.6 .5-.5 .4 .3 .4-.6 .5-1.1 .4 .3 .4 1.1 .5 .4 .4-.7 .4-.5 .5 1 .4-.2 .5-2.6 .4-1 .4 1.4 .5 .4 .4 .5 .4 .9 .5-.3 .4 .3 .4 1 .5-.9 .4-1.6 .4-.7 .5-.5 .4 .8 .4 .4 .5-.3 .4 .3 .5 0 .4-.3 .4 0 .5 .7 .4 1.9 .4 .3 .5-1 .4 .5 .4 .1 .5-1.8 .4-.8 .4 1.3 .5 1.6 .4 1 .5-1.1 .4-1.9 .4 .1 .5 .9 .4 .1 .4-1.7 .5 0 .4 2.3 .4-.4 .5-1.6 .4 .7 .4 2 .5 1.3 .4-.2 .5 0 .4 .6 .4-.8 .5-1.7 .4-1.5 .4-1 .5 .6 .4 1.7 .4-.2 .5-.8 .4 .8 .4 .8 .5-.3 .4 .8 .5 2 .4 .2 .4-1.9 .5-1.8 .4-.3 .4-1.7 .5-1.5 .4 2.1 .4 2.7 .5 .5 .4-.4 .4 .2 .5-.1 .4-1.9 .5-2 .4 2 .4 2.6 .5 .2 .4-.6 .4-1 .5-1.7 .4-.1 .4 3.1 .5 1.5 .4-1.7 .4-1.2 .5-.4 .4 1.3 .4 1.8 .5-1 .4-1 .5 0 .4 0 .4 .7 .5-.1 .4-.6 .4 0 .5 0 .4-.1 .4 1.5 .5 .8 .4-2 .4-2 .5-.5 .4 .4 .5 .5 .4 .4 .4-.3 .5-.7 .4 .4 .4 .7 .5-.1 .4-.3 .4 .6 .5 0 .4-1.7 .4-.8 .5-1.2 .4-1 .5 3.3 .4 2.5 .4-2.2 .5-1 .4 1.7 .4-.9 .5-3.6 .4-2.6 .4-.7 .5 1.3 .4 1.2 .4-1 .5-.3 .4 1.8 .5 1.6 .4-.4 .4-1.7 .5-1.1 .4-.5 .4-.4 .5 .4" stroke="#0000ff"/>
<path d="M202.3 617.2l.4 .6 .5 .8 .4-.9 .4 .6 .5 2.2 .4-.2 .4-1.8 .5-1.3 .4 .3 .5 1 .4 .4 .4 1.1 .5-.3 .4-2.7 .4-.4 .5 1.9 .4 .4 .4 .5 .5 1 .4-1.3 .4-2 .5 1.3 .4 1.3 .5-1.7 .4-1.6 .4 .1 .5 .7 .4-.1 .4-.5 .5-.1 .4 .3 .4-1 .5-.2 .4 1.4 .4-.1 .5-.2 .4 .4 .5 .2 .4 .5 .4 1.2 .5 1 .4-.6 .4-1.7 .5-1.1 .4 .4 .4 1.4 .5 .5 .4-2.4 .4-2.1 .5 .7 .4-.1 .5-.8 .4 1 .4 1.4 .5 .2 .4 0 .4-.2 .5-.5 .4 .6 .4 .6 .5-1.1 .4-1 .4 .8 .5 2.1 .4 .9 .4-.2 .5-.2 .4-.8 .5-.5 .4 0 .4 .4 .5-.5 .4-1 .4 .8 .5 1.5 .4-1.3 .4-2.4 .5 0 .4 .6 .4 .3 .5 .2 .4-.5 .5 .2 .4 1 .4-.1 .5-1.3 .4-.9 .4 .2 .5 1.4 .4 .7 .4-.2 .5-.9 .4-1 .4 .4 .5 1.2 .4 1.1 .5 .5 .4 .8 .4-.4 .5-2.5 .4-1.3 .4 .5 .5 1.7 .4 .5 .4-1.6 .5-1.5 .4 .2 .4 1.9 .5 1.9 .4 .4 .5-2.1 .4-1.8 .4 .2 .5 .5 .4 .6 .4 .4 .5-.8 .4-1.1 .4-.5 .5 .1 .4 0 .4 .1 .5 .6 .4 1.5 .4 0 .5-1.1 .4 .3 .5-.2 .4-1.7 .4 .6 .5 2.8 .4-.7 .4-2.9 .5 .1 .4 1.4 .4-.6 .5-.6 .4 .7 .4 1.1 .5 1.8 .4-.6 .5-2.7 .4-.6 .4-.6 .5-1.2 .4 1.1 .4 .9 .5-.2 .4 .8 .4 .4 .5 .5 .4 .4 .4-1.8 .5-.5 .4 1.1 .5 .2 .4-.4 .4-.4 .5 1.2 .4 .6 .4-2.1 .5-.3 .4 1.4 .4-.3 .5-1.3 .4-.4 .4 .7 .5 .8 .4-.8 .5-1.4 .4-.2 .4 .3 .5 .1 .4 .9 .4 1.8 .5 1.6 .4 .6 .4-.6 .5-1.8 .4-2.2 .4-.5 .5 1.5 .4 2.7 .5 .5 .4-2.2 .4-2.8 .5-.8 .4 1.5 .4-.7 .5-1.8 .4 .9 .4 .5 .5 .3 .4 1.5 .4-.4 .5-.7 .4 .8 .4 .3 .5-.4 .4 .2 .5-.4 .4-.5 .4 1.2 .5 0 .4-.5 .4 .4 .5 0 .4 .3 .4 .4 .5-.6 .4-2.1 .4-.7 .5 1 .4 .8 .5 .8 .4 .6 .4-.1 .5-1.4 .4-.8 .4 1.7 .5 .8 .4-.8 .4 .3 .5-.1 .4 .1 .4 1.4 .5-.5 .4-.5 .5-.4 .4-2.4 .4-.2 .5 1.1 .4-.9 .4-.6 .5 .7 .4 .9 .4 .2 .5-1 .4-.5 .4 1 .5 1.2 .4 .4 .5-1.1 .4-1 .4-.2 .5-.4 .4 .9 .4 .2 .5-1.2 .4 2.1 .4 .4 .5-2.1 .4 .1 .4-.2 .5-.4 .4 1.6 .4 1.1 .5-1 .4-.6 .5 1.1 .4 .2 .4-1.2 .5-.4 .4 .8 .4-.5 .5-2 .4-1.1 .4 .8 .5 .8 .4 .2 .4 1.4 .5 .4 .4-1 .5 .4 .4 .5 .4-.3 .5-1.3 .4-1 .4-.4 .5-1.1 .4 1.5 .4 1.6 .5-1.2 .4-.7 .4 .2 .5 1.3 .4 1.1 .5 .5 .4-.3 .4-.7 .5-1.2 .4-.3 .4 1.5 .5 .2 .4-1.1 .4-.9 .5-.1 .4 .8 .4 .2 .5-.4 .4-.2 .5-.3 .4-.2 .4 .5 .5 .5 .4 1 .4 .4 .5-1.4 .4-1.1 .4 .7 .5 .9 .4 .3 .4 .5 .5-.5 .4-.1 .4 .1 .5-1.7 .4 0 .5 1.2 .4-1.5 .4-.7 .5 1.8 .4 .4 .4-.9 .5 .3 .4 .5 .4 0 .5-.3 .4 .2 .4 0 .5 0 .4 0 .5-.9 .4 .3 .4 1.1 .5-.4 .4-.9 .4-.3 .5 .6 .4 .1 .4-1 .5-.1 .4 .1 .4-.5 .5 .4 .4 1.1 .5-.3 .4-1.9 .4-1 .5 .4 .4 .2 .4 0 .5 .7 .4 .4 .4 1.3 .5 2.5 .4-.2 .4-1.6 .5-.7 .4 .3 .5 .8 .4-.7 .4-1 .5-.7 .4-1 .4 1.7 .5 2.3 .4 0 .4-1.8 .5-2.1 .4 .4 .4 1.9 .5 .3 .4-.3 .4 .7 .5 0 .4-1.1 .5-.4 .4-.7 .4-.7 .5 1 .4 .7 .4 .9 .5 .3 .4-1.4 .4-.5 .5 1.1 .4-.2 .4-1.7 .5 .8 .4 .9 .5-1.1 .4-.6 .4 .2 .5 0 .4 .2 .4 0 .5-.5 .4-.4 .4 .8 .5 .2 .4-1.2 .4 .5 .5 .8 .4-.7 .5 1 .4 1.7 .4-.2 .5-1 .4-.4 .4 .3 .5 .6 .4-.7 .4-.6 .5 .8 .4-.4 .4-2 .5-.5 .4 2 .5 1.2 .4-.3 .4-.5 .5-1.5 .4-.7 .4 1.1 .5 1.2 .4-.1 .4-.5 .5-.5 .4-1.6 .4 .1 .5 2.1 .4 1 .5-.5 .4-2.4 .4-.6 .5 2.3 .4-.2 .4-2.1 .5-.4 .4-.1 .4 1.3 .5 2.7 .4 .6 .4-1.8 .5-1.2 .4 .1 .4-.2 .5-2.2 .4-1.4 .5 1.9 .4 1.9 .4 .7 .5 2.2 .4 .3 .4-3 .5-2.4 .4-.1 .4 1.4 .5 1 .4 .7 .4 .2 .5-.3 .4-.2 .5-.4 .4-1.1 .4-.7 .5 1.4 .4 1 .4-1.5 .5-1 .4 1.1 .4 1.1 .5-.6 .4-.4 .4 0 .5-.9 .4-.3 .5-.7 .4-.9 .4 .6 .5 1.1 .4 1.7 .4-.6 .5-1.6 .4 .1 .4 .2 .5 .4 .4 .4 .4 .6 .5 1.3 .4-.2 .5-1.7 .4-1.4 .4-.4 .5 1.1 .4 1.6 .4-.9 .5-1.3 .4 .3 .4-.5 .5-.2 .4-.2 .4-1.9 .5-.2 .4 2 .4 1.3 .5-.7 .4-1.3 .5 .6 .4 1.4 .4-.3 .5 0 .4 1 .4-1 .5-1.6 .4 0 .4 .7 .5 1.1 .4 1.2 .4 .8 .5-1.5 .4-2 .5 .2 .4 .5 .4-.6 .5-.5 .4-.6 .4-.6 .5 .9 .4 1.5 .4 .5 .5-1.2 .4-1.1 .4-.3 .5 .5 .4 1.1 .5 .5 .4 1.1 .4 0 .5-2.3 .4-.7 .4 1.4 .5 1.2 .4-.3 .4-.9 .5 .5 .4 .5 .4-1.4 .5-1.7 .4-.4 .5 .4 .4 0 .4-.9 .5 1.1 .4 2.8 .4 .7 .5-1.4 .4-.7 .4 .4 .5-.6 .4-.5 .4 .4 .5 .5 .4 .1 .4-.1 .5 .6 .4 .8 .5-.1 .4-2.2 .4-.6 .5 .9 .4 .4 .4 .2 .5-.3 .4 .1 .4-.7 .5-.8 .4 1.3 .4 .3 .5-1 .4 .1 .5 .5 .4-.3 .4-1.5 .5-.8 .4 .1 .4-.3 .5-.2 .4 1.4 .4 2.5 .5 1.1 .4-.1 .4-.5 .5-1.8 .4-1.8 .5 1.1 .4 1.8 .4-.1 .5-.3 .4 .7 .4-.1 .5-1.4 .4-.7 .4-.1 .5-.1 .4 .1 .4-1.2 .5-.7 .4 1.2 .5 1 .4 .1 .4 .7 .5 .2 .4-1.6 .4-.7 .5 1.1 .4 .3 .4-.9 .5-.6 .4-.4 .4-.8 .5 .2 .4 .8 .4 0 .5 0 .4 .6 .5 1.4 .4 1.4 .4-.1 .5-1.6 .4-1.2 .4 .5 .5-.6 .4-2.6 .4-.3 .5 1.4 .4 .5 .4 1.6 .5 1.1 .4-.5 .5-.8 .4-.5 .4-.3 .5-.3 .4 .9 .4 1.5 .5 .6 .4-.7 .4-1.8 .5-1.1 .4 .1 .4-.1 .5 .3 .4 .8 .5-.9 .4-.1 .4 2 .5 .6 .4-.5 .4-.5 .5 0 .4 .3 .4-.1 .5-1.2 .4-1 .4 1.7 .5 2 .4-1.4 .5-1.7 .4 2.2 .4 1.4 .5-2.5 .4-1.6 .4 .8 .5 .8 .4-.1 .4-.4 .5 0 .4 .2 .4-.1 .5-.7 .4-.4 .5 .1 .4-.3 .4 .5 .5 1.2 .4 .5 .4 .1 .5-2 .4-2.3 .4 .5 .5 1.6 .4 .8 .4 .2 .5-.4 .4-.6 .4-.8 .5-.5 .4 1.1 .5 2.2 .4 1.1 .4-.5 .5 0 .4-.4 .4-1.5 .5 .3 .4 1 .4 .3 .5-.2 .4-.5 .4-.4 .5-1.3 .4-1 .5 1.1 .4 1 .4-.5 .5-.2 .4 1.5 .4 1.1 .5-1.3 .4-1.4 .4-1.1 .5-.5 .4 1.7 .4 .8 .5-1 .4-.5 .5 .3 .4 .7 .4 .5 .5 .1 .4 .1 .4 .7 .5 .1 .4-2 .4-1.2 .5 .5 .4 1.1 .4 .7 .5 .2 .4-.3 .5-1.4 .4-1.7 .4-.9 .5 2.2 .4 1.8 .4-1.4 .5 0 .4 1.1 .4 .7 .5 .8 .4-.8 .4-2 .5 .3 .4 .7 .4-.5 .5-.4 .4 .4 .5 .4 .4 .1 .4-.1 .5-1 .4-.1 .4 1.3 .5 0 .4-.8 .4-.7 .5-.3 .4 .3 .4 .2 .5 .7 .4 1.1 .5-.5 .4-1.2 .4-1.4 .5-2.3 .4 .4 .4 2.2 .5 .8 .4 .4 .4-.5 .5-.3 .4 1.2 .4 .4 .5 .3 .4 .8 .5-.4 .4 0 .4 .4 .5-.1 .4-.6 .4-.6 .5-.2 .4-.3 .4-.3 .5 0 .4 .5 .4 0 .5-.1 .4 .5 .5-.4 .4-1.6 .4-2.6 .5 0 .4 2.2 .4 .6 .5 0 .4 1.1 .4 .9 .5-1.1 .4-.6 .4 1 .5 .6 .4 1 .4-.1 .5-.9 .4 .5 .5-1.2 .4-1.9 .4 1.8 .5 2 .4-.9 .4-1.2 .5-1.2 .4-.5 .4 1 .5 .9 .4-.5 .4-1.6 .5-.7 .4 .3 .5 .9 .4 1.2 .4-.2 .5-.4 .4-.3 .4-.4 .5 .1 .4 .3 .4 .7 .5 .4 .4 0 .4-.2 .5-1 .4 .1 .5 .8 .4-1.5 .4-.9 .5 1.2 .4 .4 .4-.6 .5-.7 .4 .6 .4 1.4 .5 0 .4 .4 .4 .2 .5-.8 .4-.6 .5 .2 .4 1.3 .4 .1 .5-.7 .4-.3 .4 .7 .5 1 .4-1.9 .4-2.6 .5 .4 .4 2.7 .4 .7 .5-1.8 .4 .1 .4 .7 .5 .9 .4-.4 .5-2.5 .4 1 .4 2 .5-.8 .4-.2 .4 0 .5-1.4 .4-.5 .4 .7 .5-.3 .4 .5 .4 .8 .5-.5 .4-1.5 .5 .2 .4 2 .4-.2 .5 .3 .4 1.1 .4-1.2 .5-.7 .4 0 .4-.5 .5-.1 .4 .8 .4 .8 .5-.7 .4-1.2 .5 .6 .4 1.3 .4 .7 .5 .8 .4-.8 .4-2.7 .5-.5 .4 1.6 .4 .2 .5 0 .4 .6 .4 .8 .5-.3 .4-.4 .5 1.2 .4-.8 .4-2.2 .5-.1 .4 .9 .4 .8 .5-1 .4-.8 .4 .7 .5-.6 .4 0 .4 .7 .5-.2 .4-.2 .5-.8 .4-1.1 .4 .2 .5 1 .4 .1 .4-.5 .5 .6 .4 1.1 .4 .2 .5 .3 .4 .6 .4-1.4 .5-.3 .4 2.1 .4-.7 .5-2.4 .4-1.3 .5-.3 .4 .5 .4 .8 .5 2.4 .4 1.3 .4-1.3 .5-.5 .4 .7 .4-.4 .5-1 .4 0 .4-.2 .5-.3 .4-.7 .5-.2 .4 1.8 .4 1.5 .5 .6 .4-.3 .4-1.6 .5-.7 .4 1.1 .4 .6 .5-1 .4-.7 .4 .4 .5-.3 .4-.1 .5 .6 .4-1.1 .4-.7 .5 1.2 .4 .5 .4-.5 .5 .6 .4 .8 .4-.3 .5 .1 .4 .1 .4-1.1 .5-.1 .4 1.4 .5-.3 .4-2 .4-.3 .5 1.1 .4 .5 .4 0 .5-1.1 .4-.6 .4 .2 .5-.4 .4 .4 .4-.4 .5-.8 .4 1.9 .4 1.9 .5-.9 .4-1.9 .5 .1 .4 .8 .4-.8 .5 1.3 .4 2.3 .4-.3 .5-2.4 .4-1.3 .4 1 .5 .2 .4 .6 .4-.1 .5-1.6 .4 .9 .5 1.5 .4-1.2 .4-1.6 .5-.1 .4 1.1 .4 .8 .5 .2 .4 .1 .4-1 .5-.8 .4-.2 .4 .9 .5 .2 .4-.4 .5 .6 .4-1 .4-1.1 .5 .6 .4 .9 .4 0 .5-.2 .4 1 .4 .6 .5-.8 .4-.8 .4-.4 .5-.2 .4 .7 .5-.1 .4 .3 .4 .8 .5-1.3 .4-1.3 .4 .2 .5 0 .4-.1 .4 .7 .5-.1 .4-.1 .4-.1 .5-1.9 .4-.6 .4 .8 .5-.1 .4 .7 .5 1 .4-.5 .4-1.3 .5-1.1 .4-.3 .4 .5 .5 .9 .4 .6 .4-1 .5-1.1 .4-.4 .4 .1 .5 .7 .4-.9 .5-1.3 .4 .3 .4 .7 .5 1.1 .4-.1 .4-.2 .5 .7 .4-.4 .4-.9 .5 .2 .4 .5 .4-1.3 .5-1.7 .4-.3 .5-.6 .4-1 .4 1.2 .5 .3 .4-2.2 .4-1.4 .5-1 .4-1.1 .4-1.6 .5-2.1 .4-2 .4-1.9 .5-.8 .4-1.5 .5-2.6 .4-2 .4-1.4 .5-1.5 .4-.7 .4 .7 .5-.9 .4-2.3 .4-.8 .5 .1 .4 .3 .4 .7 .5 1 .4 .6 .4 .8 .5 1.7 .4 1.6 .5 .6 .4 1.7 .4 3.3 .5 2 .4 1.5 .4 1.9 .5 1.5 .4 .6 .4 .2 .5 2 .4 1.3 .4-.7 .5 1.2 .4 3.4 .5 1.7 .4-1.6 .4 .1 .5 2.4 .4 1.2 .4 1.6 .5 1 .4-1.3 .4-.9 .5-.4 .4-.4 .4 1.1 .5 1.5 .4 .1 .5 .1 .4-.5 .4-.7 .5 .4 .4 0 .4-.9 .5-.5 .4 .2 .4 .8 .5 .4 .4-1 .4-.8 .5 .4 .4 0 .5-.3 .4-.3 .4-.3 .5 0 .4-.1 .4 0 .5 .3 .4 .3 .4-.4 .5-1 .4 .8 .4 1.8 .5-.1 .4-1.8 .5-2 .4-1.3 .4-.1 .5 .1 .4-.1 .4 .1 .5 1.1 .4 1.3 .4-.4 .5-.7 .4-.5 .4-.7 .5 .4 .4-.7 .4-1.7 .5 .4 .4 1.2 .5 .8 .4-1.2 .4-1.2 .5 .9 .4-1 .4-1.8 .5-.5 .4-.2 .4 .2 .5-.2 .4-2.3 .4-2 .5 0 .4 1.1 .5 1.1 .4-1.4 .4-1.8 .5 1.5 .4 1.2 .4-1.7 .5-2.5 .4-1 .4-.2 .5-.9 .4-1.1 .4-2 .5-2.4 .4-2.3 .5 .5 .4 1.8 .4-1.4 .5-3.4 .4-1.5 .4-.6 .5-.9 .4-1.9 .4-3.2 .5-1.9 .4-2.2 .4-3.7 .5-2.9 .4-2.8 .5-4.3 .4-4.9 .4-3.8 .5-4.1 .4-5.9 .4-5.8 .5-5.7 .4-6.8 .4-7.8 .5-8.3 .4-9.3 .4-10.4 .5-10.9 .4-11.1 .4-12.1 .5-13.3 .4-14.4 .5-15.2 .4-15.6 .4-16 .5-16.9 .4-17.4 .4-17.4 .5-17.1 .4-16.9 .4-16 .5-14.9 .4-13.1 .4-11 .5-8.3 .4-5.4 .5-2.6 .4 1.1 .4 4.8 .5 8.3 .4 11.3 .4 13.6 .5 15.5 .4 17.1 .4 18.3 .5 18.6 .4 18.6 .4 18 .5 17.8 .4 17.3 .5 16.1 .4 15.3 .4 14.4 .5 13.4 .4 12.7 .4 11.8 .5 10.7 .4 10 .4 9 .5 7.5 .4 7.1 .4 6.8 .5 5.9 .4 4.8 .5 4.8 .4 4.6 .4 3.9 .5 3.6 .4 3.5 .4 2.1 .5 1.4 .4 3.2 .4 3.2 .5 1.9 .4 .8 .4 .7 .5 2.2 .4 2.3 .4 1.1 .5 .8 .4 .5 .5-.3 .4-.1 .4 2.2 .5 2.9 .4 .7 .4-1.7 .5-1.2 .4 1 .4 1 .5 1 .4 2.1 .4 .6 .5 .2 .4-.2 .5-1 .4 1 .4 1.6 .5-.4 .4-1.5 .4-.1 .5 1.1 .4 .6 .4 1 .5 .9 .4-.8 .4-1.3 .5 0 .4 .5 .5-.9 .4 .1 .4 1.4 .5 .7 .4 .5 .4-.7 .5-2.2 .4-1.2 .4 .1 .5-.6 .4 .9 .4 1 .5-1.2 .4-1 .5-1 .4 .2 .4 .4 .5-1.8 .4-1 .4 .3 .5-.1 .4-.7 .4-.4 .5 .6 .4 .3 .4 .4 .5 .1 .4-2.8 .4-4.2 .5-2.1 .4-.5 .5-1.3 .4 .1 .4 1.6 .5-.3 .4-1.7 .4-2.2 .5-2.9 .4-2.6 .4-.5 .5-.8 .4-2.3 .4-1.8 .5-1.2 .4-1.2 .5-1.3 .4-2.9 .4-4 .5-2.5 .4-1.9 .4-2.8 .5-3.2 .4-4 .4-4.6 .5-3.4 .4-3.1 .4-3.1 .5-3.1 .4-5.1 .5-5.6 .4-5.1 .4-5.7 .5-6 .4-6.7 .4-7.6 .5-7.4 .4-6.9 .4-7.5 .5-8.6 .4-8.8 .4-8.7 .5-9.3 .4-9.7 .5-9.6 .4-9.8 .4-10.5 .5-10.8 .4-10.6 .4-10.5 .5-10.3 .4-10.1 .4-9.8 .5-9 .4-7.6 .4-6.5 .5-5.4 .4-4.1 .5-2.7 .4-.9 .4 .7 .5 3.3 .4 5.8 .4 7.7 .5 9.5 .4 11.6 .4 13 .5 13.4 .4 13.5 .4 13.6 .5 13.6 .4 13.3 .4 13.2 .5 12.9 .4 11.8 .5 11 .4 10.4 .4 9.8 .5 9.3 .4 8.4 .4 7.9 .5 7.8 .4 6.7 .4 6 .5 6.8 .4 6.6 .4 5.3 .5 4.5 .4 4.1 .5 3.9 .4 3.4 .4 3.3 .5 3.7 .4 2.8 .4 1.6 .5 1.5 .4 1.5 .4 2.8 .5 4 .4 2.6 .4 .8 .5 1.2 .4 2.2 .5 2.7 .4 1.1 .4-.4 .5 1 .4 .9 .4-.1 .5 2.1 .4 3.2 .4 1.9 .5 .3 .4-.6 .4-.6 .5 1.8 .4 2.6 .5-.4 .4-.3 .4 2.2 .5 2.1 .4 1.2 .4 .3 .5 .3 .4 .1 .4-2.2 .5-2.3 .4 .2 .4 1.3 .5 .7 .4-.3 .4 .8 .5 2.7 .4 2.3 .5 .8 .4-.4 .4-1.8 .5-.5 .4 .8 .4 .1 .5 1.1 .4 1.9 .4 .6 .5-.9 .4 .7 .4 2.2 .5 .2 .4-.8 .5-1.3 .4-.6 .4 .7 .5 2.1 .4 1.7 .4-1.3 .5-.9 .4 .6 .4-.7 .5-.5 .4 .6 .4 .3 .5-.5 .4-1.2 .5-.9 .4 1.2 .4 2.1 .5 .5 .4-1 .4 .9 .5 2.3 .4-1.2 .4-2.5 .5 .7 .4 1.1 .4 .3 .5 .7 .4 0 .5-.6 .4-.7 .4 0 .5 .6 .4-.3 .4-.6 .5-.2 .4 1.2 .4 1.4 .5-.9 .4-.5 .4 0 .5-.4 .4 .6 .4-.9 .5-1.4 .4-.5 .5 .4 .4 2 .4 1.6 .5-.1 .4-.8 .4-.7 .5-.1 .4 .2 .4-.5 .5-.1 .4-.2 .4-.6 .5 .2 .4-.8 .5-.8 .4 .8 .4 2.4 .5 1.6 .4-1.9 .4-.8 .5 1 .4 .3 .4 .5 .5-.4 .4-.6 .4-1.1 .5-.2 .4 1.8 .5 1.4 .4-1.3 .4-2.3 .5 .6 .4 1.7 .4 .4 .5-.2 .4 0 .4-1.1 .5-.8 .4 1.1 .4 2 .5-.2 .4-2.5 .5 .5 .4 1.6 .4 .2 .5 .7 .4-.1 .4-.6 .5-.3 .4-1.3 .4-.5 .5 .7 .4 .6 .4-.3 .5 0 .4 1.1 .4 .3 .5 .4 .4-.5 .5-.5 .4 .1 .4-.6 .5 .3 .4 .2 .4-.6 .5-1.1 .4-.3 .4 1.3 .5 1 .4-.1 .4-.4 .5 .7 .4 .4 .5-.4 .4-.2 .4-1.5 .5-1 .4 1.3 .4 1.4 .5 .8 .4 .2 .4-.1 .5 .5 .4-.3 .4-1.2 .5-1.9 .4-.9 .5 .5 .4 0 .4 .3 .5 .3 .4 .2 .4 .9 .5 .7 .4 .8 .4 .9 .5 .4 .4-.2 .4-1 .5-.7 .4 .8 .5 .2 .4-1.3 .4-.7 .5-.5 .4-1.1 .4-1 .5 1.2 .4 2.5 .4 .1 .5-.5 .4 .1 .4-.2 .5-.2 .4-.3 .5 .7 .4 .5 .4-.5 .5-.6 .4-.2 .4 .3 .5 .9 .4 .2 .4 .2 .5 .1 .4-1.5 .4-1.3 .5 1 .4 1.1 .4-.5 .5 .4 .4-.3 .5-2.3 .4-.5 .4 2.9 .5 1.3 .4-.6 .4-.6 .5-1.6 .4 0 .4 1.4 .5 .7 .4-.9 .4 .3 .5 2.1 .4 .3 .5-1.2 .4-2.4 .4-1.8 .5 1.3 .4 1 .4-.4 .5-.2 .4-.4 .4-.7 .5 .2 .4 1.5 .4 .8 .5 .4 .4 1.1 .5 0 .4-1.5 .4-.7 .5-.7 .4-.8 .4 1.4 .5 .6 .4-.6 .4 .7 .5-.5 .4-1.4 .4 1.3 .5 2.6 .4 1.6 .5-1.4 .4-2 .4-.1 .5-.7 .4-.1 .4 .8 .5-.6 .4-.5 .4 .4 .5-.7 .4-1.3 .4 .5 .5 1 .4 .5 .4 .4 .5-2.2 .4-1.4 .5 1.7 .4 .9 .4 .4 .5-.3 .4-.9 .4 .8 .5 .5 .4 .8 .4 1.1 .5-1.7 .4-2 .4 .7 .5 1.4 .4 .2 .5 .2 .4 .2 .4-.7 .5-1.2 .4 .7 .4 1.6 .5-1.4 .4-2.5 .4 .6 .5 1.6 .4-1 .4-1.6 .5 .2 .4 .5 .5 .7 .4 .7 .4-.5 .5 .1 .4 1 .4-.1 .5-2 .4-1.7 .4 0 .5 .7 .4 .4 .4-.2 .5-.8 .4-.5 .5-.1 .4 0 .4-.1 .5 0 .4 .5 .4 0 .5-.8 .4 1.4 .4 2.9 .5 0 .4-1.3 .4 .1 .5 1.3 .4 2.5 .4-.1 .5-2.7 .4-1.9 .5-.7 .4 1.8 .4 1.6 .5-.9 .4-.7 .4 1.5 .5 .6 .4-.4 .4 .5 .5 .1 .4 .9 .4 1.3 .5-1 .4-2.3 .5-.1 .4 .3 .4-1.8 .5-.9 .4 2.2 .4 1.7 .5 .2 .4 .7 .4-.9 .5-1.6 .4 .5 .4 0 .5-1.6 .4-.4 .5 .5 .4-.1 .4 1.1 .5 1.8 .4-.4 .4-1.4 .5 .9 .4 .7 .4-.9 .5 .2 .4 .6 .4-.6 .5-.7 .4-1.1 .5 .4 .4 2.3 .4 0 .5-.9 .4 .3 .4-.9 .5-.8 .4 0 .4-.2 .5-.5 .4-1.1 .4-.7 .5 .6 .4 1 .4-.5 .5-.1 .4 .4 .5-1.2 .4 .5 .4 1.2 .5-.3 .4 1.4 .4 1.4 .5-.7 .4-.8 .4-.1 .5-.9 .4-1.3 .4-1.2 .5-1.1 .4-.4 .5 .4 .4 .5 .4-.3 .5-.6 .4-.4 .4 .7 .5 .5 .4-1.5 .4-.8 .5-1.1 .4-1.5 .4 .4 .5 .9 .4-.9 .5-2.1 .4-.7 .4-.5 .5-.7 .4 .3 .4 0 .5-2 .4-2.1 .4-.6 .5 .2 .4 .1 .4-2.2 .5-3.7 .4-1.8 .5-.1 .4-.9 .4-1.8 .5-2.7 .4-3 .4-1.6 .5-1.8 .4-2.6 .4-2.2 .5-3.1 .4-3.8 .4-3.3 .5-3.2 .4-4 .5-3.7 .4-2.9 .4-2.5 .5-2.5 .4-3 .4-2.4 .5-1 .4-.5 .4 0 .5 .6 .4 1 .4 2.3 .5 2.4 .4 1.9 .4 3.1 .5 3.9 .4 3.4 .5 3.4 .4 3.4 .4 2.3 .5 1.8 .4 3.1 .4 4 .5 3.2 .4 2.6 .4 2.5 .5 1.8 .4 .9 .4 1.7 .5 1.2 .4 1 .5 2 .4 2.1 .4 1.8 .5 .6 .4 .7 .4 1.5 .5 1.7 .4 1.5 .4 0 .5-1.3 .4-.3 .4 1.9 .5 2 .4 .5 .5-.2 .4-.4 .4-.5 .5 1.3 .4 1.7 .4 .4 .5 .7 .4 1.1 .4 .4 .5-1.1 .4-1.6 .4 1.1 .5 2.4 .4 .8 .5-.5 .4-1.5 .4-.7 .5 1.2 .4 1.7 .4-.3 .5-.3 .4 .4 .4-1 .5 .5 .4 1.3 .4-.3 .5-.1 .4-.2 .4-.9 .5 .5 .4 1 .5-1.1 .4-.9 .4 1.4 .5 .9 .4-.5 .4-1.2 .5-1.3 .4 1.1 .4 .9 .5-.6 .4 1.2 .4 .4 .5-1.7 .4-.3 .5 1.4 .4 .5 .4-1.3 .5-.4 .4 1.3 .4 .6 .5 .3 .4 1.3 .4 .2 .5-1.1 .4 0 .4 1.4 .5 .3 .4-1.4 .5-.3 .4-.2 .4-1.3 .5-.4 .4 1.1 .4 1.3 .5 0 .4 .1 .4 .1 .5-.1 .4 .6 .4-.5 .5-1.5 .4-.7 .5 1.4 .4 1.4 .4-1.9 .5-2.5 .4 .5 .4 2.2 .5 1.2 .4 1 .4 .1 .5-1.4 .4 .8 .4 1.4 .5-1.2 .4-1.6 .4-.2 .5 1.3 .4 1.3 .5-.5 .4-1.5 .4 1 .5 1.2 .4-1.6 .4-1.1 .5 .9 .4 .1 .4-.9 .5 .9 .4 1.3 .4-.6 .5 .5 .4 1.2 .5-1.8 .4-.9 .4 1.9 .5-.1 .4-.9 .4-.2 .5 .1 .4-.3 .4-2 .5-.8 .4 1.9 .4 2.1 .5 0 .4-1.4 .5-.3 .4 .4 .4-.2 .5-.4 .4 .6 .4 .6 .5-2.3 .4-1.4 .4 2.9 .5 1.9 .4-.1 .4-.2 .5-1.1 .4-1.1 .5 .3 .4 1 .4-.2 .5-1.5 .4-.5 .4-.1 .5-.3 .4 2.2 .4 1.4 .5-1.5 .4-.2 .4 .2 .5-.5 .4-.1 .4 .2 .5-.1 .4-.3 .5 0 .4 .2 .4-.4 .5-1.2 .4-.2 .4 1.4 .5 1.5 .4-.8 .4-1.8 .5 .4 .4 1.5 .4-.1 .5-2.2 .4-1.3 .5-.4 .4-.8 .4-.4 .5-.8 .4 .3 .4 .9 .5-1.8 .4-2.3 .4-.6 .5-.1 .4-.7 .4-.6 .5-.5 .4-.7 .5-.1 .4-.8 .4-.5 .5 .4 .4-.9 .4-1.7 .5-.6 .4 .5 .4-.8 .5-1.1 .4-.2 .4-.7 .5-.7 .4 0 .5 .4 .4 0 .4 .2 .5 .7 .4-.1 .4 1.2 .5 2.7 .4 .9 .4 .4 .5 1.3 .4-.6 .4-.5 .5 2.8 .4 3.5 .5 0 .4-2.6 .4-.5 .5 2.2 .4 .9 .4 .3 .5 0 .4 0 .4 1.7 .5 1.2 .4-.8 .4-.2 .5 2 .4 .2 .4-.9 .5 1.2 .4-.4 .5-1.5 .4 .9 .4 1.2 .5 .4 .4 1.5 .4 .7 .5-.3 .4 .3 .4 .4 .5 .3 .4 .5 .4 .1 .5-.8 .4-.3 .5 0 .4-.3 .4 .4 .5 .9 .4 .2 .4 .2 .5 .2 .4-.9 .4-1.3 .5 .3 .4 1.6 .4 1.1 .5 .8 .4 .6 .5-.8 .4-1 .4-.5 .5 .1 .4-.3 .4-.6 .5 .3 .4-.1 .4-.7 .5 1.7 .4 2.8 .4-1.9 .5-3.2 .4 0 .5 1.2 .4 .7 .4 .1 .5 1.2 .4 1.3 .4-1.5 .5-2.3 .4-.6 .4 .2 .5 .4 .4 .6 .4 .6 .5 1 .4-.7 .4-1.6 .5-.7 .4-.7 .5 .9 .4 .5 .4-.2 .5 1.6 .4 .6 .4-.8 .5 .4 .4 .1 .4-1 .5-1.1 .4-.2 .4 .4 .5 .3 .4 0 .5-.4 .4 .2 .4 .4 .5 .8 .4 .4 .4-1.9 .5-2 .4 .5 .4 1.5 .5 .3 .4 .4 .4 .9 .5 .9 .4-.4 .5-.8 .4 .3 .4-.7 .5-.4 .4 2 .4 1 .5-2.1 .4-1.7 .4 .7 .5-.5 .4-1.5 .4 1.5 .5 2.9 .4 .3 .5-1.3 .4-.4 .4 0 .5-.4 .4-.9 .4-.6 .5 .2 .4-.2 .4 .5 .5 1.8 .4 .5 .4-.6 .5 .7 .4 .6 .4-.3 .5 .1 .4-.9 .5-1.7 .4 0 .4 0 .5-1.2 .4-1.5 .4 .8 .5 1.8 .4-.5 .4 .4 .5 .8 .4-.6 .4 .1 .5 1.3 .4 .1 .5-1.5 .4 1.1 .4 .5 .5-2.1 .4-.3 .4 .5 .5 .8 .4 .2 .4-1.5 .5-.5 .4-.1 .4 .3 .5 1.5 .4 .9 .5-.4 .4-1.1 .4 .5 .5 0 .4-1.9 .4 .2 .5 .1 .4-1.3 .4-.3 .5 .6 .4 1.4 .4 .4 .5-.5 .4-.3 .5-.5 .4 .1 .4-.4 .5-.8 .4 .5 .4 .6 .5-1.3 .4-1.3 .4-.5 .5-.2 .4 .2 .4-.2 .5-.5 .4-.3 .4-.5 .5-.2 .4 .9 .5 .8 .4-1.2 .4-1.7 .5-1.3 .4-.8 .4 .8 .5 .3 .4-2.1 .4-1.9 .5 .4 .4 .5 .4-1.1 .5-1.5 .4-.6 .5-.1 .4-.4 .4-.8 .5-1.2 .4-2.2 .4-1.9 .5-1.3 .4-1.7 .4-1.1 .5-1 .4-.4 .4-.6 .5-2.3 .4-1.7 .5-.3 .4-.6 .4-.9 .5-.3 .4 .1 .4 .5 .5 .5 .4 .1 .4 .8 .5 1 .4 .7 .4 1.5 .5 2.7 .4 2 .5-.2 .4 1.1 .4 1.9 .5 .7 .4 1 .4 .6 .5 .8 .4 .8 .4 1.2 .5 2.7 .4 0 .4-1.1 .5 2.1 .4 2.2 .5 1.2 .4 .7 .4 1.1 .5 .3 .4-1.1 .4 .5 .5 .6 .4-.6 .4 .3 .5 .8 .4 1.5 .4 2.3 .5 .2 .4-.4 .4 .3 .5-.3 .4-.3 .5 0 .4 .2 .4 .2 .5-.3 .4 1.2 .4 2.2 .5-.8 .4-1.7 .4 1 .5 .9 .4 .3 .4 .4 .5-1 .4-.9 .5-.4 .4-1.4 .4-1 .5 1.6 .4 1.7 .4 .2 .5-.3 .4-.4 .4 .2 .5 2.1 .4 1.2 .4-1.4 .5-1.3 .4-.1 .5 .5 .4 .8 .4 1.6 .5 .8 .4-1.3 .4-1.6 .5-.2 .4 .2 .4-.2 .5 .3 .4 .2 .4-1 .5-2.2 .4-.5 .5 1.8 .4 .7 .4 .9 .5 1 .4-1.8 .4-1.8 .5 1.1 .4 1.6 .4 .3 .5 .5 .4-.5 .4-1.1 .5 1.3 .4 1.2 .4-2.7 .5-1.8 .4 .9 .5 .9 .4 .1 .4-1.3 .5-.4 .4 .7 .4-.6 .5-1.8 .4-.5 .4 .8 .5 1 .4 2 .4-.1 .5-2.6 .4-.2 .5 2.3 .4 .5 .4-2.1 .5-.6 .4 .6 .4 .1 .5 .4 .4-.9 .4-2 .5-.5 .4 .1 .4 .3 .5 .1 .4-.9 .5-1.4 .4-.5 .4 .1 .5-1.2 .4-1.2 .4 1.1 .5 1.5 .4-.2 .4-.8 .5-.1 .4-1.1 .4-1.9 .5-1.9 .4-1.1 .5 .6 .4 .3 .4-2.3 .5-3.5 .4-1.1 .4 .3 .5-1.4 .4-1.2 .4-1.9 .5-4.1 .4-1.3 .4 .5 .5-2.5 .4-3.1 .4-1.7 .5-2 .4-2.1 .5-1.4 .4-1.8 .4-1.9 .5-1.2 .4-.7 .4-.6 .5-.6 .4-.2 .4 .3 .5 1.1 .4 1 .4 .9 .5 1.7 .4 2 .5 1.5 .4 1.2 .4 1.4 .5 2.2 .4 2.6 .4 1.3 .5 .9 .4 1.8 .4 2.3 .5 .8 .4 .7 .4 3.3 .5 2.7 .4 .3 .5 .4 .4 1.6 .4 .9 .5 .4 .4 1.5 .4 .9 .5-.1 .4 .2 .4 .5 .5 1.2 .4 1.9 .4 1.4 .5 0 .4-.4 .5 .3 .4 1.6 .4 3.2 .5 1.1 .4-2.8 .4-2.5 .5 .9 .4 2.2 .4 .5 .5 .3 .4 1.1 .4-.8 .5-1 .4 1.3 .4 2.1 .5-.1 .4-1.4 .5-1.1 .4-.1 .4 2.4 .5 1.7 .4-.3 .4 .1 .5 0 .4-.6 .4-.6 .5-.5 .4 .3 .4 1.4 .5 .6 .4-.5 .5-.2 .4 1.1 .4-.2 .5-1 .4 .7 .4-.5 .5-1.4 .4 .1 .4 1 .5 1.3 .4-.4 .4-1.6 .5-.8 .4-.2 .5 .4 .4 .7 .4 .8 .5-.6 .4-.9 .4 1.2 .5-.4 .4-.7 .4 .9 .5-.5 .4-1.4 .4-.5 .5-.3 .4 1 .5 1.6 .4 .7 .4 .1 .5 .5 .4 1.1 .4-.7 .5 0 .4 1.1 .4-1.9 .5-1.5 .4 .3 .4-.1 .5 .6 .4 .6 .5 .2 .4-.4 .4-1.4 .5-.9 .4 0 .4 .7 .5 0 .4-.8 .4 1.4 .5 .8 .4-1 .4 .3 .5 .1 .4-.7 .4 .6 .5 .5 .4 .2 .5 .8 .4-.5 .4-2.4 .5-1.2 .4 .6 .4-.4 .5-.2 .4 1.4 .4 .9 .5 .2 .4 .1 .4-.2 .5-.3 .4-.2 .5-.6 .4-.6 .4-1 .5-.8 .4 1.4 .4 1.7 .5-.8 .4-.8 .4 1.1 .5 .6 .4 .4 .4 0 .5-2.5 .4-2 .5-.1 .4 .9 .4 0 .5-1.3 .4-.6 .4 .7 .5 1.1 .4-1.4 .4-1.6 .5 1.2 .4 .2 .4-2.6 .5-2.4 .4 1 .5 1 .4-.5 .4 .2 .5-.8 .4-1 .4 0 .5 .1 .4 .4 .4-.5 .5-1.2 .4-.4 .4-.1 .5-.5 .4-1 .4-1.5 .5-.4 .4 .2 .5-.4 .4-.9 .4-1.5 .5-1.9 .4-1.5 .4-.6 .5 .4 .4 0 .4-1.4 .5-1.3 .4-.4 .4 .7 .5-.4 .4-2.4 .5-1.3 .4-.4 .4-.5 .5-.8 .4-.8 .4-.4 .5-1.2 .4-2.1 .4-1.1 .5-.3 .4-1 .4-.8 .5 .1 .4 0 .5-.1 .4-.2 .4 .4 .5 .8 .4-.4 .4-2 .5-2.1 .4-.2 .4 1.4 .5 .4 .4-1.7 .4-2.5 .5-.9 .4 .8 .5-.2 .4-.8 .4-.7 .5-1.8 .4-2.1 .4-1.5 .5-1.3 .4-.6 .4-.4 .5-1 .4-.5 .4 .1 .5 .3 .4-.3 .4-.2 .5 1.1 .4 1.4 .5 1 .4 1.1 .4 .6 .5 .5 .4 .9 .4 1.6 .5 2 .4 1.9 .4 2.4 .5 1.7 .4 .2 .4 .2 .5 1.6 .4 2.1 .5 .3 .4 .9 .4 3.7 .5 3.2 .4 1.1 .4 .9 .5 1.1 .4 1.1 .4 .1 .5 0 .4 .7 .4 .4 .5 1.8 .4 2.7 .5-.9 .4-2.4 .4 .8 .5 1.4 .4-.6 .4 .1 .5 1 .4-.3 .4 .6 .5 1.6 .4 .8 .4-.6 .5-.3 .4 .9 .5 .2 .4 .1 .4 .5 .5-1 .4-1.2 .4 0 .5-1.3 .4-2 .4-1.1 .5-.8 .4-.3 .4-.5 .5-.9 .4-.4 .4-.4 .5-1.6 .4-1 .5 .6 .4-1.7 .4-3.9 .5-2.3 .4-1.3 .4-2.9 .5-3.4 .4-2.2 .4-1.8 .5-.3 .4 .5 .4-1.5 .5-2.9 .4-2.3 .5-1.1 .4 .1 .4 .3 .5-.5 .4-.3 .4 .2 .5 0 .4-.5 .4-.1 .5 .7 .4-.3 .4 1.2 .5 2.4 .4 1.7 .5 2.3 .4 1.5 .4 1.9 .5 2.2 .4 1 .4 .9 .5 1.8 .4 2.5 .4 2.8 .5 1.9 .4 .7 .4 2 .5 3.2 .4 2.4 .5 1.5 .4 1.3 .4 1.9 .5 .8 .4 .3 .4 2.7 .5 3.1 .4 .6 .4-.5 .5-.1 .4 .7 .4 .9 .5 .1 .4-.5 .5 0 .4 1 .4 .7 .5-.2 .4 .9 .4 .7 .5 .3 .4 1.5 .4 .8 .5 .4 .4 1.2 .4 .5 .5-.3 .4-.5 .4-.7 .5-.4 .4 .7 .5 1.9 .4 1 .4 .2 .5-.9 .4-1.4 .4 .5 .5 .1 .4-.4 .4 1.4 .5 1.9 .4 1.5 .4 0 .5-3.2 .4-2.4 .5 1.7 .4 .9 .4-1.2 .5 .7 .4 1.2 .4 .3 .5 .9 .4-.5 .4-1.1 .5 .3 .4 .7 .4-.3 .5-.8 .4-.2 .5-.2 .4 .7 .4 2 .5 .7 .4-1.3 .4-.1 .5 .2 .4-.9 .4-.2 .5 .7 .4 .6 .4 .5 .5 .7 .4 .6 .5 0 .4-1 .4-1.3 .5-.2 .4 .6 .4 0 .5 .6 .4 2 .4-.5 .5-2.7 .4-.6 .4-.1 .5-1.5 .4-.6 .4 1.1 .5 .9 .4-.9 .5-.4 .4 2 .4 2.8 .5 .5 .4-1.9 .4-1.6 .5 .2 .4 .6 .4-.1 .5 .6 .4 .3 .4-.3 .5-.1 .4-.9 .5-.5 .4 1.4 .4 3 .5 1.1 .4-2.3 .4-1.1 .5 1 .4 .6 .4 .2 .5-.2 .4-.6 .4-1 .5-1.3 .4 0 .5 .5 .4-.9 .4-.1 .5 1.9 .4 1 .4 .1 .5 .6 .4-1.2 .4-1.7 .5 1.4 .4 1 .4-1.3 .5-1 .4-.8 .5-.3 .4 1.4 .4 1.2 .5-.8 .4-1.4 .4 .3 .5 .6 .4 0 .4 .1 .5-1.4 .4-2.4 .4 .7 .5 1.5 .4-.9 .4 .3 .5 1.8 .4 1.6 .5-.2 .4-2.4 .4-2.2 .5 .1 .4 1.4 .4 1.1 .5 1.6 .4 .9 .4-.7 .5-1.6 .4-1.2 .4-1.2 .5-1.4 .4 1 .5 1.5 .4-.5 .4-.8 .5 .6 .4 1.7 .4 .3 .5-2.3 .4-2 .4 .2 .5-.9 .4-1.5 .4 1.2 .5 1.2 .4-.5 .5-2.4 .4-2.7 .4 .7 .5 2.1 .4-1.2 .4-2.6 .5 .3 .4 .7 .4-.9 .5-.6 .4-.4 .4-1.9 .5-1.4 .4 0 .5-.1 .4-.5 .4-.2 .5 .3 .4 .2 .4 .1 .5-.1 .4-.1 .4 .3 .5 .5 .4 1.2 .4 .6 .5 .2 .4 1.5 .4 1.1 .5 .5 .4 .5 .5 .8 .4 1.4 .4 .7 .5-.5 .4-.7 .4 .3 .5 1.6 .4 1.4 .4 .3 .5 .5 .4 .6 .4-1.2 .5-.4 .4 .3 .5-.7 .4 .8 .4 1.4 .5 0 .4-.3 .4 .7 .5 1.3 .4 .6 .4 .1 .5 .7 .4 .3 .4-.6 .5-.3 .4-.7 .5-1.3 .4 .4 .4 1.8 .5 1.1 .4-.5 .4-.5 .5 .5 .4 .4 .4-.5 .5 .4 .4 .8 .4-1.5 .5-1.6 .4 .5 .5 .3 .4-.3 .4 1.3 .5 1.6 .4 .2 .4-1.1 .5-1.7 .4-1 .4 .9 .5 1 .4-.5 .4-.9 .5-.3 .4 1.3 .5 1.9 .4 1.1 .4 .4 .5-.6 .4-.2 .4-.5 .5-1.1 .4 0 .4-.4 .5-.8 .4 .5 .4 .5 .5 .3 .4 .9 .4-.7 .5-1.1 .4-.3 .5-2.2 .4-1.5 .4 1.6 .5 2.4 .4 1.6 .4-1.9 .5-3 .4-.1 .4 1 .5-.2 .4-1.5 .4-.3 .5 1.4 .4-.7 .5-1.1 .4 .3 .4-.1 .5-1 .4-2.1 .4-1.7 .5 1.3 .4 1.8 .4-.3 .5-2.2 .4-2 .4-.1 .5 .4 .4-.1 .5-.7 .4-1.3 .4-.5 .5-.9 .4-2.4 .4-1.5 .5-.4 .4-1 .4-2.4 .5-1.5 .4 .6 .4-.4 .5-1.6 .4-1.2 .5-.5 .4-.7 .4-.6 .5 0 .4 .3 .4 .4 .5 .3 .4 .2 .4 .5 .5 .8 .4 1.8 .4 1.3 .5 .2 .4 .9 .4 1.3 .5 .7 .4 .9 .5 1.7 .4 1.6 .4 .6 .5 .2 .4 1 .4 2 .5 1.3 .4 1 .4 .3 .5-1.1 .4 .1 .4 .8 .5-.2 .4 1.1 .5 1.9 .4 .6 .4 .2 .5 .4 .4 .6 .4 0 .5-1.8 .4-.9 .4 1 .5 .8 .4 .5 .4 .5 .5 .2 .4-1 .5-1.3 .4 .5 .4 .3 .5-.1 .4 1.3 .4 1.2 .5 .6 .4 1.1 .4 .5 .5-.3 .4-.3 .4-.5 .5 .2 .4 .1 .5-.6 .4 .3 .4 .8 .5 .5 .4-.5 .4-.4 .5 .2 .4 .6 .4 .9 .5-.5 .4 .8 .4 1.2 .5-2 .4-.7 .4 .4 .5-.7 .4 .1 .5 .5 .4 .6 .4 .1 .5-.4 .4 1.4 .4 1.6 .5-.7 .4-.8 .4 .7 .5 1.2 .4-.9 .4-2 .5 1.2 .4 1.5 .5-2 .4-1.3 .4 1.5 .5 .1 .4-2.1 .4-.1 .5 2.3 .4 1.2 .4-.1 .5-.5 .4-.2 .4-.3 .5-.1 .4 .8 .5 0 .4-.3 .4 .3 .5 .3 .4 .7 .4-.3 .5-.6 .4 1.3 .4 .2 .5-1.9 .4-.8 .4-.2 .5-.3 .4 1.3 .5 .5 .4 0 .4 1 .5-.6 .4-.2 .4 .9 .5 .7 .4-1.6 .4-2.6 .5 1.5 .4 3 .4 2.1 .5 .4 .4-3.1 .4-1.2 .5 1.7 .4-.5 .5-1.1 .4 .8 .4 .3 .5 .7 .4 1.2 .4 .9 .5 .9 .4-.5 .4-2.4 .5-1.3 .4 .4 .4 .4 .5 .7 .4 .1 .5-.9 .4-.5 .4 .4 .5-.3 .4-.8 .4 1.1 .5 1.3 .4-.3 .4-.7 .5 0 .4 .6 .4 0 .5-.7 .4-.2 .5 .7 .4-.2 .4-1.4 .5-.5 .4 .8 .4 1.3 .5 .5 .4 .6 .4-.1 .5-1.8 .4 0 .4 1 .5-.7 .4-.1 .5 1 .4 0 .4-1.4 .5-1.2 .4-.1 .4 0 .5 .3 .4-.5 .4-1 .5 .3 .4 .1 .4-.7 .5 1.2 .4 2.1 .5-.2 .4-1.9 .4-1 .5-.4 .4 .9 .4 1.5 .5-2 .4-2.9 .4 0 .5 1.5 .4 .8 .4 .2 .5 .4 .4-.1 .4 .9 .5 2.4 .4 .9 .5-1.1 .4-1.8 .4-.8 .5 .3 .4-.6 .4 .8 .5 .6 .4-1.1 .4 .5 .5 .3 .4-1 .4-.8 .5-.6 .4-.1 .5 0 .4 .2 .4 .3 .5 .1 .4 1.2 .4 .1 .5-2.4 .4-.7 .4 1.8 .5 .6 .4-.5 .4-.4 .5 .5 .4 .9 .5-.4 .4-.1 .4 .6 .5 .2 .4-.5 .4-.4 .5 .8 .4 0 .4-1.3 .5 .1 .4 .4 .4-.4 .5 .9 .4 1.4 .5-.5 .4-1.3 .4-.6 .5-.4 .4 .1 .4 1.1 .5 1.1 .4 .1 .4-.6 .5-.3 .4 .3 .4-.9 .5-1.2 .4 .9 .4 .9 .5-.4 .4-.5 .5 .5 .4-.1 .4-1 .5 .6 .4 .6 .4 .4 .5-.2 .4-1.8 .4-1 .5-1.8 .4-2.6 .4-.1 .5 1.6 .4 .9 .5 .1 .4-.4 .4-.3 .5-.1 .4-.1 .4-.1 .5 .2 .4 .4 .4 .1 .5-.2 .4 .9 .4 .6 .5-.8 .4 0 .5 .3 .4 .1 .4-.7 .5-.1 .4 2.4 .4 1.7 .5-.2 .4 .3 .4 .5 .5 0 .4 .3 .4 1.5 .5 1.6 .4-.3 .5-1.2 .4-.9 .4-2 .5-2.6 .4-1.1 .4 1.7 .5 2.6 .4 1.2 .4-.4 .5-1 .4 .7 .4 1.3 .5-1 .4-.7 .4 .6 .5 0 .4 .5 .5 1 .4-.3 .4-1 .5 .2 .4 0 .4-1.5 .5 .9 .4 1.8 .4 .5 .5-.5 .4-1.9 .4 .2 .5 1 .4-2.3 .5-1.4 .4 1 .4-.7 .5-1.3 .4 .3 .4 1 .5 1.4 .4 .3 .4-1.6 .5-1.6 .4-.1 .4 1.1 .5 1.3 .4-.6 .5-2 .4-1.4 .4-.1 .5-.6 .4-1.4 .4 .5 .5 0 .4-1.6 .4 .3 .5 .8 .4-.7 .4-.7 .5-.7 .4-.5 .5-.2 .4-1.2 .4 .1 .5 1.4 .4-.1 .4-.8 .5 .2 .4 0 .4-.4 .5-.5 .4-.3 .4 0 .5-.2 .4-.5 .4-.6 .5 .1 .4-.5 .5-.5 .4 1.4 .4-.5 .5-.9 .4 .5 .4 1.4 .5 .8 .4-1.6 .4-.9 .5 .3 .4 1.4 .4 1.9 .5 0 .4-.9 .5-1 .4-1.2 .4 .9 .5 2.1 .4-.1 .4-.6 .5 .5 .4-.2 .4-2 .5-1.1 .4-.2 .4-.4 .5 .8 .4 .4 .5 .6 .4 .8 .4-.7 .5-.4 .4 .5 .4 0 .5 .3 .4 .6 .4-.6 .5-1.4 .4-.5 .4 .3 .5 .7 .4 .7 .5 .3 .4-.1 .4-.1 .5 .3 .4 .2 .4 .5 .5 .9 .4 .1 .4-.1 .5-1.6 .4-1.5 .4 1.5 .5 1.4 .4 .3 .5 .1 .4 0 .4 1.8 .5 1.4 .4-1.6 .4-1.3 .5 1.5 .4 2.8 .4-.1 .5-1.5 .4 .6 .4 1.2 .5 .6 .4 .3 .4-.3 .5-.7 .4 .7 .5 .8 .4 .4 .4 .8 .5 .2 .4 .2 .4-.2 .5-.6 .4-.2 .4 .5 .5 1.2 .4-.1 .4-.5 .5 .9 .4 .9 .5 .2 .4-.7 .4-.3 .5 .5 .4-.1 .4-.1 .5 .7 .4 .6 .4-.2 .5-1.4 .4-.5 .4 2.6 .5 2.4 .4-1.6 .5-3.5 .4-1.4 .4 1.2 .5 3 .4 1.5 .4-1 .5 .4 .4-.3 .4-1.4 .5-.1 .4-.7 .4-.6 .5 .5 .4 .2 .5 .6 .4 .7 .4 .9 .5 1.2 .4-.6 .4-2 .5-.6 .4-.4 .4-1.5 .5 1.1 .4 2.5 .4 .6 .5-1.2 .4-1.7 .4-1.6 .5 1 .4 4.1 .5 1 .4-1.5 .4 0 .5-.6 .4-1.6 .4 .4 .5 1.8 .4 .2 .4 .2 .5 .8 .4 0 .4-1.4 .5-1.7 .4 .1 .5 1.4 .4-.2 .4-1.3 .5 .4 .4-.1 .4-1.4 .5 .1 .4 .8 .4 .6 .5-.8 .4-1.3 .4 1.2 .5 .1 .4-2.1 .5 .2 .4 2.2 .4 1 .5-.3 .4 .2 .4 .3 .5 .3 .4 .2 .4-.1 .5-.6 .4-1 .4-.3 .5-.5 .4-.8 .5 .6 .4 .4 .4 0 .5-.5 .4 0 .4 1.7 .5 .4 .4-.4 .4-.3 .5-.5 .4 .6 .4 .5 .5-1.4 .4-1.4 .4 0 .5 .1 .4-.3 .5-.3 .4 .2 .4 1.3 .5 1.5 .4 .1 .4-1.2 .5-.4 .4 .6 .4 .6 .5 .4 .4-.3 .4-1.2 .5-1.3 .4 .1 .5 1.7 .4 .8 .4-1 .5-.8 .4 .3 .4 .3 .5-.4 .4-.7 .4-.6 .5-.2 .4 .8 .4 .3 .5-.8 .4 .3 .5 1.6 .4 1.1 .4-.1 .5 .2 .4-1.2 .4-1.8 .5-1 .4-.2 .4 2.3 .5 1.6 .4-.2 .4-.4 .5 .1 .4 .6 .5-.4 .4-1.5 .4-.9 .5-.4 .4-.3 .4 .7 .5 0 .4-1.3 .4-.1 .5 1.4 .4 .8 .4-1.1 .5 .1 .4 2.1 .4 .3 .5-.1 .4-1.3 .5-2.1 .4 .5 .4 .8 .5 .1 .4 .4 .4 0 .5 0 .4 .7 .4 1.1 .5-.3 .4-1.1 .4-.3 .5 .5 .4 1.5 .5 .4 .4-1.5 .4-.1 .5 .4 .4-1.3 .4 .6 .5 1.4 .4-.1 .4 .5 .5-.3 .4-2.2 .4-.1 .5 1.2 .4 .8 .5 1.3 .4 .7 .4-2 .5-3.2 .4-.1 .4 2.3 .5 .4 .4-2.3 .4-1.3 .5 1.7 .4 1.3 .4-.5 .5 .4 .4 .7 .5-1 .4-.4 .4 .5 .5-.5 .4-.5 .4 1.6 .5 1.7 .4-.4 .4-.3 .5 1.1 .4 .5 .4 .1 .5-1 .4-2.7 .5-.4 .4 1.3 .4-1 .5-1.5 .4 .8 .4 1.3 .5 .2 .4-.4 .4-1.5 .5-.8 .4 .9 .4 .9 .5 1.2 .4-.8 .4-2.5 .5 .3 .4 1.8 .5 1.1 .4 1 .4-.8 .5-1.7 .4 .6 .4 .1 .5-.8 .4 .8 .4 .6 .5 .1 .4 .4 .4-.3 .5-1 .4-.3 .5-.3 .4 .7 .4 1.3 .5 .4 .4 .1 .4-.7 .5-.7 .4-.2 .4 .6 .5-.3 .4-2.2 .4-1.1 .5 .9 .4 .2 .5-.8 .4 0 .4 1.1 .5 .7 .4-1.1 .4-3 .5-1.2 .4 2.5 .4 1.7 .5-.8 .4-1.8 .4 .1 .5 1.9 .4-.2 .5-2.5 .4-1.4 .4 .2 .5-1.9 .4-1.4 .4 2.3 .5 1.3" stroke="#ff00ff"/>
<path d="M202.3 1121.3l.4-.4 .5 .6 .4 1.4 .4-.3 .5 0 .4 1 .4-1.1 .5-1.2 .4 .8 .5 .4 .4-1.7 .4-1.3 .5 1.3 .4 1.2 .4 0 .5-.4 .4-.4 .4-.2 .5 .3 .4 1.4 .4-.3 .5-2.4 .4-.4 .5 .4 .4-.3 .4 .1 .5 1.5 .4 2 .4 0 .5-1.4 .4 .2 .4 1.3 .5-.7 .4-1.8 .4-.1 .5 1 .4-.6 .5-1.6 .4 .3 .4 1.1 .5-.9 .4-.6 .4 .5 .5-.2 .4-.6 .4 .2 .5 .2 .4 .2 .4-.5 .5-.7 .4 1.7 .5 1.6 .4-1.7 .4-2.3 .5 .5 .4 2 .4 .9 .5-.5 .4-.9 .4-.3 .5 .5 .4-.3 .4-1.3 .5 1.1 .4 1.2 .4-.5 .5 .9 .4 1 .5-1.2 .4-1 .4 .2 .5-.5 .4-.9 .4-.5 .5 .1 .4 .9 .4 .3 .5 0 .4 .2 .4-.3 .5-.2 .4 .2 .5-.4 .4 0 .4-.2 .5-.6 .4 .3 .4 .2 .5-.8 .4 .5 .4 1.3 .5-.3 .4-1.4 .4-1.2 .5 .5 .4 1 .5 .4 .4 .8 .4-.9 .5-1.1 .4 .9 .4-.8 .5-1 .4 2.5 .4 1.9 .5-.5 .4-1.1 .4-.6 .5 .3 .4 .6 .5 .4 .4-.4 .4-.6 .5-.4 .4-.5 .4 1.7 .5 2.1 .4-2.5 .4-3.8 .5 .6 .4 2.1 .4-.1 .5-.8 .4-.4 .4-.8 .5 .7 .4 2.3 .5 0 .4-.8 .4 1.3 .5-.3 .4-3 .4-1.5 .5 1.2 .4 2.1 .4 1.5 .5-.3 .4-.7 .4 .4 .5-.5 .4-1.7 .5-.4 .4 .2 .4-.7 .5 .2 .4 1.7 .4 .8 .5-1.2 .4-1.2 .4 .8 .5-.1 .4-1.4 .4 1.2 .5 1.6 .4-1.6 .5-2.1 .4-1.1 .4 1.6 .5 2.3 .4-1.1 .4-1.5 .5-.6 .4 .3 .4 1.2 .5-.3 .4-1.2 .4-.1 .5 .5 .4 1.1 .5 1.7 .4 .4 .4-.3 .5 .1 .4-.3 .4-.3 .5 0 .4 .3 .4 .9 .5-.2 .4-2.2 .4-2.1 .5 .4 .4 .8 .5-.3 .4 1.1 .4 .6 .5-1.6 .4-.3 .4 1.5 .5 .3 .4-.6 .4 .4 .5 1.8 .4 0 .4-.7 .5 .2 .4-.4 .4 0 .5-1 .4-1.8 .5 .2 .4 .3 .4-.5 .5 .8 .4 1.2 .4-.4 .5-1.5 .4 0 .4 1.2 .5 .2 .4 .1 .4 .9 .5 0 .4-.9 .5-1.2 .4-1.5 .4-.1 .5 2.3 .4 1.3 .4-.6 .5-1.1 .4-.3 .4-.8 .5-.7 .4 2.3 .4 1.5 .5-2.3 .4-1 .5 .8 .4-.4 .4-1 .5 .6 .4-.1 .4-1.6 .5 .6 .4 2.2 .4 .2 .5-.4 .4-.2 .4-1 .5-.9 .4 1.2 .5 1.7 .4-.6 .4-.1 .5 1.3 .4-1.3 .4-.8 .5 1.4 .4 1.7 .4 1.1 .5-1 .4-2 .4-1.3 .5 .2 .4 0 .4-.5 .5 .7 .4 1.6 .5 1.7 .4-.1 .4-1.7 .5-.9 .4 .9 .4 .1 .5-1.8 .4-1.3 .4 .1 .5 1.8 .4 1.3 .4-.2 .5-.7 .4-.7 .5-.6 .4-.4 .4 .8 .5-.1 .4-1.8 .4 .4 .5 1.8 .4-.4 .4-1.1 .5 .2 .4 .4 .4 1.9 .5 1.6 .4-3.1 .5-2.2 .4 1.7 .4 .8 .5-.3 .4 0 .4-1 .5 1.2 .4 2.5 .4-.2 .5-.2 .4 .6 .4-1.4 .5-3 .4-.7 .5 1.3 .4 .9 .4 .6 .5-.3 .4-1.5 .4-.7 .5 1.5 .4 1.3 .4-1.2 .5-1.7 .4 .9 .4 .8 .5-1.2 .4 .7 .4 1.3 .5-1.2 .4-.8 .5 .8 .4 .1 .4-.4 .5 1 .4 .8 .4 0 .5 .6 .4 0 .4-.9 .5-.2 .4 0 .4 .3 .5 .4 .4 .3 .5 .7 .4 0 .4-.9 .5 .1 .4 .2 .4-.8 .5-1.7 .4-1 .4 1.2 .5 .2 .4-.2 .4 1.7 .5-.6 .4-1.9 .5-.6 .4 .9 .4 3 .5 1.1 .4-2.6 .4-2.3 .5 .9 .4 1.5 .4 .1 .5 0 .4-.3 .4-1.3 .5 .1 .4 .4 .5-.6 .4 .5 .4 .8 .5 0 .4 .2 .4 0 .5-.6 .4 .2 .4 .5 .5-1.2 .4-.9 .4 .9 .5-.4 .4-1 .4 1.2 .5 1.6 .4-.3 .5-1.1 .4 .3 .4 .1 .5-.5 .4 .1 .4-1.7 .5-.4 .4 2.3 .4 .5 .5 .4 .4-.2 .4-.7 .5 .7 .4-1.1 .5-2 .4 .3 .4 .9 .5 .1 .4 0 .4-.7 .5 .1 .4 1.8 .4 .9 .5 .1 .4-1 .4-1.2 .5 .8 .4 .5 .5-1 .4-.3 .4 .4 .5-.4 .4-1.5 .4-.1 .5 1.2 .4 .7 .4-.1 .5-.3 .4 1.1 .4 1.3 .5 .3 .4-.7 .5-1.1 .4-1.3 .4-.1 .5 1.3 .4-.8 .4-.9 .5 1.7 .4 .4 .4-1.5 .5-.5 .4 .7 .4 .5 .5 .1 .4 .7 .5-.3 .4-1.3 .4-.3 .5 .2 .4-.4 .4 .2 .5 .8 .4 1.3 .4 .2 .5-.9 .4 .6 .4 .3 .5-.6 .4-.5 .4 .5 .5 .7 .4-2.7 .5-2.3 .4 2.1 .4 2.1 .5-.2 .4-.4 .4 .3 .5 .2 .4 .9 .4-.1 .5-1.9 .4 .4 .4 2 .5-.2 .4-2 .5-.3 .4 .4 .4-1.1 .5 0 .4 .9 .4 .2 .5-.4 .4-.7 .4 .3 .5 .6 .4-.8 .4-.2 .5 .3 .4-.2 .5 .1 .4 .8 .4 .8 .5 0 .4 .5 .4 1.4 .5 0 .4-1.2 .4 .1 .5-.4 .4-1.4 .4-.6 .5-.5 .4-.6 .5 .8 .4 1.7 .4-.1 .5-.9 .4-.2 .4-.4 .5-1.4 .4-1.7 .4 .2 .5 2.4 .4 1.8 .4-.4 .5-1 .4 .1 .4 1.4 .5 .6 .4-.7 .5-.1 .4-.1 .4-2.1 .5-1.7 .4 1.1 .4 1.3 .5 .1 .4 1.1 .4 .7 .5-1.5 .4-.3 .4 .5 .5-.8 .4-1.5 .5-.5 .4 1.8 .4 2.1 .5 .8 .4 0 .4-.5 .5-.3 .4 .1 .4 .2 .5-.6 .4 .3 .4 .5 .5-1.7 .4-1.1 .5 .1 .4-.3 .4-.2 .5 .3 .4 .7 .4 .3 .5 .7 .4 .3 .4-.3 .5 .3 .4-1 .4-2.4 .5 .4 .4 2.6 .5 .2 .4-.8 .4 1 .5-1.5 .4-2.7 .4 0 .5 .7 .4 0 .4 .5 .5 1.3 .4 1.1 .4 .5 .5-.8 .4-.8 .4 .4 .5 1.1 .4 .8 .5-1.4 .4-1 .4 1.3 .5 .3 .4-.5 .4 .2 .5 .3 .4-.1 .4-.8 .5-.8 .4 .5 .4 1 .5 .6 .4-.3 .5-.7 .4 0 .4 .4 .5 .2 .4-.2 .4 .3 .5-.4 .4-2.4 .4-1.4 .5 .4 .4 1.8 .4 1.3 .5-.9 .4-1.1 .5 .4 .4 .8 .4 .8 .5-.2 .4-1.3 .4 .5 .5 1.6 .4 .2 .4-1.1 .5-.2 .4 1 .4 .3 .5-1.3 .4-.7 .5-.5 .4-1.8 .4 .3 .5 2.1 .4 .4 .4-.6 .5-.1 .4 .6 .4-1.5 .5-1.1 .4 2.3 .4 1.2 .5-1.4 .4-1 .4-.4 .5-.3 .4-.1 .5 .4 .4 .9 .4 .5 .5-.9 .4-.9 .4 1.2 .5 1.2 .4 .2 .4-.3 .5-.7 .4-1 .4-.6 .5-.1 .4 .8 .5 .5 .4 .5 .4 1 .5 .1 .4-.6 .4-.6 .5 .2 .4 .3 .4 .2 .5-.3 .4-2.2 .4 .2 .5 1.9 .4-.2 .5-.3 .4 .5 .4 .3 .5-1.4 .4-1.7 .4 .3 .5 .9 .4 .3 .4-.5 .5 1 .4 1.8 .4-.5 .5-1 .4 .1 .5 0 .4-1.2 .4-1.5 .5 .7 .4 1.1 .4 .2 .5 2 .4-.8 .4-3.9 .5 .2 .4 1.2 .4-.3 .5 1.4 .4 1.4 .5-.4 .4-2.1 .4-.7 .5 2.7 .4 .9 .4-1.5 .5-.9 .4-.4 .4 .6 .5 .9 .4-1.1 .4-1.2 .5 1.2 .4 1.4 .4-.3 .5-.3 .4-.3 .5 .4 .4 .6 .4-1.5 .5 .8 .4 .9 .4-2.5 .5-.4 .4 1.1 .4 .4 .5 .9 .4 .8 .4 .9 .5-.2 .4-.8 .5-.8 .4-1.3 .4-.1 .5 1 .4 1.2 .4 .8 .5-.2 .4-.6 .4-.5 .5-.5 .4 .8 .4 .7 .5-.7 .4-.4 .5-.2 .4 0 .4 1.1 .5 .4 .4-1.4 .4-1 .5 1.2 .4 1.3 .4-1 .5-1.8 .4-.9 .4-.3 .5 .2 .4 .9 .5 .1 .4 .5 .4 .9 .5 .4 .4-.4 .4-.9 .5-.5 .4-.4 .4 .6 .5 1.3 .4-.9 .4 0 .5 1.5 .4 .2 .4 .8 .5-.7 .4-1.6 .5 .6 .4 .8 .4 .2 .5-.1 .4-1.1 .4-.9 .5 .2 .4 .3 .4 1 .5 .4 .4-.1 .4 .7 .5-1 .4-1.7 .5 .5 .4 .5 .4 .4 .5 .9 .4 .1 .4-1.3 .5-1.1 .4 1.6 .4 1.4 .5-2.5 .4-2.5 .4 1.4 .5 1.3 .4-.1 .5 1.2 .4-.4 .4 .3 .5 2.6 .4 .5 .4-2.8 .5-2.3 .4 .9 .4 1.6 .5-.2 .4-.9 .4-.1 .5 .9 .4 .7 .5 .5 .4-1.5 .4-.7 .5 1.8 .4-.2 .4-.9 .5 .8 .4 .2 .4-.3 .5-1.2 .4-1.1 .4-.6 .5-1.4 .4 .7 .4 1.4 .5 .6 .4 .9 .5 .6 .4-.1 .4-1.5 .5-.2 .4 1.2 .4-1.3 .5-1.6 .4-.2 .4 .6 .5 1.7 .4 1.2 .4 .5 .5-.4 .4 .4 .5 .9 .4-1 .4 .2 .5 .8 .4-1.6 .4-.5 .5 1.4 .4-.1 .4-1.8 .5-.9 .4 1.3 .4 1.3 .5-.6 .4-.9 .5 .5 .4 .1 .4-1.5 .5-1.4 .4 .5 .4 2.2 .5 2.9 .4 2.1 .4-.8 .5-2.2 .4-.7 .4 .9 .5-.4 .4-2.2 .5-.7 .4 1.1 .4 .8 .5 .8 .4 .3 .4 .4 .5 0 .4-1 .4-.9 .5-1.3 .4-.2 .4 1.5 .5 .7 .4 1.4 .4 0 .5-1.8 .4 .3 .5 .3 .4-.9 .4-1.4 .5-1.1 .4 .2 .4 1.6 .5 .6 .4-.4 .4-.5 .5-.6 .4 1 .4 1.6 .5 .5 .4 0 .5 .9 .4 1 .4-.9 .5-2.4 .4-1.6 .4-.9 .5 .9 .4 1.2 .4-.6 .5 0 .4 1.2 .4 1.1 .5-.4 .4-.3 .5-.1 .4 .1 .4 1.1 .5 .5 .4-1 .4-.5 .5 .9 .4 .3 .4-.9 .5-.3 .4 .1 .4-.6 .5-1.1 .4 .1 .5 1.5 .4 .1 .4-1.5 .5-1.3 .4 .5 .4 .2 .5 .8 .4 1.1 .4-1.1 .5-1.5 .4 .9 .4 2.5 .5 .2 .4-2 .5-.6 .4 1.1 .4 1.2 .5-.2 .4-.4 .4 0 .5 .1 .4-.3 .4-.9 .5-1.4 .4-1.2 .4 .4 .5 1.8 .4 .6 .4-.7 .5-.4 .4-1 .5 .1 .4 2.7 .4 .7 .5-1.4 .4-.3 .4 0 .5-.3 .4-.3 .4-.2 .5 0 .4 1.6 .4 .6 .5-1.4 .4-1.4 .5-1 .4 .1 .4 .2 .5 1.2 .4 1.1 .4-1.2 .5 .4 .4 1.4 .4-.7 .5-.3 .4-.1 .4-.4 .5 1.4 .4 .7 .5-1.4 .4-.2 .4 1.3 .5-.5 .4-2.6 .4 .1 .5 .6 .4-1 .4-.1 .5 .8 .4 1.4 .4 .3 .5-.6 .4-.5 .5-1.8 .4-1 .4 .7 .5 .8 .4 1.1 .4 1.1 .5 .3 .4-1.3 .4-.8 .5 .9 .4-.1 .4-1.5 .5 .1 .4 1.2 .4 1 .5 .7 .4-1.6 .5-1.4 .4 .8 .4 .6 .5 .9 .4 .8 .4-1.2 .5-1 .4 .2 .4 1.1 .5 .4 .4-.8 .4-.3 .5-.2 .4 .5 .5 .9 .4-1.1 .4-1 .5 .8 .4 .9 .4-1 .5-1.7 .4 .6 .4 1.7 .5 .6 .4 .1 .4 .2 .5-1 .4-1.1 .5 .3 .4-.2 .4 0 .5 .7 .4-1.1 .4-.7 .5 1.6 .4 2 .4 .3 .5-1.5 .4-2 .4-.3 .5 1 .4 .3 .5-.6 .4-.4 .4 1.1 .5 .9 .4-1.1 .4-.8 .5 1.5 .4 1.7 .4-.6 .5-2.5 .4 .4 .4 .8 .5-1.4 .4-.8 .4 0 .5 .8 .4-.7 .5-1.5 .4 1.4 .4 .9 .5-1.2 .4-.6 .4-.3 .5-.2 .4 0 .4-.1 .5-.8 .4 0 .4 1.1 .5 .3 .4 .4 .5 1.7 .4 .3 .4-1.4 .5-.6 .4 .6 .4 1.1 .5-.5 .4-1.9 .4-.1 .5 1.9 .4 1.1 .4-.8 .5-.8 .4-.5 .5 .2 .4 .9 .4 .6 .5-.3 .4-1.5 .4-2.3 .5-1.1 .4-.2 .4-.5 .5-1.1 .4-1.7 .4 .1 .5-.6 .4-3.4 .5-2.4 .4-.8 .4-1.8 .5-2.9 .4-2.2 .4-2 .5-3.3 .4-3.5 .4-2.9 .5-1.7 .4-.6 .4-1.1 .5-1.8 .4-1 .4-.2 .5 .5 .4 .9 .5 1.2 .4 1.3 .4 2.2 .5 2.5 .4 1.8 .4 2.5 .5 3.1 .4 1.9 .4 1.8 .5 3.1 .4 2.9 .4 2.1 .5 1.6 .4 2.3 .5 3.4 .4 1.3 .4 .2 .5 1 .4 .8 .4 .8 .5 .1 .4-.4 .4 .8 .5 1.3 .4 .1 .4 .7 .5 1.2 .4-.2 .5-.2 .4 .4 .4 .5 .5-.6 .4-1.3 .4-.5 .5-.4 .4-.2 .4 .8 .5 .8 .4-1.1 .4-2 .5 .8 .4 1.6 .5-.2 .4 .8 .4 1.5 .5 .6 .4-.6 .4-1.5 .5-1 .4 .6 .4 .8 .5-.9 .4-1.4 .4 .6 .5 2.1 .4 0 .5-1.6 .4-.5 .4-.4 .5-.5 .4 .9 .4 .6 .5-.9 .4 .1 .4-.3 .5-1 .4 .3 .4-1.1 .5-.7 .4 2 .4 .3 .5-1.7 .4-1.1 .5-1.6 .4 .5 .4 1.7 .5-.5 .4-.4 .4-1 .5-1.2 .4 0 .4-.9 .5-1.8 .4 .6 .4 1.6 .5-.2 .4 .3 .5 .8 .4-1.5 .4-2.2 .5-1.4 .4-.9 .4-.4 .5 .1 .4-.1 .4-.7 .5-.8 .4-.8 .4-1.2 .5-.9 .4-.2 .5 .2 .4 0 .4 .3 .5-1.7 .4-3.1 .4-1.5 .5-1.4 .4-.3 .4-.5 .5-2.4 .4-2.1 .4-1.1 .5-2.2 .4-3.6 .5-2.6 .4-1 .4-1.6 .5-2.9 .4-3 .4-4.2 .5-5.6 .4-4.7 .4-4.8 .5-6.3 .4-6.5 .4-6.9 .5-8.4 .4-9.6 .4-10.6 .5-11.9 .4-13.1 .5-14.7 .4-16.4 .4-18 .5-19.8 .4-21.7 .4-23 .5-24.6 .4-26 .4-26.9 .5-26.9 .4-26.4 .4-24.9 .5-21.9 .4-17.6 .5-12.1 .4-5.7 .4 1.3 .5 9.7 .4 17.3 .4 23.3 .5 27.4 .4 29.6 .4 30.3 .5 29.8 .4 28.7 .4 26.9 .5 25 .4 22.9 .5 20.6 .4 18.1 .4 15.9 .5 14.3 .4 12.9 .4 11.7 .5 10.1 .4 7.8 .4 7.4 .5 7.1 .4 6.2 .4 5 .5 3.3 .4 2.8 .5 3.6 .4 3.9 .4 2.8 .5 1.3 .4 1.6 .4 3.1 .5 2.2 .4 1.6 .4 3.3 .5 3.1 .4 .3 .4-.1 .5 1 .4 .2 .4 .7 .5 1.3 .4-.9 .5-.9 .4 1.5 .4 2 .5 1.4 .4 1.6 .4 1.2 .5-.2 .4-.1 .4 1.3 .5 .3 .4-.7 .4-.3 .5-1.5 .4-1.4 .5 1.5 .4 2.8 .4 1 .5-1.1 .4-.7 .4 .4 .5 .2 .4 0 .4 1.1 .5 .4 .4-.4 .4 .9 .5 .4 .4-.8 .5-1 .4 1 .4 .6 .5-2.9 .4-1.8 .4 1.5 .5 .9 .4-.4 .4 0 .5 1.1 .4 .3 .4-1.5 .5-1 .4 .1 .5 0 .4 .6 .4 1.2 .5 .8 .4-.5 .4-1.6 .5-1 .4-.8 .4-.9 .5-1.1 .4-1.1 .4-.7 .5-.6 .4-.3 .4 .4 .5 .6 .4 .1 .5-.3 .4-1 .4-.7 .5 .5 .4-.6 .4-2 .5-1 .4-.4 .4-1.8 .5-2.7 .4-.9 .4 .1 .5-.7 .4-1.9 .5-1.7 .4-.4 .4-1.5 .5-1.6 .4-2.4 .4-1.6 .5 .4 .4-.8 .4-2.7 .5-3.8 .4-3.6 .4-2.8 .5-1.7 .4-2.2 .5-3.5 .4-3.5 .4-4.6 .5-4.9 .4-4.4 .4-4.4 .5-5 .4-5.8 .4-6.4 .5-6.2 .4-7.2 .4-8.5 .5-8.4 .4-8.5 .5-9.8 .4-11.1 .4-11.4 .5-12 .4-12.8 .4-13.4 .5-14.5 .4-15.6 .4-16.1 .5-16.4 .4-17.1 .4-17.2 .5-17 .4-16.7 .5-15.7 .4-14.3 .4-12.4 .5-10.2 .4-7.6 .4-4.9 .5-1.1 .4 5.9 .4 13.6 .5 20.1 .4 24.4 .4 26.9 .5 27.9 .4 27.4 .4 25.9 .5 24.2 .4 22 .5 19.8 .4 17.6 .4 15.7 .5 13.6 .4 12.5 .4 11.3 .5 9.2 .4 8.2 .4 7.6 .5 6.9 .4 5.9 .4 4.6 .5 4 .4 4.1 .5 3.2 .4 2.7 .4 2.8 .5 2.8 .4 3.3 .4 2.5 .5 1.4 .4 1.5 .4 1.8 .5 1.2 .4 2 .4 3.1 .5 1.8 .4-.1 .5 .2 .4 1.3 .4 .8 .5 0 .4 0 .4 1.6 .5 1.2 .4 .6 .4 1.7 .5 .7 .4-.5 .4 .1 .5 .6 .4-.5 .5-1.3 .4 1.2 .4 3.1 .5 1.2 .4 .4 .4 0 .5-.8 .4 0 .4-.8 .5 .3 .4 2.5 .4 1.2 .5-.5 .4-2 .4-1 .5 2.8 .4 3.5 .5-.3 .4-2.5 .4 0 .5 2.6 .4 1.3 .4-1.7 .5-1.7 .4 .1 .4 .8 .5 1.6 .4 .6 .4-2 .5-2 .4-.3 .5 1 .4 1.3 .4-.5 .5-.6 .4 .8 .4 0 .5 .6 .4 1.7 .4-.3 .5-2 .4-.1 .4 1.4 .5-.7 .4 .7 .5 1.6 .4-.3 .4-1.2 .5-1.3 .4 .3 .4 .9 .5-.5 .4-.8 .4-.6 .5 .6 .4 1.3 .4 .6 .5 .3 .4-.5 .5-.8 .4 1.7 .4 1.5 .5-.3 .4-.2 .4-.1 .5 .3 .4 .4 .4-.2 .5-1.5 .4-.9 .4 .5 .5-.4 .4 .3 .4 2 .5 .5 .4-2.2 .5-1.1 .4-.1 .4-.3 .5 1.1 .4 1.7 .4 1.7 .5 .4 .4-1.6 .4-1 .5 .4 .4 .4 .4-.4 .5-1.4 .4 0 .5 1.4 .4 .7 .4 .1 .5-.2 .4 .3 .4-.4 .5-2.1 .4-1.1 .4-.2 .5 .7 .4 .4 .4-1 .5 0 .4 2.5 .5 2.2 .4-1.4 .4-1.2 .5 1.2 .4 .6 .4-.1 .5-.4 .4-.5 .4-.1 .5-1.1 .4-.5 .4 1.1 .5 0 .4-.1 .5 .1 .4 .3 .4 .8 .5-.2 .4-.7 .4 1.3 .5 1.4 .4-1.4 .4-2.2 .5-.4 .4 1 .4-.9 .5-1.5 .4 1 .4 1.5 .5-.2 .4 .3 .5 .8 .4 .2 .4 .9 .5 0 .4-1.7 .4-.5 .5 0 .4 .6 .4 1.1 .5-.6 .4-1.3 .4-.1 .5 .5 .4 .6 .5-.3 .4-1.7 .4-1.3 .5 .3 .4 1.4 .4 1.9 .5-.1 .4-2.2 .4 .5 .5 2.2 .4-.1 .4-.4 .5-.4 .4-.5 .5 .1 .4 .4 .4 .1 .5-.4 .4 0 .4 0 .5-.1 .4-.6 .4-.4 .5 .7 .4 .5 .4 .1 .5 .4 .4 1.2 .5 .2 .4-.8 .4-1.4 .5-1.1 .4 .6 .4 .4 .5 .6 .4 .4 .4-1.4 .5-1.1 .4-.7 .4 .5 .5 1 .4-.4 .5-.2 .4 1.3 .4 1.4 .5 .2 .4-.4 .4 .8 .5-.3 .4-1.2 .4 .2 .5 .5 .4-1.7 .4-2.5 .5-.7 .4 1.5 .4 2 .5-.2 .4-.3 .5 1.4 .4 .4 .4-1.6 .5-.9 .4 .8 .4 .9 .5-1.2 .4-.5 .4 2.8 .5 .3 .4-2.3 .4-.6 .5 .2 .4 .5 .5 1.3 .4 1.3 .4-.3 .5-2 .4-1.5 .4 .4 .5 1.2 .4 .2 .4-1.1 .5-.6 .4 .8 .4 1.1 .5 .1 .4-1.1 .5-1 .4-.6 .4 .5 .5 2.2 .4 .5 .4-2.2 .5-.9 .4 1.3 .4 1 .5 0 .4-.3 .4 .6 .5-.2 .4-1.8 .5-.4 .4 1.5 .4 2 .5 .4 .4-1.3 .4-.4 .5 .6 .4 0 .4 .2 .5 0 .4-1.7 .4-1.2 .5-.2 .4-.4 .4 .7 .5 .9 .4-.3 .5-1.1 .4 1.9 .4 1.7 .5-1.7 .4-.8 .4 1.4 .5 1.5 .4-1.1 .4-1.1 .5 1.2 .4 .4 .4-.2 .5-.6 .4-1 .5-.5 .4 .2 .4 1 .5 .4 .4-1.8 .4-.9 .5 1.7 .4 .7 .4 .2 .5 1 .4-.3 .4-1.8 .5-2 .4 .5 .5 1.8 .4 .7 .4-.6 .5-1.2 .4-.6 .4-.5 .5 .3 .4 1.5 .4 0 .5-1.4 .4-.6 .4 .1 .5 .1 .4-1.6 .5-.7 .4 2 .4 1.5 .5-.5 .4-1.6 .4-1.2 .5-1.4 .4-.5 .4 .6 .5 .5 .4-.1 .4-.4 .5-.3 .4 0 .4 .3 .5 .6 .4 1.1 .5 .7 .4 .1 .4-.3 .5-.9 .4-.2 .4 1.6 .5 1.5 .4 1.2 .4 1.6 .5 .7 .4-.5 .4-.5 .5-.4 .4-1.5 .5-1.5 .4 .7 .4 1.4 .5 .4 .4 .6 .4 .2 .5-.8 .4-.4 .4 .9 .5 1.1 .4 .7 .4 .8 .5 0 .4-.7 .5-.9 .4-1.7 .4-.3 .5 1.6 .4 .3 .4-.5 .5-.6 .4-.9 .4 .6 .5 .5 .4-.7 .4 2.4 .5 2.4 .4-1.5 .5-2.1 .4-.4 .4 .1 .5 .1 .4 .8 .4 0 .5-.7 .4-.2 .4 .2 .5-.2 .4-1.3 .4 .4 .5 .8 .4 .5 .4 .5 .5-.4 .4 0 .5 .1 .4-1.4 .4-2.1 .5 0 .4 2.7 .4 .8 .5-1.4 .4-1.5 .4-1.3 .5 .6 .4 .4 .4 .5 .5 .6 .4-1.2 .5-.8 .4-.4 .4-.3 .5 .6 .4 .2 .4-1.8 .5-2.5 .4-.6 .4 1.4 .5 .8 .4-1.3 .4-1.1 .5-1.4 .4-1.9 .5 .5 .4 1.9 .4-.1 .5-1.8 .4-.2 .4 .7 .5 0 .4-.8 .4-1.5 .5-2.2 .4-1.9 .4-1.3 .5-1.3 .4-.4 .5 0 .4-2 .4-2.8 .5-2.4 .4-3.3 .4-2.9 .5-2.5 .4-1.6 .4-1.8 .5-3.5 .4-3.9 .4-3.5 .5-4.5 .4-5.2 .5-4.4 .4-4.3 .4-5.3 .5-5.5 .4-4.7 .4-4 .5-3.2 .4-2.7 .4-1.7 .5-.5 .4 .6 .4 1.8 .5 3.4 .4 4.2 .4 3.9 .5 4.4 .4 5.2 .5 5.1 .4 4.7 .4 4.3 .5 4.4 .4 4.5 .4 3.9 .5 3 .4 3 .4 3.6 .5 4 .4 3.5 .4 1.8 .5 1.1 .4 1.7 .5 1.7 .4 1.7 .4 1.8 .5 .6 .4 .2 .4 2.5 .5 3.1 .4-.1 .4-.6 .5 .8 .4-.3 .4 .9 .5 3 .4 1 .5-1 .4 .1 .4 1.7 .5 .7 .4-.2 .4 .7 .5 .4 .4-.9 .4 .3 .5 1.3 .4 .3 .4 0 .5-.5 .4 1.1 .5 1.5 .4-1.4 .4-1 .5 .6 .4 .4 .4 1.3 .5 1.8 .4 .8 .4 0 .5-1.3 .4-.5 .4 .1 .5-1.3 .4-1.3 .4-.1 .5 1 .4 1 .5-.2 .4 1.2 .4 .6 .5-2.1 .4-1 .4 .3 .5 .1 .4 0 .4-.1 .5 1 .4 1.7 .4-.2 .5-1.1 .4-.1 .5 .4 .4 .1 .4-.2 .5 .7 .4 1.2 .4 .4 .5-1.5 .4-1.5 .4-.1 .5 .8 .4 .3 .4-.6 .5 .7 .4 1.6 .5-.6 .4-2 .4-.4 .5 1.2 .4 1 .4-.8 .5-.5 .4 0 .4-.8 .5-.3 .4 .4 .4 .4 .5 .3 .4 .3 .5-.1 .4-1.4 .4-1.4 .5 .3 .4 .7 .4 .3 .5-.4 .4-1.9 .4 .7 .5 3.1 .4-.1 .4-.4 .5 .3 .4-1.8 .4-1.6 .5-.3 .4 1 .5 1.6 .4 .1 .4-.2 .5 .7 .4-.2 .4-.4 .5 1.2 .4 .8 .4-.7 .5-1.5 .4-1.6 .4 .8 .5 2.9 .4 1.1 .5-1.3 .4-.7 .4-.2 .5-.6 .4-.1 .4-1.1 .5-.6 .4 1.4 .4 1.7 .5 1.4 .4 0 .4-2.2 .5-.5 .4 2.2 .5-.3 .4-1.2 .4 1.1 .5 .5 .4 .1 .4-.8 .5-1.7 .4 .2 .4 2.2 .5 1.8 .4-.3 .4-1.1 .5-.1 .4 .8 .5 0 .4 .3 .4 1.3 .5 .9 .4-.5 .4-.7 .5-1.4 .4-2.1 .4 .2 .5 0 .4-1.7 .4-.4 .5 .9 .4 1.5 .4 .6 .5-1.5 .4 .1 .5 1.8 .4 .2 .4-1.1 .5-.4 .4 .5 .4 .1 .5-1 .4-.6 .4 1.2 .5 .6 .4-.9 .4-.2 .5 .1 .4-.2 .5-1 .4-2 .4-.7 .5 1.2 .4 .4 .4-1.5 .5-1 .4-.1 .4-1.1 .5-.5 .4 0 .4-.9 .5-.7 .4-.5 .5-.9 .4-.9 .4-1.4 .5-2 .4-1.2 .4-1.1 .5-1.8 .4-1 .4-.7 .5-2.3 .4-1.9 .4-.9 .5-1.2 .4-.9 .5-.6 .4-.6 .4-.1 .5 .4 .4 .6 .4 .1 .5 1 .4 1.8 .4 .7 .5 .5 .4 2 .4 1.8 .5 .7 .4 1.4 .5 2.7 .4 2.3 .4 1.3 .5 .2 .4 .6 .4 1 .5 .5 .4 .2 .4-.1 .5 .3 .4 1.2 .4 .1 .5 1 .4 3.2 .4 .8 .5-.5 .4 1.4 .5 1.5 .4-.9 .4-1.8 .5-.3 .4 .5 .4 .6 .5 .6 .4 .2 .4 .9 .5 .8 .4-.4 .4 .9 .5 .9 .4-.9 .5-.1 .4-.4 .4-.1 .5 1.3 .4 .1 .4-1.5 .5-1.8 .4 .5 .4 2.6 .5 1.1 .4-1.5 .4-1.2 .5-.7 .4-.2 .5 .9 .4 .6 .4 1.1 .5 .9 .4-.3 .4-.3 .5 0 .4 .8 .4 .5 .5-1.2 .4-.8 .4-.9 .5-.8 .4 .4 .5 1 .4 .6 .4-.2 .5 .4 .4 1 .4 .9 .5 .4 .4 0 .4-.2 .5-.1 .4-1.2 .4-1.9 .5-.5 .4 .4 .4 .2 .5 .3 .4-.2 .5-.4 .4-.1 .4-1 .5 .5 .4 2.1 .4 1.7 .5 0 .4-1.4 .4-.9 .5-1.1 .4-.3 .4 1.6 .5 .6 .4 0 .5 0 .4-1.1 .4 .3 .5 1 .4 1 .4 1.2 .5-1 .4-.8 .4 .7 .5-.6 .4-2 .4-.7 .5 .7 .4 .8 .5 0 .4-1.2 .4-.7 .5 1.6 .4 1.1 .4-1 .5-.9 .4-.4 .4 .4 .5 1.7 .4 1.5 .4-.5 .5-.9 .4-.4 .5-1.5 .4-1.9 .4 .5 .5 2 .4-.1 .4-.1 .5 .6 .4 .3 .4-.4 .5-1 .4 .1 .4 1.1 .5 .9 .4 .1 .4 .1 .5-.6 .4-1.4 .5 .4 .4-.1 .4-1.8 .5 .4 .4 .9 .4-.7 .5-.2 .4 .1 .4-.2 .5 .6 .4 1.6 .4 1.4 .5-.2 .4-1.9 .5-1.2 .4 .2 .4-.5 .5 .2 .4 1.2 .4-.1 .5-.7 .4 .1 .4 .9 .5 .8 .4-.5 .4 0 .5 1 .4-.2 .5-.6 .4-1.2 .4-2.2 .5-.8 .4 1.4 .4 1.4 .5-.2 .4-.5 .4-.1 .5 .8 .4-.9 .4-2 .5 1.3 .4 1 .5-.7 .4 .1 .4-.9 .5-.7 .4 .8 .4 .2 .5 .1 .4 .1 .4-1.8 .5-.6 .4 2.5 .4 1.9 .5-1.4 .4-2.4 .4-.8 .5 0 .4-.7 .5-1.3 .4 .8 .4 1.8 .5 0 .4-.9 .4-1 .5-.3 .4-.2 .4-.6 .5-1.4 .4-1 .4-.8 .5-1.3 .4-.3 .5 .8 .4-.1 .4-2.6 .5-3 .4-.7 .4 .2 .5 .1 .4-1.9 .4-3.7 .5-1.7 .4-.1 .4-1.4 .5-2.9 .4-2.5 .5-1.8 .4-.9 .4-1 .5-1.1 .4-1.5 .4-2 .5-1.4 .4-.7 .4-.3 .5 .3 .4 .7 .4 1.2 .5 1.2 .4 .6 .5 1.3 .4 2.1 .4 2.5 .5 2.1 .4 .7 .4 1.7 .5 2.4 .4 2.2 .4 2.4 .5 2 .4 1.4 .4-.5 .5 .4 .4 3.1 .5 2.2 .4-.1 .4 .9 .5 .7 .4-.8 .4 .9 .5 2.1 .4 .2 .4-.3 .5-.1 .4 .4 .4 1.3 .5 1.4 .4 1.2 .4 .2 .5-.2 .4 .5 .5-.4 .4-1.1 .4 .3 .5 1.1 .4 1 .4-.6 .5-1.3 .4 1 .4 1.8 .5 1.4 .4 .3 .4-1.3 .5-.4 .4 .9 .5 .1 .4-.1 .4-1.4 .5-1.6 .4 .9 .4 .6 .5-.7 .4-.2 .4 .6 .5 .8 .4 .9 .4 .4 .5 .1 .4 1.7 .5 .8 .4-2 .4-.7 .5 1.1 .4 .6 .4-.3 .5-1.1 .4-.8 .4 .9 .5 .6 .4-.7 .4-.6 .5-.1 .4 .7 .5-.3 .4-1.6 .4 .4 .5 2.2 .4 1.2 .4-.9 .5-1.1 .4 1.3 .4 1.3 .5-.1 .4-1.6 .4-.9 .5 1.3 .4 .2 .4-1.8 .5-.2 .4 1.3 .5-.3 .4-1 .4-1.6 .5-.1 .4 2.6 .4-.6 .5-2.7 .4 .3 .4 .6 .5 .3 .4 1 .4-.3 .5-1.4 .4 .3 .5 2.1 .4 .6 .4-2 .5-.1 .4 1.4 .4-1.1 .5-2.6 .4-.9 .4 1.2 .5 .8 .4-.8 .4-.8 .5 .6 .4 .8 .5-.4 .4-1.5 .4-1.2 .5 .8 .4 1.5 .4-1 .5-2.8 .4-1.8 .4-.7 .5 .7 .4-1.3 .4-3 .5 .5 .4 1.3 .5-1.3 .4-1.9 .4-1.4 .5-1.2 .4-1.1 .4-1.7 .5-3 .4-2.3 .4-1 .5-1.2 .4-1.7 .4-2.5 .5-2.4 .4-1.7 .4-2.5 .5-3.2 .4-2.7 .5-2.9 .4-3.3 .4-2.5 .5-2.4 .4-2.5 .4-2 .5-1.1 .4-1 .4-.7 .5 0 .4 .6 .4 1.2 .5 2.4 .4 2.3 .5 1.3 .4 2.1 .4 2.8 .5 2.8 .4 3.2 .4 3.1 .5 1.9 .4 1.6 .4 2.6 .5 3.7 .4 3.9 .4 1.4 .5 .3 .4 .8 .5 1.5 .4 2 .4 .6 .5 .6 .4 1.6 .4 2.2 .5 1.4 .4 .8 .4 2.1 .5 1.8 .4 1.4 .4 .8 .5-.4 .4-.5 .5 .8 .4 1.9 .4-.3 .5-2.1 .4-.3 .4 .8 .5 .5 .4 .7 .4 .5 .5 .6 .4 .9 .4 .9 .5 .4 .4-.3 .4 .4 .5 .8 .4 .2 .5-.6 .4-.9 .4-.2 .5 .3 .4 1.3 .4 2 .5 .8 .4 .4 .4-1.3 .5-1.3 .4 .5 .4-.5 .5-1 .4-.1 .5-.1 .4 .3 .4 .9 .5 .3 .4 .1 .4 .4 .5 .2 .4 0 .4-1.2 .5-.6 .4 .5 .4-.1 .5 .1 .4-1.3 .5-1 .4 3 .4 1.6 .5-1.1 .4-1.7 .4-1.9 .5 1.3 .4 3.4 .4 .4 .5-1.1 .4 .4 .4 .5 .5-.2 .4-1 .5-1.4 .4-.8 .4 .3 .5 .7 .4-.6 .4-.9 .5 1.2 .4 2.5 .4 .6 .5-.9 .4-1.1 .4-1.3 .5 .8 .4 2.4 .5 .8 .4-1.1 .4-2 .5-.6 .4 .4 .4 1.1 .5 .2 .4-1.9 .4-1.2 .5-.2 .4 .5 .4 1.1 .5-.5 .4-.3 .4 1 .5-.1 .4-.2 .5 2 .4 .1 .4-2.7 .5-.8 .4 1.2 .4 1.3 .5-.5 .4-.7 .4 1.8 .5 1.7 .4 .4 .4 1.1 .5-1.3 .4-3.1 .5-.4 .4 1.1 .4 .7 .5-.3 .4-.4 .4-.3 .5-.7 .4-.4 .4-.5 .5-1 .4-.3 .4 .3 .5 .3 .4 .9 .5 .7 .4 1.1 .4-.1 .5-.9 .4-.6 .4-1.7 .5 .4 .4 2.1 .4 .4 .5 .6 .4 .1 .4-2.6 .5-1.5 .4 1.1 .5-.4 .4-1.2 .4 .7 .5 .4 .4-1.7 .4-.3 .5 .6 .4-1 .4-.2 .5-1.6 .4-2.9 .4-1.5 .5-.1 .4 1.3 .4-.5 .5-1.3 .4 1.3 .5-.1 .4-3.7 .4-1.8 .5 .4 .4-1.5 .4-1.1 .5 .1 .4-.8 .4-1.6 .5-.9 .4-1.2 .4-1.6 .5-1 .4-1.4 .5-2.6 .4-4.2 .4-3.9 .5-1.2 .4-.1 .4-1.2 .5-1 .4-.4 .4-.6 .5-1 .4-.9 .4-.4 .5 .2 .4-.2 .5-.9 .4-.6 .4-.2 .5 .3 .4-.7 .4-1.2 .5 .1 .4-.2 .4-1.5 .5 .3 .4 1 .4-.8 .5-2.1 .4-2.6 .5 .3 .4 1.8 .4 .6 .5-.6 .4-1.8 .4-1.6 .5-2 .4-1.8 .4-1.6 .5-1.8 .4-1.1 .4-1.6 .5-1.6 .4-1.2 .4-.8 .5-.1 .4 .7 .5 1.3 .4 1.5 .4 1.8 .5 1.9 .4 1.8 .4 2.6 .5 3.1 .4 2.4 .4 2.2 .5 3.1 .4 3.4 .4 3.9 .5 3.7 .4 2.4 .5 2.8 .4 3.6 .4 1.5 .5 .3 .4 2.1 .4 2.5 .5 1.2 .4 .3 .4 .7 .5 .9 .4 1.7 .4 1.7 .5 .5 .4 .3 .5 1 .4 1.8 .4 0 .5-.7 .4 .2 .4-1.6 .5-1.3 .4-.9 .4-.4 .5 1.6 .4 .3 .4-1.4 .5 .2 .4 1 .5-.8 .4-2.3 .4-1.8 .5 .1 .4 1.5 .4 .5 .5-1.4 .4-1.1 .4 1 .5-.8 .4-2.2 .4-.3 .5 .5 .4-1.3 .4-2.4 .5-.1 .4-.8 .5-2.9 .4-1.9 .4-.3 .5 0 .4-.8 .4-2 .5-4 .4-4 .4-1.8 .5-1.4 .4-1.7 .4-1.5 .5-2 .4-3 .5-3.1 .4-2.5 .4-2.3 .5-.9 .4-.1 .4-1.4 .5-1.8 .4-1.3 .4-.2 .5 .3 .4 .6 .4 .7 .5 1.7 .4 2.4 .5 1.3 .4 .1 .4 .8 .5 2.1 .4 2.9 .4 3.6 .5 3.2 .4 1.8 .4 2.5 .5 4.2 .4 3.2 .4 2.8 .5 3.3 .4 2.2 .5 1.6 .4 1.5 .4 .8 .5 1.2 .4 2.7 .4 3.1 .5 2.4 .4 1.3 .4 .3 .5-.3 .4 .1 .4 1 .5 .3 .4 .4 .5 1.3 .4-.6 .4 .4 .5 3 .4 1.3 .4-1 .5 0 .4 1.7 .4 .9 .5-.5 .4-.4 .4-.6 .5 0 .4 .7 .4 1 .5 .7 .4-.1 .5 .3 .4 .3 .4-.3 .5 .5 .4 1.1 .4 .7 .5 .7 .4 .4 .4-.1 .5-.3 .4-.6 .4-.9 .5 .7 .4 1.6 .5-.2 .4 .2 .4 .5 .5 0 .4 .1 .4-1.2 .5-1.2 .4 0 .4 .4 .5 .3 .4 1.1 .4 4 .5 1.6 .4-3.4 .5-1.7 .4-.6 .4-1.6 .5 0 .4-.5 .4-.5 .5 1.2 .4 1.4 .4 1.3 .5-.4 .4-1.5 .4 .9 .5 .4 .4-1.1 .5 .5 .4 .8 .4-.1 .5-.8 .4 .4 .4 1.6 .5-.8 .4-1.6 .4 1 .5 .8 .4-1 .4-.4 .5 .2 .4-.3 .4-.4 .5 .2 .4 2 .5 .9 .4-1.2 .4-1.4 .5-.9 .4 .9 .4 1.8 .5-.7 .4-2.1 .4 .1 .5 1.8 .4 1.5 .4 .6 .5-1 .4-2.5 .5 .6 .4 3.3 .4-.2 .5-3.2 .4 .2 .4 1.9 .5-1.1 .4-1.2 .4-.2 .5-.1 .4 1.3 .4 1.1 .5-1.3 .4-1.6 .5-.4 .4 .2 .4 .5 .5 .4 .4 .9 .4 .1 .5-2.1 .4-2 .4 1.2 .5 3.2 .4 1.2 .4-1.4 .5-.7 .4 .8 .5 1 .4-.5 .4-1 .5 .7 .4-.2 .4-1.2 .5-.4 .4-.3 .4-.5 .5 .6 .4 .2 .4-1.5 .5 .2 .4 1.3 .4 .2 .5 0 .4 .7 .5 1.6 .4 .4 .4-1.6 .5-1.2 .4-.5 .4-.6 .5 .4 .4 1.1 .4-.6 .5-1 .4 .5 .4 .1 .5-.4 .4 .3 .5-.3 .4-.8 .4-1.1 .5-.7 .4 .8 .4 .7 .5-.3 .4-1.9 .4-1.4 .5 .2 .4 1 .4 .8 .5-1.6 .4-1.2 .5 1.1 .4-.7 .4-2 .5-1.2 .4 .6 .4 1 .5-1.7 .4-2.7 .4-1.4 .5-.4 .4-.7 .4-1.6 .5-1.1 .4 .2 .5-1.2 .4-1.6 .4 .5 .5 .3 .4-.5 .4-.4 .5 .1 .4 .9 .4 .9 .5-.6 .4-.3 .4 1.7 .5 3.8 .4 2.3 .4-.3 .5-.4 .4 1.4 .5 2 .4-.9 .4-.5 .5 1.7 .4 .6 .4 1.2 .5 2.1 .4 0 .4 0 .5 .8 .4 .1 .4 .9 .5 1.2 .4 0 .5 .6 .4 1.3 .4 .4 .5-1.6 .4-1.7 .4 1.4 .5 2.6 .4-.5 .4-2.1 .5 0 .4 1.2 .4 1.4 .5 1.1 .4 .3 .5 0 .4-2 .4-1.7 .5 1.2 .4 .9 .4 0 .5 0 .4-.7 .4-1.5 .5 0 .4 1.8 .4 0 .5-.9 .4-.3 .5-.1 .4 1.2 .4 1.4 .5 .6 .4-.7 .4-1.2 .5 .5 .4 .6 .4-.1 .5 1.7 .4 1.2 .4-1.3 .5-1.5 .4-1.1 .5-1 .4 .4 .4 .5 .5-.3 .4 .5 .4-.4 .5-.4 .4 2.1 .4 .8 .5-2.2 .4-.8 .4 .9 .5-.3 .4-1.7 .4 0 .5 1.6 .4-.4 .5-.3 .4-.1 .4-.7 .5 .7 .4 1.2 .4 .9 .5-.3 .4-1.6 .4-.2 .5-.5 .4-2.6 .4 .2 .5 1.8 .4 0 .5-.3 .4 1 .4-.2 .5-2.3 .4-1.4 .4-.9 .5-1.2 .4 0 .4 .4 .5-.4 .4-1.9 .4-1 .5 .4 .4-.8 .5-1.2 .4-.1 .4 .1 .5-1.4 .4-1.8 .4-.7 .5-.5 .4-1.2 .4-1 .5-1 .4-2.7 .4-3 .5-1 .4-.3 .5-.8 .4-2 .4-1.8 .5-.9 .4-1.2 .4-1.2 .5-.6 .4-.1 .4 .2 .5 1.1 .4 1.2 .4 .6 .5 1.2 .4 2 .4 1.1 .5 1.3 .4 2 .5 .8 .4 1.4 .4 2.4 .5 1.9 .4 .6 .4 .3 .5 .7 .4 1.1 .4 .5 .5-.2 .4 1.2 .4 2.4 .5 1.3 .4-.4 .5 .7 .4 1.4 .4 .1 .5 1.5 .4 2.3 .4 .2 .5-.1 .4 .8 .4-.2 .5-.1 .4 .7 .4 1.1 .5 .4 .4-.6 .5-.3 .4-.8 .4 .7 .5 1.9 .4-1 .4-1.2 .5 .7 .4-.8 .4-1 .5 1.3 .4 1.9 .4 1.3 .5 .1 .4-.5 .5-.1 .4-.2 .4 1.2 .5 2.1 .4-.4 .4-2.7 .5-.5 .4 1.2 .4 .7 .5 .7 .4-.5 .4-1.5 .5 0 .4 1.7 .4 1.1 .5-.9 .4-.9 .5 0 .4 0 .4-.9 .5-1.1 .4 .6 .4 2.3 .5 .5 .4-.5 .4 .6 .5 0 .4-1 .4-.6 .5-1 .4-.3 .5 2 .4 1.7 .4-1 .5-.6 .4 0 .4-.1 .5 .9 .4-.5 .4-1.1 .5 1.5 .4 .8 .4-1.8 .5-.6 .4 .3 .5 .6 .4 .3 .4-.6 .5 0 .4 1.1 .4 .5 .5-.4 .4 .2 .4 .3 .5 .9 .4 1.1 .4-.6 .5-1.2 .4 1.2 .5 2 .4-.4 .4-2.8 .5-2.7 .4 .6 .4 1.4 .5 .7 .4 .7 .4-1.1 .5-1 .4 .5 .4-1.2 .5-.3 .4 3.1 .4 .9 .5-2.8 .4-1.8 .5 .9 .4 1.7 .4 .6 .5 .4 .4 .2 .4-1.2 .5-1.5 .4 .7 .4 2.1 .5 0 .4-1.9 .4-.9 .5-.2 .4 1.2 .5 1.6 .4 .4 .4-.1 .5-.5 .4 0 .4-.1 .5-.3 .4-.4 .4-.6 .5-.2 .4-1.3 .4 .5 .5 2.1 .4 .5 .5-.4 .4-.3 .4 .2 .5-.5 .4-.3 .4 1.6 .5 .9 .4-1.3 .4-1.4 .5-1.4 .4 0 .4 2.1 .5-.6 .4-3.1 .5-.3 .4 1.4 .4 1.4 .5 1.5 .4-.4 .4-.3 .5 .3 .4 .1 .4 .5 .5-.5 .4-.2 .4 .2 .5-.9 .4-1.7 .5-.6 .4 .8 .4 .6 .5 .9 .4 .6 .4-.3 .5-1.8 .4-.8 .4 1.2 .5-.7 .4-.6 .4 .2 .5 0 .4 1.2 .4-.7 .5-1.3 .4 1.2 .5 .1 .4-1.8 .4 .8 .5 2.8 .4 .5 .4-.9 .5-.6 .4 .1 .4 .3 .5-1.2 .4-2 .4-.2 .5 2.2 .4 1.7 .5 1.2 .4 .3 .4-1.5 .5-1.7 .4-1.1 .4-.1 .5 0 .4 .1 .4 .5 .5 0 .4 1.3 .4 .9 .5-1.1 .4 .3 .5 .4 .4-1.2 .4-.5 .5 .4 .4 .1 .4 .2 .5 .6 .4-.1 .4 .1 .5 .5 .4-.5 .4 .1 .5 1 .4-1.4 .5-1.8 .4 1.5 .4 .3 .5-2.6 .4-.2 .4 2.6 .5 1.4 .4-2.7 .4-3.3 .5 .7 .4 2.4 .4 1.3 .5 .5 .4 .5 .4-.7 .5-1.7 .4-1.2 .5 .7 .4-.3 .4-1.3 .5 1.3 .4 .7 .4-.5 .5-.2 .4-.3 .4-.5 .5-1.4 .4-.7 .4 .7 .5-.9 .4-1.6 .5 .1 .4 .6 .4 .3 .5 .2 .4 .1 .4 .2 .5 .9 .4 .7 .4 .1 .5-.1 .4 .3 .4 1.3 .5-.4 .4-1.8 .5 .7 .4 1.6 .4 1.2 .5-.6 .4-2.7 .4-1 .5 2.5 .4 2 .4-.8 .5 0 .4 .8 .4-.4 .5-.4 .4 .9 .5 2.2 .4 1.9 .4 0 .5-1.2 .4-.5 .4-.5 .5-1 .4 .3 .4 .4 .5-.1 .4-.4 .4 .3 .5 1.2 .4 .6 .4 .4 .5-.4 .4-1.3 .5-.1 .4 0 .4-1.7 .5-.7 .4 1 .4-.5 .5-1.1 .4 1.6 .4 1.8 .5 .1 .4 .5 .4 .5 .5-1.3 .4-2.3 .5-.9 .4 1.1 .4 0 .5-.7 .4 .3 .4 0 .5 .7 .4-.3 .4-2 .5 .2 .4 1.6 .4 .8 .5 .4 .4-1.4 .5-1.9 .4-1.2 .4-.7 .5 .5 .4 .6 .4-1.2 .5-.9 .4 .3 .4-.6 .5-.5 .4-.2 .4 .3 .5-.5 .4-1.7 .5-.4 .4-.1 .4-.5 .5-1.2 .4-.8 .4 1.5 .5-.5 .4-2.6 .4-.4 .5 .1 .4-1.4 .4 .2 .5 1 .4-.3 .4-.4 .5-.2 .4 .1 .5 .6 .4 .5 .4-.1 .5 0 .4-.6 .4-.1 .5 .7 .4-1.4 .4-1 .5 1.2 .4 1 .4 1.3 .5 2 .4 .6 .5-1 .4 0 .4 .8 .5-.3 .4 0 .4 .7 .5-.1 .4 .8 .4 .4 .5-1.4 .4 .1 .4 1.2 .5 .3 .4 .3 .5 0 .4-.8 .4-1.2 .5-1.2 .4 .8 .4 2.6 .5 .8 .4-.5 .4 0 .5 .7 .4-.5 .4-1.4 .5-.7 .4-1.3 .5-1.5 .4-.4 .4 .5 .5 .6 .4-.2 .4-.5 .5 .2 .4-1 .4-1.1 .5 1 .4 1.4 .4 .5 .5-1.2 .4-1.4 .5-.2 .4 .3 .4 0 .5-.1 .4-.1 .4 .9 .5 .5 .4 .2 .4 .5 .5-1 .4-.4 .4 1.8 .5 1.8 .4-.9 .4-1.2 .5-.2 .4 1.4 .5 2.9 .4 0 .4-.3 .5 1.3 .4-.1 .4-1.2 .5-.7 .4 0 .4 1 .5 1.4 .4 .9 .4-.5 .5-.2 .4 1.4 .5 .1 .4-.5 .4 .7 .5 0 .4 .2 .4 1.6 .5 .3 .4-.1 .4 1 .5 .5 .4 0 .4-.8 .5-1.5 .4 .3 .5 2.7 .4 1 .4-1.3 .5-.3 .4 .2 .4-.5 .5-.7 .4 0 .4 .8 .5 1.2 .4 .3 .4-.1 .5-1 .4-.8 .5 0 .4-.2 .4 .3 .5-.1 .4-.5 .4 1.4 .5 2.8 .4-.3 .4-2.5 .5-.7 .4 .2 .4-.2 .5 0 .4 .5 .4 .7 .5 .7 .4-.1 .5 .8 .4 .3 .4-1.4 .5 .5 .4 .2 .4-2 .5-.1 .4 1.9 .4-.3 .5-1.4 .4 .1 .4 .7 .5 0 .4-1.5 .5-.1 .4 1.4 .4 .6 .5 1 .4 .7 .4-.5 .5-1.7 .4-1.2 .4 1.7 .5 .6 .4-1.8 .4-.3 .5 .5 .4 0 .5-.4 .4-1.2 .4-.8 .5 2 .4 2 .4-.2 .5-.1 .4-.7 .4 .4 .5 .7 .4-.8 .4 .1 .5 1 .4 0 .5-.5 .4-1.2 .4-1.1 .5 2.4 .4 2.9 .4-1.5 .5-2.9 .4-1.2 .4 .3 .5 1.8 .4 1.5 .4-1.4 .5-1.8 .4 1.2 .4 1.1 .5-.6 .4-.9 .5-.4 .4 .9 .4 1.2 .5-.7 .4-1.2 .4-.1 .5-.5 .4-.2 .4 1.3 .5 0 .4-1.7 .4-.6 .5 2.7 .4 1.8 .5-2.3 .4-2.2 .4 .2 .5 2.2 .4 1.4 .4-.6 .5-.6 .4-.7 .4 .2 .5-.6 .4-1 .4 1.6 .5 1.7 .4 .2 .5-.6 .4 .3 .4-.4 .5-1.7 .4 1 .4 .6 .5-.6 .4-1.2 .4-2.1 .5 .3 .4 .9 .4 .9 .5 1.9 .4 .3 .5-2.5 .4-.4 .4 2.2 .5 .7 .4-.3 .4-.3 .5-.5 .4 .2 .4 .6 .5 .3 .4-1 .4-.4 .5 1.8 .4 2.2 .4 .1 .5-2.6 .4-.9 .5 1 .4-1.1 .4-2.2 .5-1.2 .4 1 .4 2.3 .5-.1 .4-2.4 .4-.5 .5 1.3 .4 .8 .4 1.1 .5 1.5 .4 .5 .5-.1 .4-1.1 .4-1.2 .5 .3 .4 .7 .4 .3 .5-.2 .4-1.3 .4 .2 .5 1 .4 .2 .4-.1 .5 .1 .4 1.6 .5 .5 .4-2.3 .4-.4 .5 1.4 .4 .2 .4 1.6 .5 1 .4-.8 .4-.2 .5-.1 .4 .2 .4-2.1 .5-2 .4 .8 .5 1.4 .4 1.6 .4 .6 .5-.5 .4 .3 .4 .4 .5-1.2 .4-.4 .4 1.3 .5-.4 .4-1.6 .4 .2 .5 .1 .4-.7 .5-.8 .4-1.3 .4 1.1 .5 1.5 .4-1.2 .4-1.1 .5-.4 .4 .4 .4 1.8 .5 1.1 .4 .4 .4 0 .5-1 .4 .4 .4 1 .5-1.5 .4-1.8 .5-.4 .4 .7 .4 1.5 .5 .2 .4 0 .4 .3 .5-.6 .4-.6 .4-.2 .5 1.2 .4 1.6 .4-1.2 .5-1.9 .4-.6 .5-.1 .4 1.3 .4 1.2 .5 .1 .4 .5 .4-.9 .5-1.7 .4-.1 .4 .3 .5-1.1 .4-1.3 .4 .2 .5 .5 .4-.1 .5-.8 .4 0 .4 1.5 .5 .8 .4-1.7 .4-1 .5 .5 .4-1.3 .4-.7 .5 1.3 .4-.6 .4-2 .5-.4 .4 .4 .5-.8 .4-.6 .4-.4 .5-.9 .4 .1 .4 1.1 .5 0" stroke="#000080"/>
<path d="M202.3 443.7l.4-.7 .5 .1 .4 1.3 .4 .8 .5-1.5 .4-1 .4 .8 .5 .1 .4 .8 .5 2.7 .4 .8 .4-1.5 .5-1.9 .4-.8 .4 .3 .5-.7 .4 .4 .4 .8 .5-1.5 .4-.9 .4 1.6 .5 .2 .4-1.6 .5 1.2 .4 2.6 .4 1.1 .5-.6 .4-1.2 .4-.7 .5 .5 .4 0 .4-1.9 .5 0 .4 1.1 .4-1 .5-1.2 .4 .7 .5 .3 .4-.8 .4 .3 .5 .4 .4-.2 .4 1.3 .5 .7 .4-1.9 .4 .3 .5 1 .4-1.8 .4-.6 .5 .8 .4 .9 .5 .8 .4 0 .4-1.1 .5-2.7 .4-.3 .4 2.3 .5-.4 .4-.9 .4 .7 .5-1 .4-1.7 .4 .4 .5 .8 .4-.7 .4 1.8 .5 3.1 .4-.3 .5-.6 .4-.7 .4-2.7 .5-.6 .4 1 .4 1.3 .5 3.1 .4 .7 .4-3.3 .5-1.7 .4 1.6 .4 2.5 .5 .7 .4-.6 .5-1.5 .4-1.4 .4-.8 .5-.2 .4-.2 .4-1 .5-.2 .4 1.5 .4 1.5 .5 0 .4-1.2 .4-.9 .5 0 .4-.1 .5-.3 .4 1.4 .4 1.8 .5 .2 .4-1.4 .4-1.5 .5 .3 .4-.2 .4-.7 .5 .4 .4 .6 .4 1.1 .5 .3 .4-.2 .5 .9 .4-.2 .4-.2 .5 .9 .4 .1 .4-1 .5-.9 .4 1 .4 .8 .5-1.6 .4-2 .4-.5 .5 2.1 .4 1.6 .4-1.5 .5-1.7 .4-.3 .5 1.6 .4 2 .4-.2 .5-2 .4-1.8 .4 1 .5 1.4 .4-.2 .4 .5 .5 .6 .4-1.5 .4-.7 .5 1.1 .4 0 .5 .4 .4 .3 .4-1 .5-1.1 .4-.8 .4 0 .5 .8 .4 1.7 .4 .2 .5-2.7 .4-2 .4 .4 .5 2.2 .4 2.2 .5 .5 .4-.5 .4-.7 .5-.1 .4 .8 .4 .5 .5 0 .4-1.6 .4-1.5 .5 1.3 .4 1.7 .4 .3 .5-.1 .4 0 .5-1.1 .4-1.7 .4-.7 .5 0 .4-.5 .4-.5 .5 1.3 .4 1.1 .4 .2 .5 1.2 .4-.6 .4-2.6 .5 1.1 .4 2.6 .5-.3 .4-.6 .4 .4 .5-.4 .4-.9 .4 .4 .5 .4 .4-.5 .4-.7 .5-.9 .4-1.2 .4 .9 .5 2.5 .4-.4 .4-2.8 .5-.2 .4 2.5 .5 .6 .4-.4 .4-.4 .5-1.4 .4-.5 .4 .3 .5-.5 .4 0 .4 .4 .5-.5 .4 .6 .4 1 .5-.6 .4 .4 .5 1.8 .4 .7 .4-2.1 .5-2.1 .4 0 .4 1.5 .5 .8 .4-.6 .4 .1 .5 .9 .4 .7 .4-1.1 .5-2.1 .4-.2 .5 1.3 .4 .7 .4-.1 .5 0 .4-.1 .4-1.5 .5 0 .4 1.7 .4-.6 .5-1.9 .4 .1 .4 1.8 .5 .3 .4-1.6 .5-.4 .4 .5 .4 0 .5 .9 .4 1.2 .4-.2 .5-.4 .4-.5 .4-1.2 .5 .4 .4 1.1 .4-.2 .5-.8 .4 .4 .4 .6 .5-1.4 .4-.8 .5 .8 .4 1.3 .4-.6 .5-1.5 .4 .7 .4 0 .5-1.6 .4 1.6 .4 1.6 .5-1.7 .4-.4 .4 1.1 .5 .2 .4 0 .5-1.1 .4-.7 .4 .4 .5-.6 .4 1 .4 1.9 .5-1.1 .4-1.7 .4 .3 .5-.5 .4-.7 .4 1.8 .5 1.4 .4 .2 .5-.2 .4-1.1 .4 .4 .5-.1 .4-1.4 .4-.7 .5 .1 .4 1.7 .4 .6 .5-1.8 .4-.4 .4 2.2 .5 .2 .4-1 .5 .8 .4 .9 .4 .4 .5 0 .4 .1 .4 .9 .5-.7 .4-2.1 .4-.1 .5 .6 .4-.7 .4-.2 .5 .4 .4 0 .4 .1 .5-.5 .4-1.4 .5 .8 .4 .5 .4-1.1 .5 .2 .4-.4 .4-1 .5 0 .4 .9 .4 1.2 .5 1.1 .4-.2 .4-1.7 .5 .2 .4 2.3 .5-.8 .4-1.9 .4 .2 .5-.4 .4-.1 .4 .4 .5 0 .4-.2 .4 .6 .5 1.3 .4-.2 .4 .3 .5 .5 .4-1.6 .5-1.9 .4-.3 .4 .7 .5 .5 .4-.4 .4-.5 .5-.3 .4-1.1 .4 0 .5 2.1 .4 1.6 .4-.8 .5-.4 .4 1.1 .5-.1 .4-1.5 .4-1.2 .5 .2 .4 1.6 .4 .4 .5-.7 .4-1.5 .4-1.3 .5 1.7 .4 1.8 .4 .4 .5-.3 .4-1.5 .4-.7 .5 1.6 .4 1 .5-1.9 .4-1.3 .4 .6 .5 .3 .4 .8 .4 .8 .5-.4 .4-.8 .4-.5 .5 .4 .4 .9 .4 .9 .5 1 .4 .3 .5-.9 .4-1.8 .4-.3 .5 .3 .4 .5 .4 .4 .5 .1 .4 0 .4-.5 .5-.5 .4-.6 .4 .5 .5 .2 .4-.9 .5-.4 .4 0 .4 1.3 .5 .9 .4-.4 .4 .1 .5-.2 .4 .2 .4 .2 .5-.5 .4 .4 .4-.7 .5-1.7 .4 .3 .5 .8 .4-.1 .4-.7 .5-1.9 .4-1.1 .4 1.2 .5 1.2 .4 .2 .4 .8 .5 .3 .4-.5 .4 .3 .5-1 .4-.6 .5 1.6 .4-.2 .4-.5 .5-.4 .4-.7 .4 1.7 .5 1.9 .4-.9 .4-1.2 .5 1.2 .4 .5 .4-1.2 .5-.1 .4 .5 .4-.3 .5-.7 .4-.6 .5 .1 .4 .4 .4 .2 .5-.1 .4-.1 .4 0 .5 .7 .4 0 .4 .1 .5 1.3 .4 .3 .4-1.2 .5-1.2 .4-1 .5-.6 .4 0 .4-.4 .5 .5 .4 1.1 .4 .5 .5 1.4 .4 .3 .4-.9 .5-.7 .4 .8 .4 .5 .5-1.9 .4-1 .5 1.5 .4 .4 .4-2.3 .5-2.2 .4 1.1 .4 2.9 .5 1 .4-1.4 .4-1.1 .5 .4 .4 .4 .4 .2 .5 1 .4-.4 .5-2.5 .4-1.8 .4 1.1 .5 2.7 .4 .7 .4-1 .5-.5 .4 .2 .4 1.5 .5 .2 .4-1.6 .4-.7 .5-.6 .4 .6 .4 2.1 .5-.2 .4 .4 .5 1.9 .4-1.7 .4-3 .5 .8 .4 2.5 .4 .4 .5-.8 .4-2.2 .4-1.6 .5-.4 .4-1.7 .4 .3 .5 2.5 .4 2 .5 .7 .4-1.6 .4-.8 .5 .4 .4-1 .4-.2 .5 .8 .4-.3 .4 .5 .5 2 .4-.2 .4-.6 .5 1.1 .4 .4 .5-.6 .4-1.2 .4-.2 .5-.2 .4-1 .4 .6 .5 1.2 .4-.3 .4-1.1 .5 1 .4 1.8 .4-.3 .5-1.6 .4-.7 .5 .7 .4 0 .4-.1 .5 .4 .4 .3 .4-.3 .5 .2 .4 .7 .4-1 .5-.9 .4 .8 .4 .4 .5-.3 .4-.1 .4 0 .5-.7 .4-.2 .5 1.3 .4 0 .4-2.3 .5-.6 .4 .7 .4-1.4 .5-1 .4 2 .4 2.3 .5 .2 .4-.8 .4 .6 .5 .4 .4-.5 .5-.3 .4-1.1 .4-.5 .5 .8 .4-.4 .4-2.6 .5-.6 .4 2.1 .4 1.1 .5-1 .4-.5 .4-.2 .5-.6 .4 1.1 .5 0 .4-.3 .4 1.9 .5 .7 .4-.5 .4 .2 .5 .2 .4-1.6 .4-1.4 .5 2.2 .4 .5 .4-1.8 .5 .7 .4 2 .5 1.7 .4-1 .4-1.9 .5-.2 .4-1.1 .4-1.1 .5 1.2 .4 1.5 .4-.4 .5-1.8 .4-.3 .4 .8 .5 .6 .4 1.4 .4 .8 .5-.5 .4 .1 .5 .7 .4-1.9 .4-1.9 .5 1.1 .4 1.2 .4 1.1 .5 .8 .4-1.2 .4-1.3 .5-.7 .4-1.1 .4 .4 .5 1 .4 .7 .5-.1 .4-1 .4 .8 .5 0 .4-1.2 .4 .1 .5 .8 .4 .4 .4-.8 .5-1.1 .4-1.7 .4-.5 .5 2 .4 1.7 .5 1.2 .4-.5 .4-1.6 .5 0 .4-.7 .4-.8 .5 .5 .4 .9 .4 1.5 .5-.2 .4-1 .4 .3 .5 0 .4-.4 .5-1.5 .4-2.3 .4-.6 .5 .5 .4 1.1 .4 1.1 .5 .8 .4 1.7 .4 1.7 .5-.1 .4-.8 .4 .1 .5 .4 .4-.5 .5-.2 .4-.2 .4-.6 .5-.4 .4 .1 .4-.4 .5-1.6 .4-.2 .4 1.3 .5 .5 .4 .6 .4-.4 .5-1.7 .4 .8 .4 2.2 .5 .6 .4-1.2 .5-1.4 .4 1.6 .4 1.2 .5-.3 .4 .4 .4-.7 .5-1.1 .4 .1 .4 .8 .5 .6 .4-.2 .4-.6 .5-1.1 .4 .2 .5 1.4 .4-.2 .4-1.3 .5-.9 .4 .1 .4 .8 .5 .8 .4 1.2 .4 0 .5-1.9 .4-1.2 .4 1.4 .5 2 .4 .2 .5-1.8 .4-1.6 .4 .6 .5 1.3 .4-.8 .4-1 .5-.2 .4 .8 .4 .2 .5-2.2 .4-.7 .4 1.8 .5 1.9 .4 .6 .5-1 .4 .8 .4 1.5 .5-1.7 .4-2.7 .4-.3 .5 1.3 .4 1.7 .4 .9 .5-.5 .4-.1 .4-1.7 .5-1.9 .4 1.1 .4 1.3 .5 .2 .4-.5 .5 1 .4 1.7 .4 .2 .5-1.5 .4-1.6 .4-.7 .5-1.4 .4-1.3 .4 0 .5 2.1 .4 2.1 .4-.1 .5-.2 .4 .1 .5-1.9 .4-.4 .4 1.6 .5 0 .4-.1 .4 1.1 .5 1.3 .4-.4 .4-1.5 .5 .5 .4 .8 .4-1.3 .5-1.4 .4-.2 .5 .1 .4 1.6 .4 .4 .5-1.4 .4-.9 .4-.1 .5 .4 .4 1.6 .4 1.2 .5-1.5 .4-.7 .4 .2 .5-.9 .4 .9 .5 1.2 .4-1 .4-.6 .5 .3 .4-1.3 .4-1.1 .5 2.4 .4 2.1 .4-1.5 .5-1.6 .4 1.1 .4 2.7 .5 2 .4-1.4 .4-3.3 .5 .3 .4 2.1 .5-1.8 .4-2 .4 .5 .5-.6 .4-1.3 .4 1.1 .5 3.1 .4 .9 .4-.8 .5-.1 .4-.6 .4-.7 .5 1.1 .4 .6 .5-.7 .4-1 .4-2.4 .5-.8 .4 2.1 .4 .6 .5-.2 .4 1 .4 .4 .5-1.2 .4-.6 .4 1.5 .5-.8 .4-1.6 .5 .9 .4 .4 .4-.2 .5 .2 .4 .2 .4 .5 .5 .8 .4-.2 .4-.2 .5 .2 .4-1.4 .4-.9 .5 .4 .4 .2 .5 .5 .4-.1 .4 .2 .5 1.5 .4-.1 .4-1.6 .5-.1 .4 1.6 .4 .7 .5-.5 .4-.1 .4-.8 .5-1.9 .4 .3 .4 2.5 .5 .9 .4-.6 .5 .9 .4 .9 .4-1 .5-1.5 .4-.6 .4 1.1 .5 1.4 .4-.9 .4-1.4 .5-.1 .4 .8 .4 .4 .5-.3 .4 .6 .5-.2 .4-1.6 .4-1 .5-.3 .4 .1 .4 0 .5 .6 .4 2.3 .4 .7 .5-1 .4-.5 .4-.9 .5-1 .4 .2 .5 1.6 .4 1.2 .4-1.2 .5-1.9 .4 .7 .4 1.4 .5-.8 .4-1 .4-.4 .5 0 .4 .1 .4-.4 .5 .9 .4-.2 .5-2 .4 1.3 .4 2.4 .5-.2 .4-2 .4-1.2 .5 1.2 .4 1.8 .4 1.1 .5-.9 .4-1.1 .4 .4 .5-.4 .4-.2 .5 .7 .4-.5 .4 .1 .5 .6 .4 0 .4-.2 .5-.9 .4 .1 .4 1.5 .5-.2 .4-1.1 .4-.3 .5 .5 .4 .6 .4-.1 .5-.9 .4-.5 .5-.2 .4-.4 .4 0 .5 .6 .4 1 .4-.3 .5-1.2 .4-.5 .4 .6 .5 .9 .4 .1 .4 .5 .5 .2 .4-1.8 .5-.4 .4 1.3 .4-.4 .5-.6 .4 .4 .4 .2 .5-.1 .4-.1 .4 .4 .5-.2 .4-.7 .4 .5 .5 1.3 .4 0 .5 .1 .4 .7 .4-1.5 .5-.9 .4 1.4 .4 .3 .5-.6 .4-.3 .4 .8 .5-1 .4-2.6 .4 .6 .5 2.4 .4 1 .5-.9 .4-.3 .4 .2 .5-1.3 .4-1.4 .4 .3 .5 1.3 .4 1.1 .4 .2 .5-.1 .4 .1 .4 .2 .5-1 .4-2.4 .4-.7 .5 0 .4 1 .5 3.1 .4 .7 .4-1.6 .5-1.1 .4-1.3 .4-1.1 .5 1.1 .4 2 .4 .6 .5-.7 .4-.7 .4-.7 .5 .7 .4 1.6 .5 0 .4-.4 .4-.6 .5-1.4 .4-.5 .4 1.4 .5 1.6 .4 .1 .4-.2 .5 .2 .4-1.3 .4-1.4 .5-.6 .4 .3 .5 1.1 .4 .1 .4-.8 .5-.5 .4 .3 .4 .3 .5-1 .4-.2 .4 1.2 .5-.4 .4-.6 .4 .7 .5 1 .4 .6 .5 0 .4-.5 .4 .1 .5 .6 .4-.3 .4-1.1 .5-.3 .4 .4 .4-1 .5-.2 .4 1.1 .4-1.4 .5-1.7 .4 .9 .4 1.3 .5 0 .4-1.4 .5-.8 .4 .6 .4-.3 .5-.2 .4 1 .4-.2 .5-1 .4 1.3 .4 1.4 .5-1.4 .4-.8 .4 .4 .5-.9 .4-1.7 .5-.4 .4 1 .4 1 .5 1.1 .4 .5 .4-1.4 .5-2.3 .4-.2 .4 1.5 .5 1.3 .4 .3 .4-.9 .5-1.8 .4-1.3 .5-.1 .4-.1 .4-1.2 .5-1.6 .4-1.2 .4-.3 .5 0 .4-1.4 .4-3 .5-1.6 .4-.9 .4-2.6 .5-1.5 .4-.2 .5-.8 .4-1.8 .4-2 .5-1.7 .4-1.4 .4-.8 .5-.5 .4-.5 .4 .1 .5 .5 .4 .7 .4 .3 .5 .1 .4 1.4 .4 3.1 .5 2.8 .4 .8 .5 .7 .4 2.3 .4 1.3 .5 .4 .4 2 .4 3.5 .5 3.1 .4 .6 .4-.7 .5 1.3 .4 1.5 .4 .1 .5 .9 .4 0 .5-.9 .4 1.6 .4 2.3 .5 .6 .4-1.2 .4-1.2 .5 .2 .4 1.2 .4 1.4 .5-.4 .4-.8 .4 .9 .5 0 .4-.1 .5 .5 .4-.8 .4 .2 .5 1.6 .4 .1 .4-.5 .5-.1 .4-.7 .4 .5 .5 .5 .4-1.4 .4-1.5 .5-.5 .4 .5 .5 .4 .4 .4 .4 .9 .5 .4 .4-1.7 .4-1.4 .5 .1 .4-.3 .4 .4 .5-.5 .4-1 .4 1.1 .5 1.3 .4 .3 .5-1.1 .4-1.7 .4-.1 .5 .1 .4-.5 .4 .7 .5 1.4 .4-.4 .4-1.9 .5-.3 .4 .2 .4 .1 .5 0 .4-1.6 .4-1.6 .5 0 .4 1.8 .5 1.3 .4-.8 .4-.6 .5 1.9 .4 .5 .4-1.4 .5-.1 .4 .2 .4-.6 .5-1.7 .4-.9 .4 .4 .5-.5 .4-1.4 .5 .2 .4 .8 .4-.1 .5-1.1 .4-2.5 .4-1.6 .5-.2 .4-1.6 .4-.7 .5 1 .4 .5 .4 .6 .5-.7 .4-3 .5-3.1 .4-.2 .4 .7 .5-1.5 .4-2.2 .4-1.3 .5-.8 .4-2 .4-2.3 .5-1.7 .4-2.6 .4-3.9 .5-3.8 .4-3.2 .5-3.6 .4-3.9 .4-4.1 .5-5.5 .4-6.1 .4-5.8 .5-7 .4-7.4 .4-7.7 .5-9 .4-9.6 .4-10.1 .5-11.1 .4-11.9 .4-12.3 .5-12.9 .4-14 .5-14.6 .4-15 .4-15.3 .5-15.7 .4-15.7 .4-15.6 .5-14.8 .4-13.8 .4-12.9 .5-11.5 .4-9.5 .4-7.3 .5-5 .4-2.3 .5 .5 .4 3.8 .4 6.9 .5 9.5 .4 12.1 .4 14 .5 15 .4 16 .4 16.8 .5 16.7 .4 16.6 .4 16.6 .5 16.2 .4 15.2 .5 14.5 .4 13.6 .4 12.6 .5 12.4 .4 11.7 .4 10.3 .5 9 .4 8.1 .4 7.8 .5 7.1 .4 6.1 .4 5.9 .5 5.3 .4 4.4 .5 3.4 .4 3 .4 3.2 .5 3 .4 2.4 .4 1.9 .5 2.2 .4 .9 .4 .9 .5 3.1 .4 1.7 .4 .4 .5 1.7 .4 2.4 .4 2.4 .5 .7 .4-1.1 .5 .6 .4 1.2 .4-.4 .5-.9 .4 1.2 .4 2.8 .5 .5 .4-.6 .4-.1 .5-.1 .4 1.1 .4-.3 .5-1.7 .4 .5 .5 1 .4-.6 .4 .1 .5 .2 .4-.1 .4 1.3 .5-.7 .4 .2 .4 2.3 .5-1.2 .4-.6 .4 2.1 .5-1 .4-1.3 .5 .5 .4-1.3 .4-1 .5 1.7 .4 .1 .4-1.6 .5 1.3 .4 1.4 .4-.8 .5-1.4 .4-1.1 .4-.1 .5 1.1 .4 .7 .5-1.6 .4-.6 .4 1.3 .5-.5 .4-2.4 .4-.7 .5 .5 .4-1.7 .4-1.8 .5 1.3 .4-.1 .4-1.7 .5 0 .4-1.3 .4-2.2 .5-.7 .4-.2 .5-.3 .4-.8 .4-1.3 .5-2.4 .4-2.1 .4-.9 .5-.7 .4-1.2 .4-.7 .5-.1 .4-1.8 .4-2.6 .5-2.4 .4-2.7 .5-1.3 .4-1.4 .4-2 .5-2.9 .4-4.1 .4-2.7 .5-2.9 .4-4.6 .4-3.5 .5-2.3 .4-3.9 .4-4.3 .5-3.8 .4-5 .5-5 .4-5.3 .4-6.1 .5-5.4 .4-6 .4-7.2 .5-7.3 .4-7.1 .4-7 .5-7.6 .4-8 .4-8 .5-8.4 .4-8.9 .5-8.9 .4-8.6 .4-9.1 .5-9.7 .4-9.2 .4-8.8 .5-8.6 .4-8 .4-7.5 .5-7.4 .4-6.2 .4-4.8 .5-4.1 .4-3.2 .5-2.2 .4-1.2 .4 .8 .5 2.7 .4 4.5 .4 6.6 .5 8.1 .4 9.3 .4 10.6 .5 11.4 .4 11.9 .4 11.7 .5 11.8 .4 11.6 .4 11.7 .5 11.6 .4 11.5 .5 10.6 .4 9.5 .4 9.3 .5 9.2 .4 8.1 .4 7.6 .5 7.4 .4 6.8 .4 6 .5 6.7 .4 6.2 .4 4.9 .5 4.3 .4 4 .5 4 .4 3.1 .4 2.8 .5 3.3 .4 3.9 .4 3.6 .5 1.6 .4 .9 .4 2 .5 2.4 .4 2.1 .4 2.9 .5 1.8 .4 .6 .5 1 .4 1.1 .4 1.2 .5-.2 .4-.1 .4 1.8 .5 1.3 .4 1.8 .4 1.7 .5-.6 .4-.2 .4 2.5 .5 1.7 .4-.8 .5 .5 .4 .7 .4-.9 .5 2.1 .4 3.5 .4 .4 .5-.6 .4 .8 .4-.6 .5-.6 .4 .8 .4 .9 .5 1.1 .4 .2 .4-.3 .5-.1 .4 .1 .5 1.3 .4 .7 .4-1.1 .5-.2 .4-.2 .4-1.1 .5 .6 .4 1 .4 .5 .5 .7 .4-.1 .4-.5 .5 .4 .4 1.3 .5 .8 .4-.1 .4-1.4 .5-.5 .4 1.3 .4-.1 .5 .4 .4 .7 .4 .3 .5 .6 .4 .4 .4 .9 .5-.9 .4-.5 .5 2 .4 1.2 .4-1.3 .5-2.8 .4-.3 .4 1.2 .5 1.3 .4 .9 .4-1.1 .5-1.6 .4-.3 .4-.1 .5 1 .4 2.3 .5 .3 .4-2 .4-.9 .5 .4 .4 .4 .4-.4 .5-2.3 .4 .4 .4 2.7 .5 .4 .4-.1 .4 .1 .5-.6 .4 .5 .4 .9 .5-.2 .4-1.5 .5-.7 .4 1.1 .4 .8 .5-.8 .4-.4 .4 1 .5 .7 .4-.8 .4-1.3 .5 0 .4 0 .4-1.1 .5 .6 .4 2.2 .5 .3 .4-1.5 .4-.4 .5 .8 .4 .6 .4-.5 .5-.4 .4 .2 .4-1.4 .5-2.2 .4-.9 .4 1.1 .5 1.7 .4-.3 .5-1 .4-.4 .4 .7 .5 1.2 .4 .4 .4-.3 .5-.5 .4-1.4 .4-.5 .5 1.9 .4 .4 .4-2.6 .5-.5 .4 2.5 .5 1.5 .4-.3 .4-.5 .5 .4 .4 1.6 .4 .9 .5-1.6 .4-1.1 .4 .2 .5 .4 .4 .1 .4-1 .5-1.6 .4-.1 .4 2.4 .5 1.7 .4 .2 .5-.3 .4 0 .4-.3 .5-1.7 .4 .5 .4 .5 .5-1.2 .4 .8 .4 1.6 .5 .6 .4-.8 .4-2.2 .5 .4 .4 1.1 .5-.4 .4 .5 .4-.7 .5-1.3 .4 .3 .4 1 .5 1.2 .4 1.1 .4-1 .5-2.2 .4-.4 .4 1 .5 1.8 .4 1.3 .5-.2 .4-1.6 .4-.4 .5 .8 .4 .3 .4-.4 .5-.8 .4-.5 .4-.2 .5 0 .4 .7 .4 1.1 .5-.4 .4-1.3 .5-.4 .4 .2 .4-.5 .5-.5 .4 1.2 .4 2.3 .5 .1 .4-.7 .4-.1 .5-.3 .4 .4 .4-.1 .5-.4 .4 .1 .5-.3 .4-.3 .4 0 .5-1 .4-.7 .4 .9 .5 .6 .4 1 .4 .3 .5-.5 .4 .2 .4-.9 .5-.6 .4 1.4 .4 .5 .5 .1 .4 .7 .5 .1 .4-.9 .4-.7 .5 .7 .4 .6 .4 .3 .5-.3 .4-1.4 .4-1.3 .5-.2 .4 2.8 .4 2.3 .5-1.1 .4-1.3 .5-.7 .4-.7 .4-.3 .5 .4 .4-.3 .4 .1 .5 .3 .4 0 .4 .5 .5-.6 .4-1.7 .4-.5 .5 1.6 .4 2.3 .5 0 .4-1.2 .4-1.3 .5-.6 .4 .7 .4-.2 .5-.9 .4 .7 .4 1.9 .5 .2 .4-1.4 .4 .1 .5 .5 .4-1 .5-1.3 .4 .6 .4 2.1 .5 2 .4-.1 .4-1.4 .5 .1 .4 0 .4 0 .5 .7 .4-.6 .4-1.1 .5 .5 .4 .6 .4 .4 .5 .5 .4 0 .5-1.4 .4-.8 .4 .5 .5-.5 .4-.6 .4 1.2 .5 2.3 .4 .1 .4-2.3 .5-1.1 .4-.5 .4 0 .5 1.5 .4 .8 .5-.2 .4-.2 .4-.1 .5-.1 .4-.6 .4 .1 .5 0 .4 0 .4-.6 .5-1 .4 .4 .4 1.1 .5 1.5 .4 .4 .5-1.1 .4-.4 .4 0 .5-1.1 .4-1 .4 .3 .5 .5 .4-.7 .4-.9 .5 .8 .4 1.6 .4 .1 .5-1.8 .4-1.1 .5 1.5 .4 1.1 .4-1.3 .5-.1 .4-.1 .4-2.2 .5-.6 .4 .1 .4-.9 .5-.2 .4 .3 .4 0 .5-.6 .4-.1 .4 .3 .5 .1 .4 0 .5 .3 .4-.4 .4 0 .5 1.4 .4 1.1 .4 .8 .5-.3 .4-1.6 .4 .2 .5 1.8 .4 .4 .4-.4 .5-.9 .4-.7 .5 1.1 .4 .6 .4-.1 .5 .5 .4-.5 .4-.6 .5 0 .4 .9 .4 1.4 .5-.8 .4-1.4 .4-.7 .5 1.2 .4 2.3 .5 .8 .4-.5 .4-.8 .5-.1 .4-.8 .4-1.1 .5 .6 .4 .6 .4-.6 .5 .1 .4 1.6 .4 1.2 .5 0 .4-2.1 .5-1 .4-.2 .4-1.4 .5 .3 .4 1.4 .4 1.2 .5 .6 .4-1.3 .4-1.8 .5 1.1 .4 1.4 .4-2 .5-1.7 .4 .2 .4 .1 .5 1.1 .4 0 .5-2.1 .4-.8 .4 1 .5 1.2 .4 .2 .4 .5 .5 .3 .4-1.9 .4-1.1 .5 .1 .4 .3 .4 1.1 .5 .2 .4-.5 .5-.7 .4-.5 .4 .6 .5 .6 .4-1.1 .4-2.2 .5-1.2 .4-1 .4-.5 .5 1 .4 1.2 .4 .4 .5-.8 .4-2.2 .5-2.1 .4-1.3 .4 .2 .5 .6 .4-.6 .4-.7 .5-.3 .4-1.1 .4-1 .5-1.3 .4-2.2 .4-1.4 .5-1 .4-2.2 .5-2.3 .4-1.1 .4-.3 .5-2.7 .4-3.6 .4-1.6 .5-1.7 .4-2.9 .4-2.5 .5-2.3 .4-2.7 .4-3.6 .5-4 .4-3.2 .5-2.4 .4-2.4 .4-1.7 .5-1.6 .4-1.5 .4-1.1 .5-.3 .4 .4 .4 1.1 .5 1.3 .4 1.5 .4 2.6 .5 2.8 .4 2.6 .4 3.2 .5 3.2 .4 3.8 .5 2.2 .4 1.2 .4 3.2 .5 2.6 .4 2.6 .4 3.7 .5 1.7 .4 .6 .4 1.1 .5 2.2 .4 2.4 .4 .8 .5 .3 .4 .8 .5 2.2 .4 2.4 .4 .6 .5 .3 .4 .4 .4-.7 .5 0 .4 2.2 .4 2 .5 1.2 .4 .9 .4 .4 .5-.1 .4 .3 .5 1 .4 .2 .4-.6 .5 .5 .4 1.2 .4 .6 .5-.1 .4 0 .4 .3 .5 .4 .4-.1 .4-.6 .5-.5 .4 .5 .5 1.3 .4 .7 .4-1.4 .5-.5 .4 .7 .4-.6 .5 .5 .4 1.7 .4-1.3 .5-1.8 .4 .2 .4 .2 .5 .9 .4 .8 .4-1.1 .5 .1 .4 .8 .5 .8 .4 1 .4-1.3 .5-.7 .4 1.9 .4 1.1 .5-1 .4 .4 .4 .1 .5-1.5 .4-.2 .4 .1 .5 .3 .4 1 .5 .6 .4-.1 .4-.7 .5-.4 .4 1.1 .4 1 .5-.3 .4-.9 .4-1.4 .5-.4 .4 1.3 .4 1.3 .5 .2 .4 0 .5 .1 .4-1.2 .4 .2 .5 1.7 .4-.6 .4-1.6 .5-.7 .4-1.1 .4 .6 .5 1.9 .4 0 .4-.3 .5 .3 .4 0 .5-.1 .4-.1 .4 .2 .5 .9 .4 .8 .4-.4 .5 .7 .4 1 .4-.9 .5-1 .4-.4 .4 1.2 .5 1.1 .4-1 .4-1.2 .5 .3 .4-.4 .5-2.7 .4-.4 .4 2.1 .5 .6 .4-.1 .4 .9 .5 1 .4 .3 .4 .3 .5 .5 .4-.5 .4-1.6 .5 .2 .4 .8 .5-1.4 .4-.8 .4 2.1 .5 1.3 .4-.4 .4-.3 .5-1 .4-.9 .4 .6 .5 .7 .4-.2 .4-.6 .5 .4 .4 .2 .5-.8 .4-.6 .4-.5 .5-.5 .4 1 .4 1.1 .5-.5 .4-.2 .4-.3 .5-1.1 .4 .9 .4 2.2 .5 0 .4-.8 .5 .1 .4 .4 .4 .6 .5 .2 .4-.5 .4-.8 .5-1.1 .4 .4 .4 1.7 .5-.7 .4-1.4 .4-.1 .5 .4 .4-.5 .4-1.4 .5 .4 .4 1.3 .5-.5 .4-1.3 .4-1.7 .5-.9 .4 1.4 .4 1 .5 .8 .4-.1 .4-1.1 .5 1.5 .4 .6 .4-3 .5-2.1 .4 .6 .5 .6 .4-.2 .4-.6 .5-.8 .4 0 .4 .3 .5-.6 .4-1.4 .4 0 .5 .9 .4-.5 .4-1.9 .5-1.6 .4 1.2 .5 .6 .4-2.7 .4-1.7 .5-.3 .4-.6 .4 .3 .5 0 .4-1.6 .4-1.4 .5-.7 .4-.7 .4 .1 .5-.3 .4-.2 .5 .2 .4-.1 .4-.1 .5-.2 .4-.1 .4 .8 .5 1.2 .4 .8 .4 2 .5 1 .4 .4 .4 1.3 .5 .2 .4-.3 .5 .7 .4 .1 .4 .2 .5 2.6 .4 2.7 .4 1.2 .5 .2 .4-.5 .4-.2 .5 .2 .4 .5 .4 1 .5 1.8 .4 1.2 .4 0 .5-.5 .4-.3 .5 .5 .4 .9 .4 .1 .5-.4 .4-.8 .4-.1 .5 1.4 .4 .3 .4-.7 .5-.2 .4 .4 .4-.1 .5-.5 .4 1.1 .5 .9 .4-1.5 .4-.4 .5 2.1 .4 .2 .4-1.3 .5-.2 .4-.4 .4 .3 .5 .8 .4 .9 .4 1 .5-1 .4-1.2 .5-.3 .4-.2 .4 .8 .5-.5 .4 0 .4 1.2 .5 .2 .4 1.1 .4 .5 .5-.3 .4-.4 .4-1.4 .5-.5 .4 1.1 .5 1 .4-1.5 .4-2 .5 .7 .4 1.1 .4-1.2 .5-.9 .4 1.5 .4 1.3 .5-1.2 .4-1.4 .4 .1 .5 .8 .4 1.1 .4 1.1 .5 1.3 .4-.5 .5-1.4 .4 .8 .4-.3 .5-1.9 .4-1.3 .4-.5 .5 1.7 .4 .9 .4-2 .5-.6 .4 1.3 .4 1 .5-.2 .4-.4 .5-.3 .4-.8 .4-.2 .5 .1 .4-.3 .4 .4 .5-.1 .4-.3 .4 .8 .5 0 .4-.9 .4 .4 .5 1.3 .4 .9 .5-.6 .4-2.3 .4-.7 .5 1.3 .4 .4 .4-1.5 .5-.7 .4 2.2 .4 1.2 .5-1 .4-.9 .4 .4 .5 1.1 .4-.5 .5-.7 .4-.6 .4-.6 .5 .1 .4-.7 .4 1.5 .5 2.7 .4-.4 .4-.9 .5 .9 .4 .6 .4-2.1 .5-3.3 .4-.6 .4 1.9 .5 1.6 .4 1 .5-.3 .4-2 .4-1.7 .5 1.6 .4 1.8 .4-1.1 .5-.3 .4 .7 .4 0 .5 .1 .4 .4 .4 1.1 .5-.9 .4-1.4 .5 1.4 .4 .6 .4-1.4 .5-1 .4 .3 .4 1.1 .5 1.1 .4-.3 .4-1.3 .5-.2 .4-.2 .4-.9 .5-.2 .4-.8 .5 .1 .4 2 .4 2.5 .5 1.4 .4-1.3 .4-1.8 .5 .1 .4 .2 .4-.8 .5-1.1 .4-.4 .4 1.5 .5 1.8 .4-.7 .5-2.6 .4-.7 .4 .4 .5-1 .4-.1 .4 1.6 .5 1.1 .4-1.5 .4-2.9 .5-.1 .4 1.4 .4-.3 .5-.6 .4-.9 .4-.5 .5 .3 .4-1.1 .5-1.1 .4 .1 .4-.7 .5-.7 .4 .5 .4 .7 .5-1 .4-2.2 .4-.3 .5-.5 .4-1.7 .4-.6 .5-.1 .4-.4 .5-1.1 .4-1 .4 .2 .5 0 .4-1 .4-2.6 .5-2.2 .4-.6 .4 .1 .5-.5 .4-2 .4-2.2 .5-.7 .4 0 .5-.4 .4-.3 .4 0 .5 .2 .4 .2 .4 .8 .5 .8 .4 .8 .4 1.2 .5 1.3 .4 .6 .4 1.1 .5 2.5 .4 .9 .5-.6 .4 .7 .4 .9 .5 .6 .4 .2 .4 1.1 .5 2 .4 1 .4 .7 .5 1.7 .4 1.4 .4 .2 .5-.7 .4 .3 .5 2 .4 .9 .4-.3 .5 .9 .4 1.4 .4 .5 .5-.4 .4-.2 .4-.2 .5-.7 .4 .5 .4 1.1 .5-.3 .4 0 .4 1.7 .5 .6 .4-1.2 .5-.3 .4-.1 .4-.7 .5 .7 .4 1.1 .4 .1 .5 0 .4 .9 .4 .6 .5-.2 .4 .5 .4-1.2 .5-1 .4 .8 .5 .1 .4-1 .4-.8 .5 .4 .4 1.5 .4 1.8 .5 .2 .4-1.1 .4-.6 .5 .2 .4-.1 .4-.7 .5 0 .4 .4 .5 .1 .4 1.6 .4 .9 .5-.5 .4-.1 .4-1 .5-.6 .4 .9 .4 .4 .5-.5 .4 0 .4-.1 .5-.4 .4-.4 .5-.4 .4-.4 .4-.4 .5 .3 .4 1.3 .4-.4 .5-1.7 .4-.6 .4 .1 .5-.1 .4 .1 .4 .9 .5 .1 .4-.2 .4 .6 .5 .2 .4 .4 .5 .1 .4-1 .4 .5 .5 2.1 .4-.2 .4-1.4 .5-.2 .4-.3 .4-1.1 .5-.7 .4 1.6 .4 1.3 .5-.6 .4-.5 .5 .3 .4-1.3 .4-2.3 .5-.2 .4 .3 .4 .2 .5 .2 .4-.5 .4 0 .5-.5 .4-.8 .4-.6 .5-.2 .4 .6 .5-.2 .4-1.4 .4-.4 .5-.2 .4-1.5 .4-1 .5 .8 .4 .8 .4-.3 .5-.4 .4-1.3 .4-2.7 .5-1.8 .4 .5 .5 .7 .4-2 .4-3.9 .5-1.8 .4 .1 .4-1 .5-.9 .4-.9 .4-1.8 .5-.8 .4-1.1 .4-2.9 .5-2.9 .4-2.5 .4-2.3 .5-1.7 .4-.8 .5-1.4 .4-1.8 .4-1.3 .5-.6 .4-.3 .4-.4 .5-.1 .4 .4 .4 .3 .5 .3 .4 1.3 .4 .7 .5 1 .4 2.1 .5 2.8 .4 3.2 .4 1.1 .5 .3 .4 2 .4 2.7 .5 2.2 .4 1.9 .4 .6 .5 .5 .4 1.5 .4 .6 .5 .9 .4 3.1 .5 3 .4 .7 .4 .7 .5 1.3 .4 .3 .4-.2 .5-.1 .4 .3 .4 .8 .5 .9 .4 .7 .4 .9 .5 1.7 .4 1.2 .5 .4 .4 0 .4-.8 .5-.4 .4 .2 .4-.5 .5-.3 .4 .3 .4 .9 .5 1.6 .4-.4 .4-.9 .5 .2 .4 1.1 .4 1.8 .5-.6 .4-1.4 .5 1.5 .4 1.3 .4-1.2 .5-.8 .4 .8 .4 .5 .5-1 .4-.8 .4 .7 .5 .8 .4 1.2 .4 1.2 .5-.5 .4-1.4 .5 .6 .4 1.9 .4-.5 .5-1.1 .4-.1 .4-.3 .5 1.1 .4 .8 .4 0 .5-.4 .4-.5 .4 .2 .5 0 .4-.4 .5 .5 .4 .3 .4-1 .5-.9 .4 .2 .4 1.8 .5 .2 .4-1.4 .4 .5 .5 .3 .4-.4 .4 .8 .5 1 .4-.2 .5-1.6 .4-2.1 .4-1 .5 .1 .4 .4 .4-.2 .5 0 .4 1.1 .4 1 .5-.1 .4 0 .4 .3 .5-.5 .4-.6 .5 .2 .4-.2 .4-.4 .5 .9 .4-.1 .4-.5 .5 1.1 .4-.2 .4-.5 .5 2.6 .4 1.5 .4-1.7 .5-1.1 .4 .9 .4 .5 .5-.9 .4 .5 .5 1.5 .4 .3 .4-1.5 .5-1.5 .4 .8 .4 .9 .5-.4 .4 .1 .4 .5 .5-1 .4-.3 .4 1.6 .5 .1 .4-1.2 .5-1.3 .4-.9 .4 .6 .5 .3 .4-.2 .4-.6 .5-1.4 .4-.4 .4 1.6 .5 1 .4-.8 .4-.4 .5 .1 .4-.8 .5-.6 .4-.3 .4-1.6 .5-1.4 .4 .6 .4 1.7 .5 .6 .4-2 .4-1.3 .5 1.3 .4 .2 .4-1.4 .5-.9 .4 .1 .5 .2 .4 .9 .4 .4 .5-2 .4-1.2 .4 1.8 .5-.2 .4-2.6 .4-.5 .5-.1 .4-1.5 .4-.5 .5 0 .4-.6 .4 1 .5 1.2 .4-1 .5-.9 .4 .3 .4-.9 .5-2.3 .4-2.2 .4-1.9 .5-.3 .4 .2 .4-1.1 .5-.8 .4-1.7 .4-2.8 .5-.9 .4-.1 .5-1.1 .4-.8 .4-.2 .5-.3 .4-.6 .4-.5 .5-.3 .4-.6 .4-.5 .5 .4 .4-1.3 .4-2.9 .5-.7 .4 .4 .5 1.4 .4 2.2 .4 0 .5-2.9 .4-3.2 .4-1.2 .5-.9 .4-.3 .4 .5 .5 .8 .4 1.2 .4-.7 .5-1.1 .4 .1 .5 0 .4-.3 .4-.3 .5-.6 .4-.8 .4-1.8 .5-2.7 .4-2.1 .4-.7 .5-.7 .4-.7 .4-.8 .5-.4 .4 .4 .4 .7 .5 .9 .4 1.2 .5 1.3 .4 1.4 .4 .7 .5 1.2 .4 2.1 .4 .7 .5 .4 .4 2.1 .4 2.5 .5 2.5 .4 2.3 .4 1 .5 .9 .4 2.5 .5 1.8 .4-.8 .4-.8 .5 1.2 .4 2.5 .4 2.3 .5 .6 .4 .2 .4 1.1 .5 .5 .4 .2 .4-.3 .5 .8 .4 1.4 .5 0 .4 1 .4 .1 .5-1 .4 1 .4 .4 .5-2 .4-.9 .4 2.7 .5 3 .4-1.4 .4-2.2 .5 .8 .4 0 .5-1.9 .4-.9 .4-.2 .5 .5 .4 .1 .4-1.5 .5-.7 .4 .2 .4-.3 .5-1 .4-.7 .4-1.9 .5-2.8 .4-.6 .4 .2 .5 .3 .4 .2 .5-1.8 .4-1.5 .4-1 .5-1.3 .4-.8 .4-.1 .5-.2 .4-2.2 .4-2.3 .5-1.6 .4-2 .4-2.3 .5-1 .4-.2 .5-1.8 .4-1.5 .4-.8 .5-1 .4-1.4 .4-.6 .5 .1 .4 .5 .4 .9 .5 1 .4 1.7 .4 1.6 .5-.1 .4 .8 .5 2.2 .4 2.3 .4 2.2 .5 2.4 .4 1.9 .4 1.1 .5 1.1 .4 1.3 .4 2.1 .5 2.8 .4 2.9 .4 3.2 .5 1.6 .4 1.5 .5 1.9 .4 .7 .4 .3 .5 .1 .4 2 .4 2.2 .5 .2 .4-.6 .4-.2 .5 2.1 .4 1.3 .4-.4 .5 .7 .4 1.1 .5 .2 .4-1.2 .4-1.1 .5 .7 .4 2.1 .4 .8 .5 1.1 .4 2 .4 .1 .5-.8 .4 .4 .4 .7 .5 1.1 .4 .1 .4-.9 .5 .1 .4 .6 .5 .2 .4 .3 .4 1.2 .5-1.2 .4-1.2 .4 .4 .5-1.4 .4 .1 .4 1.4 .5 .7 .4 .5 .4 .1 .5 .3 .4 .2 .5-.8 .4-1.6 .4-.1 .5 1 .4 .6 .4 1.3 .5 2.1 .4 .9 .4-1.2 .5-.6 .4 .1 .4-1.6 .5-1.9 .4-.5 .5-.3 .4 1.3 .4 1.8 .5-.4 .4-.8 .4 .5 .5 .2 .4 .6 .4 1.6 .5 .8 .4 .1 .4 .4 .5-.2 .4-1.2 .5-.5 .4 .8 .4 .5 .5-.3 .4 .9 .4 .5 .5-.9 .4-.9 .4-.8 .5 .3 .4 1.3 .4 .3 .5-.1 .4 .6 .4 .5 .5-.5 .4-1.1 .5-.4 .4 .3 .4 .4 .5 .8 .4 .1 .4 .2 .5 .5 .4-1.6 .4-1.5 .5 .9 .4 .5 .4-.1 .5 0 .4-.7 .5-.8 .4-.7 .4-.3 .5 0 .4 0 .4 .2 .5 .4 .4-.3 .4-.1 .5-1.3 .4-1.3 .4 1.3 .5 .9 .4 .2 .5 1.4 .4 .7 .4 .1 .5 .4 .4-.2 .4 .2 .5 .7 .4 .2 .4-.4 .5-1.9 .4-.7 .4 .3 .5-.5 .4 .6 .5 .2 .4-.8 .4 .4 .5 .3 .4-.4 .4-.4 .5-.7 .4-1.3 .4-1.2 .5-.1 .4 1.4 .4 2.4 .5 .3 .4-1.3 .4-.4 .5-.8 .4-.2 .5 1 .4-.1 .4 .3 .5 2 .4 .9 .4-1.1 .5-1.2 .4-.8 .4-.7 .5 .5 .4 .9 .4-.9 .5 .4 .4 1.9 .5-1.9 .4-2.6 .4-.7 .5 1 .4 .6 .4-.9 .5-.1 .4 .7 .4 .4 .5-1.8 .4-2.7 .4 .7 .5 1.6 .4-.3 .5-.4 .4 .5 .4 .4 .5-.5 .4-1 .4-2.2 .5-1.9 .4-.4 .4 .2 .5-.3 .4 .4 .4-.1 .5-1.5 .4-.6 .5 0 .4 .2 .4-.4 .5-2 .4-1.2 .4 .2 .5 0 .4 0 .4 0 .5 .4 .4 .7 .4 .1 .5-.5 .4 .8 .4 .5 .5-.6 .4 .5 .5 .9 .4 .9 .4-.1 .5-.8 .4 1.1 .4 1.7 .5 1.9 .4 1 .4-.5 .5-1.1 .4 .1 .4 2.3 .5 .9 .4-.3 .5 1.3 .4 .2 .4-1.3 .5 .9 .4 1.7 .4 .1 .5-.4 .4-.3 .4 .5 .5 .2 .4-.2 .4 1 .5-.9 .4-.3 .5 3.5 .4 1.6 .4-1.3 .5-.3 .4-.6 .4-.5 .5 .4 .4 0 .4 .8 .5 .7 .4-1.1 .4-.1 .5 1.2 .4 .2 .5 .4 .4-.4 .4-2.3 .5-.3 .4 1.4 .4 0 .5-1.5 .4 .4 .4 1.5 .5 .5 .4 .2 .4-.6 .5-.2 .4 0 .5-.4 .4-.4 .4-.3 .5 1.5 .4 1.1 .4-2.3 .5-1 .4 1 .4 .6 .5 1.4 .4 0 .4-1.5 .5-1.1 .4-.3 .4-.3 .5-.2 .4-1.2 .5-1.4 .4 0 .4-.7 .5 0 .4 .8 .4-.8 .5 .7 .4 2.5 .4 .1 .5-1.3 .4-1.5 .4-2.1 .5-.9 .4 1.4 .5 1.5 .4-.1 .4-.3 .5-.7 .4-.9 .4-.5 .5-.4 .4-1.3 .4-2.6 .5-.9 .4 1 .4 .7 .5-.7 .4-2.2 .5-2.1 .4-.9 .4-1.1 .5-.7 .4-.2 .4-1.5 .5-1.2 .4-.4 .4-.3 .5-.9 .4-.9 .4-.7 .5-.4 .4-.3 .5-.4 .4 0 .4 .3 .5 .7 .4 .4 .4 .3 .5 2 .4 1.1 .4-1.3 .5-.5 .4 1.5 .4 1 .5 .3 .4 2.2 .4 2.9 .5 1.6 .4-.3 .5-1.6 .4 .3 .4 2.3 .5 3.1 .4 1.8 .4 .1 .5-1 .4-.6 .4 2 .5 .9 .4-1.4 .4 0 .5 1.7 .4 2.1 .5 1.6 .4-.7 .4-1 .5 1 .4 .5 .4 .4 .5 .5 .4-.9 .4 .4 .5 .9 .4 0 .4-.3 .5 .4 .4 .4 .5 0 .4 1 .4-1.1 .5-1.7 .4 .2 .4 .7 .5 .4 .4 .2 .4 .9 .5 1.4 .4 .2 .4 0 .5 .5 .4-1 .5 .1 .4 1.4 .4-.6 .5-1.3 .4-.6 .4-.1 .5 .6 .4 0 .4-.3 .5 1.7 .4 .2 .4-2.4 .5-.3 .4 .8 .4-.3 .5-1.4 .4-.5 .5 2 .4 2.1 .4 .3 .5-1 .4 .1 .4-.3 .5-.7 .4 1.1 .4 .8 .5-.6 .4 .8 .4 .9 .5 0 .4-.6 .5-1.7 .4-.6 .4 1.1 .5 1.8 .4-.5 .4-2.5 .5-.2 .4 .5 .4 .4 .5 .4 .4-.3 .4-.2 .5-.6 .4 .3 .5 .8 .4-.4 .4 .7 .5-.2 .4-1.2 .4 1 .5 .4 .4-1 .4-.5 .5 .8 .4 1.3 .4-1.5 .5-.5 .4 2.4 .5-.6 .4-1.7 .4 .9 .5 1.6 .4-.2 .4-1.3 .5-.8 .4-.8 .4 .3 .5 1.5 .4 1.2 .4 .2 .5 .5 .4 1 .4-1.5 .5-1.3 .4 1.3 .5 0 .4-1.9 .4-.5 .5 1.4 .4 .8 .4 1.3 .5 1.9 .4-1.2 .4-1.4 .5 .4 .4-.6 .4-.5 .5 0 .4-1.3 .5-1.2 .4-.1 .4 1.2 .5 1.2 .4-1.4 .4-1.8 .5 .5 .4 1.4 .4 .5 .5 .3 .4 .9 .4 0 .5-2 .4-.6 .5 .5 .4-.5 .4 0 .5 .5 .4 .1 .4-.1 .5 .1 .4 .9 .4 0 .5-.3 .4 1.1 .4 .7 .5-1.1 .4-1.7 .5-.2 .4 1.1 .4 .2 .5-.5 .4-.3 .4 .3 .5 .6 .4-.1 .4 .1 .5-.2 .4-.9 .4-.2 .5 .8 .4 .8 .5-.2 .4-.2 .4 .3 .5-.2 .4-.6 .4 .6 .5 1.8 .4-.5 .4-2.1 .5 .2 .4 1.2 .4-.1 .5-.3 .4 .3 .4-.1 .5 .3 .4 1 .5 .2 .4-.1 .4-1.3 .5-1.4 .4 .4 .4 .5 .5 .3 .4 .1 .4-.1 .5-.7 .4-.1 .4 1.6 .5 .2 .4-1.3 .5 1 .4 1.8 .4-.1 .5-2.3 .4-2.4 .4 1.6 .5 1.6 .4-2.3 .4-1.4 .5 .9 .4 .5 .4-.1 .5 .1 .4 .5 .5 .5 .4-.6 .4 0 .5 .3 .4-1.4 .4-.3 .5 1.5 .4 .6 .4-.1 .5-.5 .4-.2 .4 1.2 .5 .3 .4-1.3 .5 0 .4 1.1 .4-.3 .5-1.8 .4-.4 .4 1.8 .5 1.2 .4-.7 .4 0 .5 .4 .4-2.5 .4-2.4 .5 .7 .4 .4 .4-.8 .5-.3 .4 .1 .5-.7 .4-.5 .4-.3 .5-.1 .4 .4 .4 .2 .5 .1 .4 .3 .4 0 .5-.2 .4 .7 .4 1.2 .5 0 .4-.6 .5-1.1 .4 .2 .4 2.4 .5-.8 .4-2.7 .4 .4 .5 2.2 .4 1.2 .4-.1 .5-.4 .4 1.6 .4 2.5 .5-.5 .4-2.3 .5 .3 .4 3.2 .4 1.2 .5-2.3 .4-2.2 .4-.3 .5-.1 .4-1.2 .4 1.2 .5 2.9 .4-.4 .4-2.7 .5-.8 .4 .9 .5 .7 .4-.2 .4-.1 .5 .8 .4 1.3 .4 1.7 .5-.7 .4-2.6 .4-1.4 .5-1.3 .4 .3 .4 1 .5 .1 .4 1.6 .4 .7 .5-.3 .4-.4 .5-.6 .4 .6 .4 .5 .5 .7 .4 .7 .4-.8 .5-1.4 .4-1.1 .4 .2 .5 .8 .4-.1 .4-.8 .5-.5 .4-.3 .5-.7 .4 .5 .4 .7 .5-.6 .4-1 .4-1.7 .5 0 .4 1 .4 .3 .5 1.4 .4 1.2 .4 .4 .5-1.2 .4-1.3 .5 .1 .4-1.2 .4-.3 .5-.2 .4-1.8 .4 .9 .5 .2 .4-2 .4 .8 .5 .2 .4-.7 .4 1.7 .5 .3 .4-3 .5-.4 .4 1.7 .4 .1 .5-1.2 .4-.7 .4 .4 .5-.7 .4-1 .4 .8 .5 .6 .4-1 .4-.2 .5 .2 .4 .5 .4-.5 .5-1.4 .4-.5 .5-.8 .4-.3 .4 .2 .5 0 .4 .2 .4 .2 .5 .2 .4 .3 .4-.1 .5-.4 .4-.1 .4-.1 .5-.4 .4-.1 .5 1.2 .4 .5 .4-1.2 .5-1 .4-.7 .4-.3 .5 .6 .4 .7 .4 .1 .5 .3 .4 1.6 .4 1.3 .5-.1 .4-.6 .5-1 .4-.3 .4 .5 .5 .7 .4 0 .4-1.4 .5-.6 .4 0 .4-.1 .5 .2 .4 .5 .4 .7 .5-.7 .4-1 .5 .4 .4 .7 .4 .3 .5 .2 .4 .3 .4 .2 .5 .2 .4-.1 .4 .3 .5 1.5 .4-.5 .4-1.5 .5-.2 .4 .3 .5 .7 .4 .5 .4-.1 .5 .3 .4 .2 .4 .3 .5 .9 .4-.4 .4-.1 .5 .8 .4 .3 .4-.6 .5 .5 .4 1.1 .4 0 .5-.2 .4-.3 .5 1.3 .4 1.8 .4-.8 .5-.1 .4 1.5 .4-.2 .5-.3 .4 1.1 .4-.4 .5-1.1 .4-.1 .4-1.5 .5-1.3 .4 1.2 .5 1.3 .4 1.2 .4 .6 .5-.3 .4 .5 .4 .3 .5 0 .4 .7 .4 .6 .5-1.2 .4-1.1 .4 .2 .5-.3 .4 .2 .5 1.1 .4 .6 .4 .1 .5 .2 .4 1.2 .4 0 .5-.9 .4 .4 .4-.1 .5-1.1 .4 .4 .4 1.5 .5 .2 .4-1.1 .5-1 .4-.4 .4 1 .5 .8 .4-1.5 .4-1.3 .5 1.2 .4 1.8 .4 .3 .5-.4 .4-.6 .4-.8 .5-.1 .4 .7 .4 1.2 .5 1.4 .4 .1 .5-1.5 .4-1.5 .4 .4 .5 .1 .4-.9 .4 .6 .5 1.6 .4 .3 .4-2 .5-1.4 .4 .1 .4 .4 .5 1.9 .4 1 .5-2.1 .4-2.4 .4 .1 .5 1.8 .4 1 .4-.8 .5 .2 .4 1.9 .4 0 .5-1 .4-.7 .4 .3 .5 .4 .4-.1 .5-.8 .4-.9 .4 .1 .5-.6 .4-.4 .4 1.6 .5 1.2 .4-.5 .4-.1 .5 1.1 .4 1.3 .4-1.3 .5-2.9 .4 1 .5 1.9 .4-.4 .4-.7 .5-.7 .4-.2 .4-.8 .5-1.2 .4 .5 .4 1.2 .5 1.3 .4 1.2 .4-.2 .5-.1 .4 1 .4 .2 .5-.6 .4 .6 .5-.4 .4-2.3 .4-1.2 .5 .8 .4 .5 .4-.5 .5 1.3 .4 1.2 .4-.2 .5-.7 .4 .1 .4 .8 .5-.8 .4 .2 .5 .9 .4 .3 .4 .3 .5-.6 .4-1 .4-.1 .5-.3 .4-.1 .4 .9 .5-.4 .4-.7 .4 0 .5 .8 .4 .6 .5-1 .4 0 .4 .1 .5-1.4 .4 .3 .4 1.9 .5 1.2 .4 .9 .4-1.5 .5-1.9 .4 .2 .4-.4 .5 1.2 .4 1.7 .5-1.2 .4-.3 .4 .9 .5 .2 .4-.3 .4-.5 .5-.5 .4-1.1 .4-.4 .5-.4 .4 0 .4 2 .5 1.4 .4-.9 .4-.2 .5 1.2 .4-1 .5-1.4 .4-1.9 .4-1.1 .5 2.3 .4 1.5 .4 .7 .5-.6 .4-2 .4 .5 .5 1.2 .4 .7 .4 .3 .5-.1 .4 1.2 .5 .8 .4-.8 .4-1 .5-.9 .4 0 .4 1 .5-1.1 .4-1.7 .4 .7 .5 1.3 .4 1.4 .4 .3 .5-1.4 .4-.5 .5 .4 .4 .3 .4 .1 .5-1.7 .4 .1 .4 2.6 .5-.3 .4-.7 .4 1.3 .5-.3 .4-1.3 .4 .6 .5-.1 .4-.8 .5 1.1 .4 .8 .4 1.1 .5 .3 .4-2.4 .4-1 .5 .6 .4-.2 .4 .2 .5 .7 .4-.1 .4 0 .5 .5 .4 .2 .5-.7 .4-1.5 .4-.1 .5 .3 .4-.4 .4-.2 .5-.3 .4 .6 .4 .7 .5-.1 .4 .3 .4 1.2 .5 1.2 .4-.7 .4-1.3 .5-.2 .4 .6 .5-.2 .4-1.6 .4 .6 .5 1.6 .4-.7 .4-.8 .5-.2 .4 .2 .4 .9 .5-.2 .4-1.6 .4-.6 .5 .7 .4-.6 .5-.6 .4 .6 .4 .1 .5 .2 .4 .4 .4-1.1 .5-1.2 .4 .5 .4 .6 .5 .4 .4 .1 .4-.9 .5-1.1 .4 .3 .5 .7 .4-.7 .4-1.2 .5 .6 .4 .8 .4-.6 .5-.2 .4-.2 .4-1.6 .5-1.8 .4 .8 .4 2.6 .5 .2 .4-1.6 .5-.6 .4-1 .4-2.1 .5-.3 .4 .5 .4-.4 .5 .4" stroke="#008000"/>
</g>
<g class="axis">
<rect x="202.3" y="41.5" width="1742.3" height="1281.4"/>
<line x1="202.30" y1="1322.9" x2="202.30" y2="1348.2"/>
<line x1="311.19" y1="1322.9" x2="311.19" y2="1336.0"/>
<line x1="420.09" y1="1322.9" x2="420.09" y2="1348.2"/>
<line x1="528.98" y1="1322.9" x2="528.98" y2="1336.0"/>
<line x1="637.88" y1="1322.9" x2="637.88" y2="1348.2"/>
<line x1="746.77" y1="1322.9" x2="746.77" y2="1336.0"/>
<line x1="855.66" y1="1322.9" x2="855.66" y2="1348.2"/>
<line x1="964.56" y1="1322.9" x2="964.56" y2="1336.0"/>
<line x1="1073.45" y1="1322.9" x2="1073.45" y2="1348.2"/>
<line x1="1182.34" y1="1322.9" x2="1182.34" y2="1336.0"/>
<line x1="1291.24" y1="1322.9" x2="1291.24" y2="1348.2"/>
<line x1="1400.13" y1="1322.9" x2="1400.13" y2="1336.0"/>
<line x1="1509.02" y1="1322.9" x2="1509.02" y2="1348.2"/>
<line x1="1617.92" y1="1322.9" x2="1617.92" y2="1336.0"/>
<line x1="1726.81" y1="1322.9" x2="1726.81" y2="1348.2"/>
<line x1="1835.71" y1="1322.9" x2="1835.71" y2="1336.0"/>
<line x1="1944.60" y1="1322.9" x2="1944.60" y2="1348.2"/>
</g>
<g class="ticklab">
<text transform="translate(156.27 1413.50) scale(1 1.04)" dx="3.85 -3.85">10</text>
<text transform="translate(374.06 1413.50) scale(1 1.04)">20</text>
<text transform="translate(591.85 1413.50) scale(1 1.04)">30</text>
<text transform="translate(809.63 1413.50) scale(1 1.04)">40</text>
<text transform="translate(1027.42 1413.50) scale(1 1.04)">50</text>
<text transform="translate(1245.21 1413.50) scale(1 1.04)">60</text>
<text transform="translate(1463.00 1413.50) scale(1 1.04)">70</text>
<text transform="translate(1680.78 1413.50) scale(1 1.04)">80</text>
<text transform="translate(1898.57 1413.50) scale(1 1.04)">90</text>
</g>
<g class="lab">
<text transform="translate(1115.40 315.50) scale(1 1.04)">H-SnO<tspan dy="30.96" style="font-size:48.5px">2</tspan><tspan dy="-30.96">(0.4)-CuO</tspan></text>
<text transform="translate(1115.40 525.60) scale(1 1.04)">H-SnO<tspan dy="30.96" style="font-size:48.5px">2</tspan><tspan dy="-30.96">-CuO</tspan></text>
<text transform="translate(1111.00 676.50) scale(1 1.04)">H-SnO<tspan dy="30.96" style="font-size:48.5px">2</tspan><tspan dy="-30.96" dx="0 0 0 2.2 -2.2 0 0 0 0">(0.1)-CuO</tspan></text>
<text transform="translate(1111.00 840.60) scale(1 1.04)">H-SnO<tspan dy="30.96" style="font-size:48.5px">2</tspan><tspan dy="-30.96">(0.05)-CuO</tspan></text>
<text transform="translate(1215.40 1019.30) scale(1 1.04)" style="font-size:80.2px">H-CuO</text>
<text transform="translate(1218.40 1203.00) scale(1 1.04)" style="font-size:79.8px">S-CuO</text>
</g>
<g class="title">
<text transform="translate(697.52 1542.00) scale(1 1.04)">2</text>
<text transform="translate(781.80 1542.00) scale(1 1.015)">Theta</text>
<text transform="translate(1074.62 1542.00) scale(1 1.0)">(deg.)</text>
<text transform="translate(101.00 1089.54) rotate(-90) scale(1 1.015)">Intensity</text>
<text transform="translate(101.00 676.17) rotate(-90) scale(1 1.0)">(a.u.)</text>
</g>
<g class="cover">
<rect x="164.20" y="1405.74" width="16.42" height="8.96"/>
<rect x="187.79" y="1405.74" width="15.93" height="8.96"/>
<rect x="1479.89" y="668.93" width="16.02" height="8.77"/>
<rect x="1502.91" y="668.93" width="15.54" height="8.77"/>
</g>
</svg>
</body>
</html>
